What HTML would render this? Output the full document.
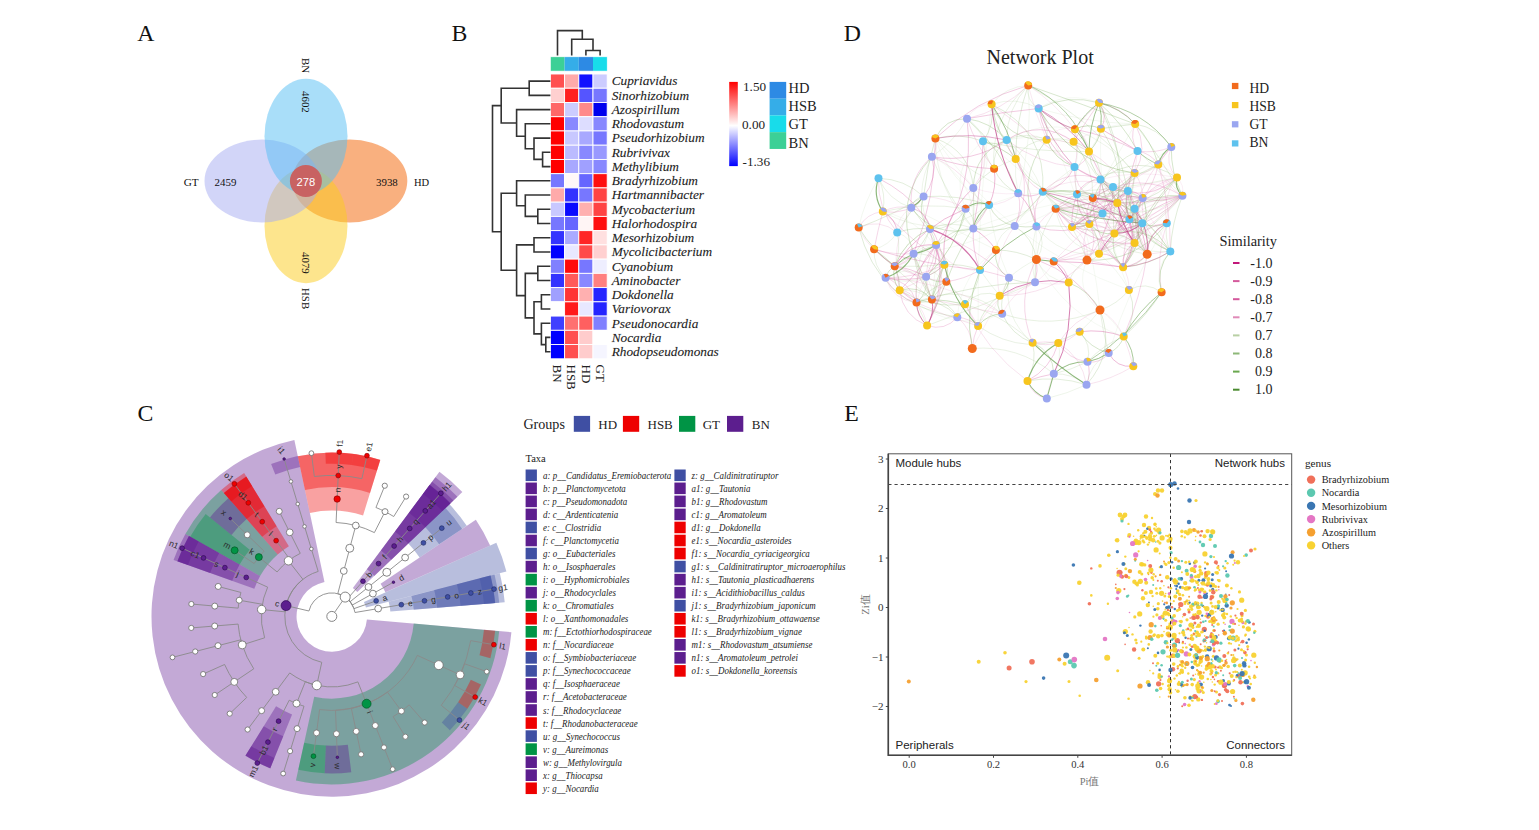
<!DOCTYPE html>
<html><head><meta charset="utf-8"><style>
html,body{margin:0;padding:0;background:#fff;width:1539px;height:830px;overflow:hidden}
svg{display:block}
</style></head><body>
<svg width="1539" height="830" viewBox="0 0 1539 830">
<text x="137.3" y="41.3" font-size="23.8" font-family="Liberation Serif" fill="#111">A</text>
<text x="451.5" y="41.3" font-size="23.8" font-family="Liberation Serif" fill="#111">B</text>
<text x="843.8" y="41.3" font-size="23.8" font-family="Liberation Serif" fill="#111">D</text>
<text x="137.5" y="420.8" font-size="23.8" font-family="Liberation Serif" fill="#111">C</text>
<text x="844.3" y="420.8" font-size="23.8" font-family="Liberation Serif" fill="#111">E</text>
<g>
<ellipse cx="349.8" cy="181" rx="57.5" ry="41.5" fill="#F36100" fill-opacity="0.5"/>
<ellipse cx="306" cy="225.7" rx="41.5" ry="57.5" fill="#FBCB1B" fill-opacity="0.5"/>
<ellipse cx="262" cy="181" rx="57.5" ry="41.5" fill="#A5ABF1" fill-opacity="0.5"/>
<ellipse cx="306" cy="136.3" rx="41.5" ry="57.5" fill="#53BDF3" fill-opacity="0.5"/>
<circle cx="305.9" cy="181" r="16" fill="#C86262"/>
</g>
<text x="183.7" y="186.3" font-size="11.2" font-family="Liberation Serif" fill="#111">GT</text>
<text x="214.6" y="186.3" font-size="10.9" font-family="Liberation Serif" fill="#111">2459</text>
<text x="376" y="186.3" font-size="10.9" font-family="Liberation Serif" fill="#111">3938</text>
<text x="414" y="186.3" font-size="10.5" font-family="Liberation Serif" fill="#111">HD</text>
<text x="296.6" y="186.3" font-size="11.2" font-family="Liberation Sans" fill="#fff">278</text>
<text transform="translate(302,58) rotate(90)" font-size="10.9" font-family="Liberation Serif" fill="#111">BN</text>
<text transform="translate(302,91) rotate(90)" font-size="10.9" font-family="Liberation Serif" fill="#111">4602</text>
<text transform="translate(302,252) rotate(90)" font-size="10.9" font-family="Liberation Serif" fill="#111">4079</text>
<text transform="translate(302,288) rotate(90)" font-size="10.9" font-family="Liberation Serif" fill="#111">HSB</text>
<rect x="550.40" y="56.8" width="14.20" height="14.3" fill="#3CD096"/>
<rect x="564.60" y="56.8" width="14.20" height="14.3" fill="#35ADE8"/>
<rect x="578.80" y="56.8" width="14.20" height="14.3" fill="#2D8AE4"/>
<rect x="593.00" y="56.8" width="14.20" height="14.3" fill="#18DCEA"/>
<rect x="550.4" y="56.8" width="56.80" height="14.3" fill="none" stroke="#fff" stroke-width="0.6"/>
<rect x="550.40" y="74.00" width="14.20" height="14.24" fill="#FF5050" stroke="#fff" stroke-width="0.9"/>
<rect x="564.60" y="74.00" width="14.20" height="14.24" fill="#FFAAAA" stroke="#fff" stroke-width="0.9"/>
<rect x="578.80" y="74.00" width="14.20" height="14.24" fill="#1010FF" stroke="#fff" stroke-width="0.9"/>
<rect x="593.00" y="74.00" width="14.20" height="14.24" fill="#CCCCFF" stroke="#fff" stroke-width="0.9"/>
<rect x="550.40" y="88.24" width="14.20" height="14.24" fill="#FFD0D0" stroke="#fff" stroke-width="0.9"/>
<rect x="564.60" y="88.24" width="14.20" height="14.24" fill="#FF2020" stroke="#fff" stroke-width="0.9"/>
<rect x="578.80" y="88.24" width="14.20" height="14.24" fill="#5555FF" stroke="#fff" stroke-width="0.9"/>
<rect x="593.00" y="88.24" width="14.20" height="14.24" fill="#7777FF" stroke="#fff" stroke-width="0.9"/>
<rect x="550.40" y="102.48" width="14.20" height="14.24" fill="#FF6868" stroke="#fff" stroke-width="0.9"/>
<rect x="564.60" y="102.48" width="14.20" height="14.24" fill="#CCCCFF" stroke="#fff" stroke-width="0.9"/>
<rect x="578.80" y="102.48" width="14.20" height="14.24" fill="#FF8A8A" stroke="#fff" stroke-width="0.9"/>
<rect x="593.00" y="102.48" width="14.20" height="14.24" fill="#0000EE" stroke="#fff" stroke-width="0.9"/>
<rect x="550.40" y="116.72" width="14.20" height="14.24" fill="#FF0000" stroke="#fff" stroke-width="0.9"/>
<rect x="564.60" y="116.72" width="14.20" height="14.24" fill="#8888FF" stroke="#fff" stroke-width="0.9"/>
<rect x="578.80" y="116.72" width="14.20" height="14.24" fill="#DDDDFF" stroke="#fff" stroke-width="0.9"/>
<rect x="593.00" y="116.72" width="14.20" height="14.24" fill="#8888FF" stroke="#fff" stroke-width="0.9"/>
<rect x="550.40" y="130.96" width="14.20" height="14.24" fill="#FF0000" stroke="#fff" stroke-width="0.9"/>
<rect x="564.60" y="130.96" width="14.20" height="14.24" fill="#C8C8FF" stroke="#fff" stroke-width="0.9"/>
<rect x="578.80" y="130.96" width="14.20" height="14.24" fill="#A8A8FF" stroke="#fff" stroke-width="0.9"/>
<rect x="593.00" y="130.96" width="14.20" height="14.24" fill="#7777FF" stroke="#fff" stroke-width="0.9"/>
<rect x="550.40" y="145.20" width="14.20" height="14.24" fill="#FF0000" stroke="#fff" stroke-width="0.9"/>
<rect x="564.60" y="145.20" width="14.20" height="14.24" fill="#BBBBFF" stroke="#fff" stroke-width="0.9"/>
<rect x="578.80" y="145.20" width="14.20" height="14.24" fill="#8888FF" stroke="#fff" stroke-width="0.9"/>
<rect x="593.00" y="145.20" width="14.20" height="14.24" fill="#9999FF" stroke="#fff" stroke-width="0.9"/>
<rect x="550.40" y="159.44" width="14.20" height="14.24" fill="#FF0000" stroke="#fff" stroke-width="0.9"/>
<rect x="564.60" y="159.44" width="14.20" height="14.24" fill="#A8A8FF" stroke="#fff" stroke-width="0.9"/>
<rect x="578.80" y="159.44" width="14.20" height="14.24" fill="#A0A0FF" stroke="#fff" stroke-width="0.9"/>
<rect x="593.00" y="159.44" width="14.20" height="14.24" fill="#8888FF" stroke="#fff" stroke-width="0.9"/>
<rect x="550.40" y="173.68" width="14.20" height="14.24" fill="#7777FF" stroke="#fff" stroke-width="0.9"/>
<rect x="564.60" y="173.68" width="14.20" height="14.24" fill="#FFF8F8" stroke="#fff" stroke-width="0.9"/>
<rect x="578.80" y="173.68" width="14.20" height="14.24" fill="#6666FF" stroke="#fff" stroke-width="0.9"/>
<rect x="593.00" y="173.68" width="14.20" height="14.24" fill="#FF1010" stroke="#fff" stroke-width="0.9"/>
<rect x="550.40" y="187.92" width="14.20" height="14.24" fill="#FFAAAA" stroke="#fff" stroke-width="0.9"/>
<rect x="564.60" y="187.92" width="14.20" height="14.24" fill="#3333FF" stroke="#fff" stroke-width="0.9"/>
<rect x="578.80" y="187.92" width="14.20" height="14.24" fill="#7777FF" stroke="#fff" stroke-width="0.9"/>
<rect x="593.00" y="187.92" width="14.20" height="14.24" fill="#FF4444" stroke="#fff" stroke-width="0.9"/>
<rect x="550.40" y="202.16" width="14.20" height="14.24" fill="#C8C8FF" stroke="#fff" stroke-width="0.9"/>
<rect x="564.60" y="202.16" width="14.20" height="14.24" fill="#0A0AFF" stroke="#fff" stroke-width="0.9"/>
<rect x="578.80" y="202.16" width="14.20" height="14.24" fill="#FFB0B0" stroke="#fff" stroke-width="0.9"/>
<rect x="593.00" y="202.16" width="14.20" height="14.24" fill="#FF4444" stroke="#fff" stroke-width="0.9"/>
<rect x="550.40" y="216.40" width="14.20" height="14.24" fill="#7777FF" stroke="#fff" stroke-width="0.9"/>
<rect x="564.60" y="216.40" width="14.20" height="14.24" fill="#6666FF" stroke="#fff" stroke-width="0.9"/>
<rect x="578.80" y="216.40" width="14.20" height="14.24" fill="#FFF5F5" stroke="#fff" stroke-width="0.9"/>
<rect x="593.00" y="216.40" width="14.20" height="14.24" fill="#FF1010" stroke="#fff" stroke-width="0.9"/>
<rect x="550.40" y="230.64" width="14.20" height="14.24" fill="#3333FF" stroke="#fff" stroke-width="0.9"/>
<rect x="564.60" y="230.64" width="14.20" height="14.24" fill="#AAAAFF" stroke="#fff" stroke-width="0.9"/>
<rect x="578.80" y="230.64" width="14.20" height="14.24" fill="#FF2525" stroke="#fff" stroke-width="0.9"/>
<rect x="593.00" y="230.64" width="14.20" height="14.24" fill="#FFE0E0" stroke="#fff" stroke-width="0.9"/>
<rect x="550.40" y="244.88" width="14.20" height="14.24" fill="#0000FF" stroke="#fff" stroke-width="0.9"/>
<rect x="564.60" y="244.88" width="14.20" height="14.24" fill="#E8E8FF" stroke="#fff" stroke-width="0.9"/>
<rect x="578.80" y="244.88" width="14.20" height="14.24" fill="#FF4A4A" stroke="#fff" stroke-width="0.9"/>
<rect x="593.00" y="244.88" width="14.20" height="14.24" fill="#FFD0D0" stroke="#fff" stroke-width="0.9"/>
<rect x="550.40" y="259.12" width="14.20" height="14.24" fill="#8080FF" stroke="#fff" stroke-width="0.9"/>
<rect x="564.60" y="259.12" width="14.20" height="14.24" fill="#FF0A0A" stroke="#fff" stroke-width="0.9"/>
<rect x="578.80" y="259.12" width="14.20" height="14.24" fill="#7777FF" stroke="#fff" stroke-width="0.9"/>
<rect x="593.00" y="259.12" width="14.20" height="14.24" fill="#EEEEFF" stroke="#fff" stroke-width="0.9"/>
<rect x="550.40" y="273.36" width="14.20" height="14.24" fill="#3333FF" stroke="#fff" stroke-width="0.9"/>
<rect x="564.60" y="273.36" width="14.20" height="14.24" fill="#FF5A5A" stroke="#fff" stroke-width="0.9"/>
<rect x="578.80" y="273.36" width="14.20" height="14.24" fill="#8888FF" stroke="#fff" stroke-width="0.9"/>
<rect x="593.00" y="273.36" width="14.20" height="14.24" fill="#FF8080" stroke="#fff" stroke-width="0.9"/>
<rect x="550.40" y="287.60" width="14.20" height="14.24" fill="#A0A0FF" stroke="#fff" stroke-width="0.9"/>
<rect x="564.60" y="287.60" width="14.20" height="14.24" fill="#FF3535" stroke="#fff" stroke-width="0.9"/>
<rect x="578.80" y="287.60" width="14.20" height="14.24" fill="#FFB0B0" stroke="#fff" stroke-width="0.9"/>
<rect x="593.00" y="287.60" width="14.20" height="14.24" fill="#2525FF" stroke="#fff" stroke-width="0.9"/>
<rect x="550.40" y="301.84" width="14.20" height="14.24" fill="#FFFFFF" stroke="#fff" stroke-width="0.9"/>
<rect x="564.60" y="301.84" width="14.20" height="14.24" fill="#FF1A1A" stroke="#fff" stroke-width="0.9"/>
<rect x="578.80" y="301.84" width="14.20" height="14.24" fill="#E8E8FF" stroke="#fff" stroke-width="0.9"/>
<rect x="593.00" y="301.84" width="14.20" height="14.24" fill="#2525FF" stroke="#fff" stroke-width="0.9"/>
<rect x="550.40" y="316.08" width="14.20" height="14.24" fill="#4040FF" stroke="#fff" stroke-width="0.9"/>
<rect x="564.60" y="316.08" width="14.20" height="14.24" fill="#FF7070" stroke="#fff" stroke-width="0.9"/>
<rect x="578.80" y="316.08" width="14.20" height="14.24" fill="#FF6060" stroke="#fff" stroke-width="0.9"/>
<rect x="593.00" y="316.08" width="14.20" height="14.24" fill="#8080FF" stroke="#fff" stroke-width="0.9"/>
<rect x="550.40" y="330.32" width="14.20" height="14.24" fill="#0000FF" stroke="#fff" stroke-width="0.9"/>
<rect x="564.60" y="330.32" width="14.20" height="14.24" fill="#FF5050" stroke="#fff" stroke-width="0.9"/>
<rect x="578.80" y="330.32" width="14.20" height="14.24" fill="#FFCCCC" stroke="#fff" stroke-width="0.9"/>
<rect x="593.00" y="330.32" width="14.20" height="14.24" fill="#FFFFFF" stroke="#fff" stroke-width="0.9"/>
<rect x="550.40" y="344.56" width="14.20" height="14.24" fill="#0000FF" stroke="#fff" stroke-width="0.9"/>
<rect x="564.60" y="344.56" width="14.20" height="14.24" fill="#FF5050" stroke="#fff" stroke-width="0.9"/>
<rect x="578.80" y="344.56" width="14.20" height="14.24" fill="#FFCCCC" stroke="#fff" stroke-width="0.9"/>
<rect x="593.00" y="344.56" width="14.20" height="14.24" fill="#F5F5FF" stroke="#fff" stroke-width="0.9"/>
<path d="M550.4,81.1H529.2V95.4H550.4M550.4,152.3H542.6V166.6H550.4M550.4,138.1H534.0V159.4H542.6M550.4,123.8H525.3V148.8H534.0M550.4,109.6H516.6V136.3H525.3M529.2,88.2H501.2V123.0H516.6M550.4,209.3H537.8V223.5H550.4M550.4,195.0H525.3V216.4H537.8M550.4,180.8H516.6V205.7H525.3M550.4,237.8H534.0V252.0H550.4M550.4,266.2H537.8V280.5H550.4M550.4,294.7H541.4V309.0H550.4M550.4,337.4H545.8V351.7H550.4M550.4,323.2H541.4V344.6H545.8M541.4,301.8H534.0V333.9H541.4M537.8,273.4H525.3V317.9H534.0M534.0,244.9H516.6V295.6H525.3M516.6,193.3H501.2V270.2H516.6M501.2,105.6H492.5V231.8H501.2M585.9,55.5V50.5H600.1V55.5M571.7,55.5V39.3H593.0V50.5M557.5,55.5V30.6H582.3V39.3" fill="none" stroke="#333" stroke-width="1.6"/>
<text x="611.7" y="85.4" font-size="13.3" font-style="italic" font-family="Liberation Serif" fill="#222" stroke="#222" stroke-width="0.3" stroke-opacity="0.35">Cupriavidus</text>
<text x="611.7" y="99.7" font-size="13.3" font-style="italic" font-family="Liberation Serif" fill="#222" stroke="#222" stroke-width="0.3" stroke-opacity="0.35">Sinorhizobium</text>
<text x="611.7" y="113.9" font-size="13.3" font-style="italic" font-family="Liberation Serif" fill="#222" stroke="#222" stroke-width="0.3" stroke-opacity="0.35">Azospirillum</text>
<text x="611.7" y="128.1" font-size="13.3" font-style="italic" font-family="Liberation Serif" fill="#222" stroke="#222" stroke-width="0.3" stroke-opacity="0.35">Rhodovastum</text>
<text x="611.7" y="142.4" font-size="13.3" font-style="italic" font-family="Liberation Serif" fill="#222" stroke="#222" stroke-width="0.3" stroke-opacity="0.35">Pseudorhizobium</text>
<text x="611.7" y="156.6" font-size="13.3" font-style="italic" font-family="Liberation Serif" fill="#222" stroke="#222" stroke-width="0.3" stroke-opacity="0.35">Rubrivivax</text>
<text x="611.7" y="170.9" font-size="13.3" font-style="italic" font-family="Liberation Serif" fill="#222" stroke="#222" stroke-width="0.3" stroke-opacity="0.35">Methylibium</text>
<text x="611.7" y="185.1" font-size="13.3" font-style="italic" font-family="Liberation Serif" fill="#222" stroke="#222" stroke-width="0.3" stroke-opacity="0.35">Bradyrhizobium</text>
<text x="611.7" y="199.3" font-size="13.3" font-style="italic" font-family="Liberation Serif" fill="#222" stroke="#222" stroke-width="0.3" stroke-opacity="0.35">Hartmannibacter</text>
<text x="611.7" y="213.6" font-size="13.3" font-style="italic" font-family="Liberation Serif" fill="#222" stroke="#222" stroke-width="0.3" stroke-opacity="0.35">Mycobacterium</text>
<text x="611.7" y="227.8" font-size="13.3" font-style="italic" font-family="Liberation Serif" fill="#222" stroke="#222" stroke-width="0.3" stroke-opacity="0.35">Halorhodospira</text>
<text x="611.7" y="242.1" font-size="13.3" font-style="italic" font-family="Liberation Serif" fill="#222" stroke="#222" stroke-width="0.3" stroke-opacity="0.35">Mesorhizobium</text>
<text x="611.7" y="256.3" font-size="13.3" font-style="italic" font-family="Liberation Serif" fill="#222" stroke="#222" stroke-width="0.3" stroke-opacity="0.35">Mycolicibacterium</text>
<text x="611.7" y="270.5" font-size="13.3" font-style="italic" font-family="Liberation Serif" fill="#222" stroke="#222" stroke-width="0.3" stroke-opacity="0.35">Cyanobium</text>
<text x="611.7" y="284.8" font-size="13.3" font-style="italic" font-family="Liberation Serif" fill="#222" stroke="#222" stroke-width="0.3" stroke-opacity="0.35">Aminobacter</text>
<text x="611.7" y="299.0" font-size="13.3" font-style="italic" font-family="Liberation Serif" fill="#222" stroke="#222" stroke-width="0.3" stroke-opacity="0.35">Dokdonella</text>
<text x="611.7" y="313.3" font-size="13.3" font-style="italic" font-family="Liberation Serif" fill="#222" stroke="#222" stroke-width="0.3" stroke-opacity="0.35">Variovorax</text>
<text x="611.7" y="327.5" font-size="13.3" font-style="italic" font-family="Liberation Serif" fill="#222" stroke="#222" stroke-width="0.3" stroke-opacity="0.35">Pseudonocardia</text>
<text x="611.7" y="341.7" font-size="13.3" font-style="italic" font-family="Liberation Serif" fill="#222" stroke="#222" stroke-width="0.3" stroke-opacity="0.35">Nocardia</text>
<text x="611.7" y="356.0" font-size="13.3" font-style="italic" font-family="Liberation Serif" fill="#222" stroke="#222" stroke-width="0.3" stroke-opacity="0.35">Rhodopseudomonas</text>
<text transform="translate(553.2,364.5) rotate(90)" font-size="13" font-family="Liberation Serif" fill="#222">BN</text>
<text transform="translate(567.4,364.5) rotate(90)" font-size="13" font-family="Liberation Serif" fill="#222">HSB</text>
<text transform="translate(581.6,364.5) rotate(90)" font-size="13" font-family="Liberation Serif" fill="#222">HD</text>
<text transform="translate(595.8,364.5) rotate(90)" font-size="13" font-family="Liberation Serif" fill="#222">GT</text>
<defs><linearGradient id="cb" x1="0" y1="0" x2="0" y2="1"><stop offset="0" stop-color="#FF0000"/><stop offset="0.52" stop-color="#FFFFFF"/><stop offset="1" stop-color="#0000FF"/></linearGradient></defs>
<rect x="729.2" y="81.9" width="8.6" height="84.2" fill="url(#cb)"/>
<text x="743" y="90.8" font-size="13.2" font-family="Liberation Serif" fill="#222">1.50</text>
<text x="742" y="128.5" font-size="13.2" font-family="Liberation Serif" fill="#222">0.00</text>
<text x="742.5" y="165.6" font-size="13.2" font-family="Liberation Serif" fill="#222">-1.36</text>
<rect x="769.6" y="81.90" width="16.6" height="16.8" fill="#2D8AE4"/>
<text x="788.5" y="93.30" font-size="14.5" font-family="Liberation Serif" fill="#222">HD</text>
<rect x="769.6" y="98.65" width="16.6" height="16.8" fill="#35ADE8"/>
<text x="788.5" y="111.37" font-size="14.5" font-family="Liberation Serif" fill="#222">HSB</text>
<rect x="769.6" y="115.40" width="16.6" height="16.8" fill="#18DCEA"/>
<text x="788.5" y="129.44" font-size="14.5" font-family="Liberation Serif" fill="#222">GT</text>
<rect x="769.6" y="132.15" width="16.6" height="16.8" fill="#3CD096"/>
<text x="788.5" y="147.51" font-size="14.5" font-family="Liberation Serif" fill="#222">BN</text>
<g>
<path d="M294.36,440.03A180.3,180.3 0 1 0 511.40,632.22L366.91,619.49A35.25,35.25 0 1 1 324.48,581.92Z" fill="#5C1690" fill-opacity="0.37"/>
<path d="M462.36,492.05A180.3,180.3 0 0 0 439.46,471.77L352.85,588.12A35.25,35.25 0 0 1 357.32,592.09Z" fill="#5C1690" fill-opacity="0.37"/>
<path d="M506.42,571.52A180.3,180.3 0 0 0 496.33,542.65L363.97,601.98A35.25,35.25 0 0 1 365.94,607.62Z" fill="#3F4FA3" fill-opacity="0.37"/>
<path d="M457.43,496.74A173.5,173.5 0 0 0 435.40,477.23L366.88,569.27A58.75,58.75 0 0 1 374.34,575.88Z" fill="#5C1690" fill-opacity="0.37"/>
<path d="M490.12,545.43A173.5,173.5 0 0 0 475.85,519.69L380.58,583.65A58.75,58.75 0 0 1 385.41,592.37Z" fill="#5C1690" fill-opacity="0.37"/>
<path d="M504.72,602.23A173.5,173.5 0 0 0 499.84,573.21L388.70,601.77A58.75,58.75 0 0 1 390.35,611.60Z" fill="#3F4FA3" fill-opacity="0.37"/>
<path d="M244.16,473.07A168.0,168.0 0 0 0 221.20,489.95L277.65,554.49A82.25,82.25 0 0 1 288.89,546.23Z" fill="#EE0000" fill-opacity="0.37"/>
<path d="M221.20,489.95A168.0,168.0 0 0 0 185.39,534.02L260.12,576.07A82.25,82.25 0 0 1 277.65,554.49Z" fill="#009445" fill-opacity="0.37"/>
<path d="M185.39,534.02A168.0,168.0 0 0 0 173.57,559.95L254.33,588.76A82.25,82.25 0 0 1 260.12,576.07Z" fill="#5C1690" fill-opacity="0.37"/>
<path d="M295.91,780.52A168.0,168.0 0 0 0 499.15,631.14L413.73,623.62A82.25,82.25 0 0 1 314.23,696.75Z" fill="#009445" fill-opacity="0.37"/>
<path d="M453.45,500.53A168.0,168.0 0 0 0 432.12,481.64L380.91,550.42A82.25,82.25 0 0 1 391.36,559.67Z" fill="#5C1690" fill-opacity="0.37"/>
<path d="M499.24,602.68A168.0,168.0 0 0 0 494.51,574.58L411.46,595.92A82.25,82.25 0 0 1 413.78,609.68Z" fill="#3F4FA3" fill-opacity="0.37"/>
<path d="M246.35,476.66A163.8,163.8 0 0 0 223.96,493.11L262.18,536.80A105.75,105.75 0 0 1 276.63,526.18Z" fill="#EE0000" fill-opacity="0.37"/>
<path d="M205.68,513.93A162.5,162.5 0 0 0 190.18,536.71L239.64,564.54A105.75,105.75 0 0 1 249.73,549.71Z" fill="#009445" fill-opacity="0.37"/>
<path d="M189.05,536.08A163.8,163.8 0 0 0 177.52,561.36L232.20,580.87A105.75,105.75 0 0 1 239.64,564.54Z" fill="#5C1690" fill-opacity="0.37"/>
<path d="M245.50,755.62A163.8,163.8 0 0 0 270.27,768.20L292.07,714.40A105.75,105.75 0 0 1 276.08,706.28Z" fill="#5C1690" fill-opacity="0.37"/>
<path d="M380.25,459.93A163.8,163.8 0 0 0 297.79,456.17L309.84,512.96A105.75,105.75 0 0 1 363.08,515.38Z" fill="#EE0000" fill-opacity="0.37"/>
<path d="M450.41,503.43A163.8,163.8 0 0 0 429.61,485.01L394.95,531.57A105.75,105.75 0 0 1 408.37,543.47Z" fill="#5C1690" fill-opacity="0.37"/>
<path d="M466.72,525.83A162.5,162.5 0 0 0 449.47,504.33L408.37,543.47A105.75,105.75 0 0 1 419.60,557.46Z" fill="#3F4FA3" fill-opacity="0.37"/>
<path d="M495.05,603.02A163.8,163.8 0 0 0 490.44,575.62L434.22,590.07A105.75,105.75 0 0 1 437.20,607.76Z" fill="#3F4FA3" fill-opacity="0.37"/>
<path d="M246.35,476.66A163.8,163.8 0 0 0 223.96,493.11L246.71,519.11A129.25,129.25 0 0 1 264.37,506.13Z" fill="#EE0000" fill-opacity="0.37"/>
<path d="M228.44,498.23A157.0,157.0 0 0 0 209.95,517.39L231.49,534.89A129.25,129.25 0 0 1 246.71,519.11Z" fill="#5C1690" fill-opacity="0.37"/>
<path d="M189.05,536.08A163.8,163.8 0 0 0 177.52,561.36L210.07,572.97A129.25,129.25 0 0 1 219.16,553.02Z" fill="#5C1690" fill-opacity="0.37"/>
<path d="M245.50,755.62A163.8,163.8 0 0 0 270.27,768.20L283.25,736.18A129.25,129.25 0 0 1 263.70,726.25Z" fill="#5C1690" fill-opacity="0.37"/>
<path d="M298.26,769.78A157.0,157.0 0 0 0 324.66,773.24L325.93,745.52A129.25,129.25 0 0 1 304.19,742.67Z" fill="#009445" fill-opacity="0.37"/>
<path d="M324.66,773.24A157.0,157.0 0 0 0 351.27,772.19L347.83,744.65A129.25,129.25 0 0 1 325.93,745.52Z" fill="#5C1690" fill-opacity="0.37"/>
<path d="M380.25,459.93A163.8,163.8 0 0 0 297.79,456.17L304.96,489.97A129.25,129.25 0 0 1 370.03,492.93Z" fill="#EE0000" fill-opacity="0.37"/>
<path d="M450.41,503.43A163.8,163.8 0 0 0 429.61,485.01L408.98,512.72A129.25,129.25 0 0 1 425.39,527.26Z" fill="#5C1690" fill-opacity="0.37"/>
<path d="M462.15,528.89A157.0,157.0 0 0 0 445.49,508.12L425.39,527.26A129.25,129.25 0 0 1 439.11,544.36Z" fill="#3F4FA3" fill-opacity="0.37"/>
<path d="M495.05,603.02A163.8,163.8 0 0 0 490.44,575.62L456.98,584.22A129.25,129.25 0 0 1 460.62,605.84Z" fill="#3F4FA3" fill-opacity="0.37"/>
<path d="M246.24,476.48A164.0,164.0 0 0 0 223.83,492.96L231.24,501.42A152.75,152.75 0 0 1 252.11,486.08Z" fill="#EE0000" fill-opacity="0.37"/>
<path d="M188.87,535.98A164.0,164.0 0 0 0 177.34,561.29L187.93,565.07A152.75,152.75 0 0 1 198.68,541.50Z" fill="#5C1690" fill-opacity="0.37"/>
<path d="M245.39,755.79A164.0,164.0 0 0 0 270.19,768.39L274.42,757.96A152.75,152.75 0 0 1 251.32,746.23Z" fill="#5C1690" fill-opacity="0.37"/>
<path d="M449.86,730.23A164.0,164.0 0 0 0 467.40,708.64L458.10,702.31A152.75,152.75 0 0 1 441.76,722.42Z" fill="#3F4FA3" fill-opacity="0.37"/>
<path d="M467.40,708.64A164.0,164.0 0 0 0 481.04,684.40L470.80,679.73A152.75,152.75 0 0 1 458.10,702.31Z" fill="#EE0000" fill-opacity="0.37"/>
<path d="M490.38,658.20A164.0,164.0 0 0 0 495.17,630.79L483.96,629.81A152.75,152.75 0 0 1 479.51,655.33Z" fill="#EE0000" fill-opacity="0.37"/>
<path d="M297.74,455.97A164.0,164.0 0 0 0 271.12,464.04L275.28,474.49A152.75,152.75 0 0 1 300.08,466.98Z" fill="#5C1690" fill-opacity="0.37"/>
<path d="M353.14,453.79A164.0,164.0 0 0 0 325.35,452.53L325.79,463.77A152.75,152.75 0 0 1 351.67,464.95Z" fill="#EE0000" fill-opacity="0.37"/>
<path d="M380.31,459.74A164.0,164.0 0 0 0 353.14,453.79L351.67,464.95A152.75,152.75 0 0 1 376.98,470.49Z" fill="#EE0000" fill-opacity="0.37"/>
<path d="M450.55,503.29A164.0,164.0 0 0 0 429.73,484.85L423.01,493.87A152.75,152.75 0 0 1 442.41,511.05Z" fill="#5C1690" fill-opacity="0.37"/>
<path d="M495.25,603.00A164.0,164.0 0 0 0 490.64,575.57L479.74,578.37A152.75,152.75 0 0 1 484.04,603.92Z" fill="#3F4FA3" fill-opacity="0.37"/>
</g>
<path d="M331.80,616.40L345.18,597.08M345.18,597.08A23.5,23.5 0 0 0 308.93,611.00L286.06,605.60M286.06,605.60A47.0,47.0 0 0 1 302.91,579.33L288.46,560.79M288.46,560.79A70.5,70.5 0 0 1 300.25,553.35L289.74,532.33M289.74,532.33L279.22,511.32M288.46,560.79A70.5,70.5 0 0 1 290.05,559.59L276.14,540.65M276.14,540.65L262.22,521.72M262.22,521.72L248.31,502.78M248.31,502.78L234.39,483.84M288.46,560.79A70.5,70.5 0 0 0 277.08,571.94L258.85,557.12M258.85,557.12A94.0,94.0 0 0 0 254.08,563.52L234.65,550.30M258.85,557.12A94.0,94.0 0 0 1 264.14,551.15L247.22,534.84M247.22,534.84L230.30,518.52M286.06,605.60A47.0,47.0 0 0 0 285.02,611.83L261.63,609.54M261.63,609.54A70.5,70.5 0 0 1 267.65,587.16L246.26,577.42M246.26,577.42L224.88,567.67M224.88,567.67L203.50,557.93M203.50,557.93L182.11,548.18M261.63,609.54A70.5,70.5 0 0 1 262.35,604.27L239.20,600.23M239.20,600.23A94.0,94.0 0 0 1 240.91,592.44L218.18,586.44M239.20,600.23A94.0,94.0 0 0 0 238.16,608.14L214.75,606.08M214.75,606.08L191.35,604.01M261.63,609.54A70.5,70.5 0 0 0 264.62,637.79L242.23,644.92M242.23,644.92A94.0,94.0 0 0 1 238.11,624.09L214.69,626.01M214.69,626.01L191.27,627.93M242.23,644.92A94.0,94.0 0 0 1 240.76,639.81L218.00,645.66M218.00,645.66L195.24,651.51M195.24,651.51L172.48,657.37M242.23,644.92A94.0,94.0 0 0 0 253.76,668.80L234.25,681.90M234.25,681.90A117.5,117.5 0 0 1 224.58,664.47L203.14,674.09M234.25,681.90L214.74,695.00M234.25,681.90A117.5,117.5 0 0 0 246.72,697.45L229.71,713.65M286.06,605.60A47.0,47.0 0 0 0 321.76,662.32L316.74,685.27M316.74,685.27A70.5,70.5 0 0 1 289.71,672.95L275.68,691.81M275.68,691.81L261.64,710.66M261.64,710.66L247.61,729.51M316.74,685.27A70.5,70.5 0 0 1 305.32,681.74L296.49,703.52M296.49,703.52A94.0,94.0 0 0 1 289.23,700.21L278.58,721.16M278.58,721.16L267.94,742.11M267.94,742.11L257.30,763.06M296.49,703.52A94.0,94.0 0 0 0 304.00,706.20L297.05,728.65M297.05,728.65L290.11,751.09M290.11,751.09L283.16,773.54M316.74,685.27A70.5,70.5 0 0 0 357.89,681.89L366.59,703.73M366.59,703.73A94.0,94.0 0 0 1 319.58,709.60L316.52,732.90M316.52,732.90L313.47,756.20M366.59,703.73A94.0,94.0 0 0 1 335.51,710.33L336.43,733.81M336.43,733.81L337.36,757.29M366.59,703.73A94.0,94.0 0 0 1 351.33,708.35L356.21,731.34M356.21,731.34L361.09,754.32M366.59,703.73L375.28,725.56M375.28,725.56L383.98,747.39M383.98,747.39L392.68,769.22M366.59,703.73A94.0,94.0 0 0 0 387.47,692.14L401.39,711.08M401.39,711.08A117.5,117.5 0 0 1 393.11,716.64L405.37,736.69M401.39,711.08A117.5,117.5 0 0 0 409.17,704.84L424.64,722.52M366.59,703.73A94.0,94.0 0 0 0 417.34,655.37L438.72,665.12M438.72,665.12L460.11,674.86M460.11,674.86A141.0,141.0 0 0 1 441.24,705.31L459.48,720.12M460.11,674.86A141.0,141.0 0 0 1 454.69,685.53L475.17,697.05M460.11,674.86A141.0,141.0 0 0 0 464.61,663.77L486.74,671.66M460.11,674.86A141.0,141.0 0 0 0 470.70,640.64L493.85,644.68M286.06,605.60A47.0,47.0 0 0 1 318.18,571.42L311.36,548.93M311.36,548.93L304.55,526.44M304.55,526.44L297.74,503.94M297.74,503.94L290.93,481.45M290.93,481.45L284.12,458.96M345.18,597.08A23.5,23.5 0 0 0 337.79,593.68L343.78,570.95M343.78,570.95L349.78,548.23M349.78,548.23L355.77,525.51M355.77,525.51A94.0,94.0 0 0 0 336.08,522.50L337.15,499.02M337.15,499.02L338.22,475.55M338.22,475.55A141.0,141.0 0 0 0 314.32,476.49L311.41,453.17M338.22,475.55L339.29,452.07M338.22,475.55A141.0,141.0 0 0 1 361.93,478.66L366.96,455.70M355.77,525.51A94.0,94.0 0 0 1 374.38,532.60L385.03,511.65M385.03,511.65A117.5,117.5 0 0 0 375.95,507.51L384.78,485.73M385.03,511.65A117.5,117.5 0 0 1 393.72,516.54L406.10,496.57M345.18,597.08A23.5,23.5 0 0 1 347.38,598.81L362.96,581.22M362.96,581.22L378.54,563.62M378.54,563.62L394.12,546.03M394.12,546.03L409.70,528.44M409.70,528.44L425.28,510.85M425.28,510.85L440.87,493.25M345.18,597.08A23.5,23.5 0 0 1 350.13,601.69L368.46,586.99M368.46,586.99L386.79,572.28M386.79,572.28L405.12,557.58M405.12,557.58L423.45,542.87M423.45,542.87L441.78,528.16M345.18,597.08A23.5,23.5 0 0 1 352.35,605.00L372.90,593.61M372.90,593.61L393.45,582.21M345.18,597.08A23.5,23.5 0 0 1 353.98,608.64L376.16,600.88M345.18,597.08A23.5,23.5 0 0 1 354.97,612.50L378.15,608.60M378.15,608.60L401.32,604.70M401.32,604.70L424.50,600.80M424.50,600.80L447.67,596.91M447.67,596.91L470.85,593.01M470.85,593.01L494.02,589.11" fill="none" stroke="#8a8a8a" stroke-width="0.9"/>
<circle cx="331.80" cy="616.40" r="5" fill="#fff" stroke="#777" stroke-width="0.9"/>
<circle cx="345.18" cy="597.08" r="5" fill="#fff" stroke="#777" stroke-width="0.9"/>
<circle cx="286.06" cy="605.60" r="5" fill="#5C1E8E" stroke="#2E0A50" stroke-width="0.8" stroke-opacity="0.8"/>
<circle cx="288.46" cy="560.79" r="4.2" fill="#fff" stroke="#777" stroke-width="0.9"/>
<circle cx="289.74" cy="532.33" r="3.4" fill="#fff" stroke="#777" stroke-width="0.9"/>
<circle cx="279.22" cy="511.32" r="3.0" fill="#fff" stroke="#777" stroke-width="0.9"/>
<circle cx="276.14" cy="540.65" r="2.4" fill="#EE0000" stroke="#8A0000" stroke-width="0.8" stroke-opacity="0.8"/>
<circle cx="262.22" cy="521.72" r="2.4" fill="#EE0000" stroke="#8A0000" stroke-width="0.8" stroke-opacity="0.8"/>
<circle cx="248.31" cy="502.78" r="2.4" fill="#EE0000" stroke="#8A0000" stroke-width="0.8" stroke-opacity="0.8"/>
<circle cx="234.39" cy="483.84" r="2.4" fill="#EE0000" stroke="#8A0000" stroke-width="0.8" stroke-opacity="0.8"/>
<circle cx="258.85" cy="557.12" r="3.5" fill="#009445" stroke="#005522" stroke-width="0.8" stroke-opacity="0.8"/>
<circle cx="234.65" cy="550.30" r="3.5" fill="#009445" stroke="#005522" stroke-width="0.8" stroke-opacity="0.8"/>
<circle cx="247.22" cy="534.84" r="3.0" fill="#fff" stroke="#777" stroke-width="0.9"/>
<circle cx="230.30" cy="518.52" r="1.3" fill="#5C1E8E" stroke="#2E0A50" stroke-width="0.8" stroke-opacity="0.8"/>
<circle cx="261.63" cy="609.54" r="4.2" fill="#fff" stroke="#777" stroke-width="0.9"/>
<circle cx="246.26" cy="577.42" r="2.4" fill="#5C1E8E" stroke="#2E0A50" stroke-width="0.8" stroke-opacity="0.8"/>
<circle cx="224.88" cy="567.67" r="2.4" fill="#5C1E8E" stroke="#2E0A50" stroke-width="0.8" stroke-opacity="0.8"/>
<circle cx="203.50" cy="557.93" r="2.4" fill="#5C1E8E" stroke="#2E0A50" stroke-width="0.8" stroke-opacity="0.8"/>
<circle cx="182.11" cy="548.18" r="2.4" fill="#5C1E8E" stroke="#2E0A50" stroke-width="0.8" stroke-opacity="0.8"/>
<circle cx="239.20" cy="600.23" r="3.0" fill="#fff" stroke="#777" stroke-width="0.9"/>
<circle cx="218.18" cy="586.44" r="3.0" fill="#fff" stroke="#777" stroke-width="0.9"/>
<circle cx="214.75" cy="606.08" r="3.0" fill="#fff" stroke="#777" stroke-width="0.9"/>
<circle cx="191.35" cy="604.01" r="2.6" fill="#fff" stroke="#777" stroke-width="0.9"/>
<circle cx="242.23" cy="644.92" r="4.0" fill="#fff" stroke="#777" stroke-width="0.9"/>
<circle cx="214.69" cy="626.01" r="3.0" fill="#fff" stroke="#777" stroke-width="0.9"/>
<circle cx="191.27" cy="627.93" r="2.6" fill="#fff" stroke="#777" stroke-width="0.9"/>
<circle cx="218.00" cy="645.66" r="3.0" fill="#fff" stroke="#777" stroke-width="0.9"/>
<circle cx="195.24" cy="651.51" r="2.6" fill="#fff" stroke="#777" stroke-width="0.9"/>
<circle cx="172.48" cy="657.37" r="2.4" fill="#fff" stroke="#777" stroke-width="0.9"/>
<circle cx="234.25" cy="681.90" r="3.5" fill="#fff" stroke="#777" stroke-width="0.9"/>
<circle cx="203.14" cy="674.09" r="2.6" fill="#fff" stroke="#777" stroke-width="0.9"/>
<circle cx="214.74" cy="695.00" r="2.6" fill="#fff" stroke="#777" stroke-width="0.9"/>
<circle cx="229.71" cy="713.65" r="2.6" fill="#fff" stroke="#777" stroke-width="0.9"/>
<circle cx="316.74" cy="685.27" r="4.5" fill="#fff" stroke="#777" stroke-width="0.9"/>
<circle cx="275.68" cy="691.81" r="3.4" fill="#fff" stroke="#777" stroke-width="0.9"/>
<circle cx="261.64" cy="710.66" r="3.0" fill="#fff" stroke="#777" stroke-width="0.9"/>
<circle cx="247.61" cy="729.51" r="2.6" fill="#fff" stroke="#777" stroke-width="0.9"/>
<circle cx="296.49" cy="703.52" r="3.5" fill="#fff" stroke="#777" stroke-width="0.9"/>
<circle cx="278.58" cy="721.16" r="2.4" fill="#5C1E8E" stroke="#2E0A50" stroke-width="0.8" stroke-opacity="0.8"/>
<circle cx="267.94" cy="742.11" r="2.4" fill="#5C1E8E" stroke="#2E0A50" stroke-width="0.8" stroke-opacity="0.8"/>
<circle cx="257.30" cy="763.06" r="2.4" fill="#5C1E8E" stroke="#2E0A50" stroke-width="0.8" stroke-opacity="0.8"/>
<circle cx="297.05" cy="728.65" r="3.0" fill="#fff" stroke="#777" stroke-width="0.9"/>
<circle cx="290.11" cy="751.09" r="2.6" fill="#fff" stroke="#777" stroke-width="0.9"/>
<circle cx="283.16" cy="773.54" r="2.4" fill="#fff" stroke="#777" stroke-width="0.9"/>
<circle cx="366.59" cy="703.73" r="4.5" fill="#009445" stroke="#005522" stroke-width="0.8" stroke-opacity="0.8"/>
<circle cx="316.52" cy="732.90" r="3.0" fill="#fff" stroke="#777" stroke-width="0.9"/>
<circle cx="313.47" cy="756.20" r="2.4" fill="#009445" stroke="#005522" stroke-width="0.8" stroke-opacity="0.8"/>
<circle cx="336.43" cy="733.81" r="3.0" fill="#fff" stroke="#777" stroke-width="0.9"/>
<circle cx="337.36" cy="757.29" r="1.3" fill="#5C1E8E" stroke="#2E0A50" stroke-width="0.8" stroke-opacity="0.8"/>
<circle cx="356.21" cy="731.34" r="3.0" fill="#fff" stroke="#777" stroke-width="0.9"/>
<circle cx="361.09" cy="754.32" r="2.6" fill="#fff" stroke="#777" stroke-width="0.9"/>
<circle cx="375.28" cy="725.56" r="3.0" fill="#fff" stroke="#777" stroke-width="0.9"/>
<circle cx="383.98" cy="747.39" r="2.6" fill="#fff" stroke="#777" stroke-width="0.9"/>
<circle cx="392.68" cy="769.22" r="2.4" fill="#fff" stroke="#777" stroke-width="0.9"/>
<circle cx="401.39" cy="711.08" r="3.0" fill="#fff" stroke="#777" stroke-width="0.9"/>
<circle cx="405.37" cy="736.69" r="2.6" fill="#fff" stroke="#777" stroke-width="0.9"/>
<circle cx="424.64" cy="722.52" r="2.6" fill="#fff" stroke="#777" stroke-width="0.9"/>
<circle cx="438.72" cy="665.12" r="4.5" fill="#fff" stroke="#777" stroke-width="0.9"/>
<circle cx="460.11" cy="674.86" r="4.0" fill="#fff" stroke="#777" stroke-width="0.9"/>
<circle cx="459.48" cy="720.12" r="2.4" fill="#3F4FA3" stroke="#1E2A66" stroke-width="0.8" stroke-opacity="0.8"/>
<circle cx="475.17" cy="697.05" r="2.4" fill="#EE0000" stroke="#8A0000" stroke-width="0.8" stroke-opacity="0.8"/>
<circle cx="486.74" cy="671.66" r="2.4" fill="#fff" stroke="#777" stroke-width="0.9"/>
<circle cx="493.85" cy="644.68" r="2.4" fill="#EE0000" stroke="#8A0000" stroke-width="0.8" stroke-opacity="0.8"/>
<circle cx="311.36" cy="548.93" r="1.8" fill="#fff" stroke="#777" stroke-width="0.9"/>
<circle cx="304.55" cy="526.44" r="1.8" fill="#fff" stroke="#777" stroke-width="0.9"/>
<circle cx="297.74" cy="503.94" r="1.8" fill="#fff" stroke="#777" stroke-width="0.9"/>
<circle cx="290.93" cy="481.45" r="1.8" fill="#fff" stroke="#777" stroke-width="0.9"/>
<circle cx="284.12" cy="458.96" r="1.3" fill="#5C1E8E" stroke="#2E0A50" stroke-width="0.8" stroke-opacity="0.8"/>
<circle cx="343.78" cy="570.95" r="3.4" fill="#fff" stroke="#777" stroke-width="0.9"/>
<circle cx="349.78" cy="548.23" r="4.0" fill="#fff" stroke="#777" stroke-width="0.9"/>
<circle cx="355.77" cy="525.51" r="3.4" fill="#fff" stroke="#777" stroke-width="0.9"/>
<circle cx="337.15" cy="499.02" r="3.2" fill="#EE0000" stroke="#8A0000" stroke-width="0.8" stroke-opacity="0.8"/>
<circle cx="338.22" cy="475.55" r="2.4" fill="#EE0000" stroke="#8A0000" stroke-width="0.8" stroke-opacity="0.8"/>
<circle cx="311.41" cy="453.17" r="2.4" fill="#fff" stroke="#777" stroke-width="0.9"/>
<circle cx="339.29" cy="452.07" r="2.4" fill="#EE0000" stroke="#8A0000" stroke-width="0.8" stroke-opacity="0.8"/>
<circle cx="366.96" cy="455.70" r="2.4" fill="#EE0000" stroke="#8A0000" stroke-width="0.8" stroke-opacity="0.8"/>
<circle cx="385.03" cy="511.65" r="3.0" fill="#fff" stroke="#777" stroke-width="0.9"/>
<circle cx="384.78" cy="485.73" r="2.6" fill="#fff" stroke="#777" stroke-width="0.9"/>
<circle cx="406.10" cy="496.57" r="2.6" fill="#fff" stroke="#777" stroke-width="0.9"/>
<circle cx="362.96" cy="581.22" r="2.4" fill="#5C1E8E" stroke="#2E0A50" stroke-width="0.8" stroke-opacity="0.8"/>
<circle cx="378.54" cy="563.62" r="2.4" fill="#5C1E8E" stroke="#2E0A50" stroke-width="0.8" stroke-opacity="0.8"/>
<circle cx="394.12" cy="546.03" r="2.4" fill="#5C1E8E" stroke="#2E0A50" stroke-width="0.8" stroke-opacity="0.8"/>
<circle cx="409.70" cy="528.44" r="2.4" fill="#5C1E8E" stroke="#2E0A50" stroke-width="0.8" stroke-opacity="0.8"/>
<circle cx="425.28" cy="510.85" r="2.4" fill="#5C1E8E" stroke="#2E0A50" stroke-width="0.8" stroke-opacity="0.8"/>
<circle cx="440.87" cy="493.25" r="2.4" fill="#5C1E8E" stroke="#2E0A50" stroke-width="0.8" stroke-opacity="0.8"/>
<circle cx="368.46" cy="586.99" r="3.4" fill="#fff" stroke="#777" stroke-width="0.9"/>
<circle cx="386.79" cy="572.28" r="4.0" fill="#fff" stroke="#777" stroke-width="0.9"/>
<circle cx="405.12" cy="557.58" r="3.4" fill="#fff" stroke="#777" stroke-width="0.9"/>
<circle cx="423.45" cy="542.87" r="2.4" fill="#3F4FA3" stroke="#1E2A66" stroke-width="0.8" stroke-opacity="0.8"/>
<circle cx="441.78" cy="528.16" r="2.4" fill="#3F4FA3" stroke="#1E2A66" stroke-width="0.8" stroke-opacity="0.8"/>
<circle cx="372.90" cy="593.61" r="3.4" fill="#fff" stroke="#777" stroke-width="0.9"/>
<circle cx="393.45" cy="582.21" r="1.3" fill="#5C1E8E" stroke="#2E0A50" stroke-width="0.8" stroke-opacity="0.8"/>
<circle cx="376.16" cy="600.88" r="2.4" fill="#3F4FA3" stroke="#1E2A66" stroke-width="0.8" stroke-opacity="0.8"/>
<circle cx="378.15" cy="608.60" r="3.4" fill="#fff" stroke="#777" stroke-width="0.9"/>
<circle cx="401.32" cy="604.70" r="2.4" fill="#3F4FA3" stroke="#1E2A66" stroke-width="0.8" stroke-opacity="0.8"/>
<circle cx="424.50" cy="600.80" r="2.4" fill="#3F4FA3" stroke="#1E2A66" stroke-width="0.8" stroke-opacity="0.8"/>
<circle cx="447.67" cy="596.91" r="2.4" fill="#3F4FA3" stroke="#1E2A66" stroke-width="0.8" stroke-opacity="0.8"/>
<circle cx="470.85" cy="593.01" r="2.4" fill="#3F4FA3" stroke="#1E2A66" stroke-width="0.8" stroke-opacity="0.8"/>
<circle cx="494.02" cy="589.11" r="2.4" fill="#3F4FA3" stroke="#1E2A66" stroke-width="0.8" stroke-opacity="0.8"/>
<text transform="translate(277.30,603.53) rotate(15.6)" text-anchor="middle" dy="3" font-size="8.4" font-family="Liberation Sans" fill="#2a2a2a">c</text>
<text transform="translate(270.81,533.40) rotate(38.9)" text-anchor="middle" dy="3" font-size="8.4" font-family="Liberation Sans" fill="#2a2a2a">l</text>
<text transform="translate(256.89,514.46) rotate(38.9)" text-anchor="middle" dy="3" font-size="8.4" font-family="Liberation Sans" fill="#2a2a2a">t</text>
<text transform="translate(242.98,495.53) rotate(38.9)" text-anchor="middle" dy="3" font-size="8.4" font-family="Liberation Sans" fill="#2a2a2a">d1</text>
<text transform="translate(229.06,476.59) rotate(38.9)" text-anchor="middle" dy="3" font-size="8.4" font-family="Liberation Sans" fill="#2a2a2a">o1</text>
<text transform="translate(251.86,551.45) rotate(30.5)" text-anchor="middle" dy="3" font-size="8.4" font-family="Liberation Sans" fill="#2a2a2a">k</text>
<text transform="translate(227.21,545.24) rotate(27.7)" text-anchor="middle" dy="3" font-size="8.4" font-family="Liberation Sans" fill="#2a2a2a">m</text>
<text transform="translate(223.83,512.28) rotate(33.3)" text-anchor="middle" dy="3" font-size="8.4" font-family="Liberation Sans" fill="#2a2a2a">x</text>
<text transform="translate(238.07,573.69) rotate(22.1)" text-anchor="middle" dy="3" font-size="8.4" font-family="Liberation Sans" fill="#2a2a2a">j</text>
<text transform="translate(216.69,563.94) rotate(22.1)" text-anchor="middle" dy="3" font-size="8.4" font-family="Liberation Sans" fill="#2a2a2a">s</text>
<text transform="translate(195.31,554.20) rotate(22.1)" text-anchor="middle" dy="3" font-size="8.4" font-family="Liberation Sans" fill="#2a2a2a">c1</text>
<text transform="translate(173.92,544.45) rotate(22.1)" text-anchor="middle" dy="3" font-size="8.4" font-family="Liberation Sans" fill="#2a2a2a">n1</text>
<text transform="translate(274.51,729.18) rotate(-63.1)" text-anchor="middle" dy="3" font-size="8.4" font-family="Liberation Sans" fill="#2a2a2a">r</text>
<text transform="translate(263.86,750.13) rotate(-63.1)" text-anchor="middle" dy="3" font-size="8.4" font-family="Liberation Sans" fill="#2a2a2a">b1</text>
<text transform="translate(253.22,771.09) rotate(-63.1)" text-anchor="middle" dy="3" font-size="8.4" font-family="Liberation Sans" fill="#2a2a2a">m1</text>
<text transform="translate(369.92,712.09) rotate(-291.7)" text-anchor="middle" dy="3" font-size="8.4" font-family="Liberation Sans" fill="#2a2a2a">i</text>
<text transform="translate(312.30,765.13) rotate(-82.5)" text-anchor="middle" dy="3" font-size="8.4" font-family="Liberation Sans" fill="#2a2a2a">v</text>
<text transform="translate(337.72,766.28) rotate(-272.3)" text-anchor="middle" dy="3" font-size="8.4" font-family="Liberation Sans" fill="#2a2a2a">w</text>
<text transform="translate(466.46,725.80) rotate(-320.9)" text-anchor="middle" dy="3" font-size="8.4" font-family="Liberation Sans" fill="#2a2a2a">j1</text>
<text transform="translate(483.02,701.47) rotate(-330.6)" text-anchor="middle" dy="3" font-size="8.4" font-family="Liberation Sans" fill="#2a2a2a">k1</text>
<text transform="translate(502.72,646.23) rotate(-350.1)" text-anchor="middle" dy="3" font-size="8.4" font-family="Liberation Sans" fill="#2a2a2a">l1</text>
<text transform="translate(281.51,450.35) rotate(50.1)" text-anchor="middle" dy="3" font-size="8.4" font-family="Liberation Sans" fill="#2a2a2a">i1</text>
<text transform="translate(337.56,490.03) rotate(-87.4)" text-anchor="middle" dy="3" font-size="8.4" font-family="Liberation Sans" fill="#2a2a2a">n</text>
<text transform="translate(338.63,466.56) rotate(-87.4)" text-anchor="middle" dy="3" font-size="8.4" font-family="Liberation Sans" fill="#2a2a2a">y</text>
<text transform="translate(339.70,443.08) rotate(-87.4)" text-anchor="middle" dy="3" font-size="8.4" font-family="Liberation Sans" fill="#2a2a2a">f1</text>
<text transform="translate(368.88,446.91) rotate(-77.7)" text-anchor="middle" dy="3" font-size="8.4" font-family="Liberation Sans" fill="#2a2a2a">e1</text>
<text transform="translate(368.93,574.48) rotate(-48.5)" text-anchor="middle" dy="3" font-size="8.4" font-family="Liberation Sans" fill="#2a2a2a">b</text>
<text transform="translate(384.51,556.89) rotate(-48.5)" text-anchor="middle" dy="3" font-size="8.4" font-family="Liberation Sans" fill="#2a2a2a">f</text>
<text transform="translate(400.09,539.29) rotate(-48.5)" text-anchor="middle" dy="3" font-size="8.4" font-family="Liberation Sans" fill="#2a2a2a">h</text>
<text transform="translate(415.67,521.70) rotate(-48.5)" text-anchor="middle" dy="3" font-size="8.4" font-family="Liberation Sans" fill="#2a2a2a">q</text>
<text transform="translate(431.25,504.11) rotate(-48.5)" text-anchor="middle" dy="3" font-size="8.4" font-family="Liberation Sans" fill="#2a2a2a">a1</text>
<text transform="translate(446.83,486.52) rotate(-48.5)" text-anchor="middle" dy="3" font-size="8.4" font-family="Liberation Sans" fill="#2a2a2a">h1</text>
<text transform="translate(430.47,537.24) rotate(-38.7)" text-anchor="middle" dy="3" font-size="8.4" font-family="Liberation Sans" fill="#2a2a2a">p</text>
<text transform="translate(448.80,522.53) rotate(-38.7)" text-anchor="middle" dy="3" font-size="8.4" font-family="Liberation Sans" fill="#2a2a2a">u</text>
<text transform="translate(401.33,577.85) rotate(-29.0)" text-anchor="middle" dy="3" font-size="8.4" font-family="Liberation Sans" fill="#2a2a2a">d</text>
<text transform="translate(384.66,597.91) rotate(-19.3)" text-anchor="middle" dy="3" font-size="8.4" font-family="Liberation Sans" fill="#2a2a2a">a</text>
<text transform="translate(410.20,603.21) rotate(-9.6)" text-anchor="middle" dy="3" font-size="8.4" font-family="Liberation Sans" fill="#2a2a2a">e</text>
<text transform="translate(433.37,599.31) rotate(-9.6)" text-anchor="middle" dy="3" font-size="8.4" font-family="Liberation Sans" fill="#2a2a2a">g</text>
<text transform="translate(456.55,595.41) rotate(-9.6)" text-anchor="middle" dy="3" font-size="8.4" font-family="Liberation Sans" fill="#2a2a2a">o</text>
<text transform="translate(479.72,591.51) rotate(-9.6)" text-anchor="middle" dy="3" font-size="8.4" font-family="Liberation Sans" fill="#2a2a2a">z</text>
<text transform="translate(502.90,587.61) rotate(-9.6)" text-anchor="middle" dy="3" font-size="8.4" font-family="Liberation Sans" fill="#2a2a2a">g1</text>
<text x="523.4" y="428.7" font-size="14.1" font-family="Liberation Serif" fill="#222">Groups</text>
<rect x="573.8" y="415.9" width="16.3" height="15.9" fill="#3F4FA3"/>
<text x="598.3" y="428.7" font-size="13" font-family="Liberation Serif" fill="#222">HD</text>
<rect x="622.9" y="415.9" width="16.3" height="15.9" fill="#EE0000"/>
<text x="647.5" y="428.7" font-size="13" font-family="Liberation Serif" fill="#222">HSB</text>
<rect x="679" y="415.9" width="16.3" height="15.9" fill="#009445"/>
<text x="702.7" y="428.7" font-size="13" font-family="Liberation Serif" fill="#222">GT</text>
<rect x="727" y="415.9" width="16.3" height="15.9" fill="#5C1E8E"/>
<text x="751.8" y="428.7" font-size="13" font-family="Liberation Serif" fill="#222">BN</text>
<text x="525.5" y="462" font-size="10.5" font-family="Liberation Serif" fill="#222">Taxa</text>
<rect x="525.6" y="469.50" width="11.3" height="11.6" fill="#3F4FA3"/>
<text x="543.0" y="478.80" font-size="9.6" font-style="italic" textLength="128.1" lengthAdjust="spacingAndGlyphs" font-family="Liberation Serif" fill="#222">a: p__Candidatus_Eremiobacterota</text>
<rect x="525.6" y="482.54" width="11.3" height="11.6" fill="#5C1E8E"/>
<text x="543.0" y="491.84" font-size="9.6" font-style="italic" textLength="82.8" lengthAdjust="spacingAndGlyphs" font-family="Liberation Serif" fill="#222">b: p__Planctomycetota</text>
<rect x="525.6" y="495.58" width="11.3" height="11.6" fill="#5C1E8E"/>
<text x="543.0" y="504.88" font-size="9.6" font-style="italic" textLength="84.3" lengthAdjust="spacingAndGlyphs" font-family="Liberation Serif" fill="#222">c: p__Pseudomonadota</text>
<rect x="525.6" y="508.62" width="11.3" height="11.6" fill="#5C1E8E"/>
<text x="543.0" y="517.92" font-size="9.6" font-style="italic" textLength="75.1" lengthAdjust="spacingAndGlyphs" font-family="Liberation Serif" fill="#222">d: c__Ardenticatenia</text>
<rect x="525.6" y="521.66" width="11.3" height="11.6" fill="#3F4FA3"/>
<text x="543.0" y="530.96" font-size="9.6" font-style="italic" textLength="58.1" lengthAdjust="spacingAndGlyphs" font-family="Liberation Serif" fill="#222">e: c__Clostridia</text>
<rect x="525.6" y="534.70" width="11.3" height="11.6" fill="#5C1E8E"/>
<text x="543.0" y="544.00" font-size="9.6" font-style="italic" textLength="75.9" lengthAdjust="spacingAndGlyphs" font-family="Liberation Serif" fill="#222">f: c__Planctomycetia</text>
<rect x="525.6" y="547.74" width="11.3" height="11.6" fill="#3F4FA3"/>
<text x="543.0" y="557.04" font-size="9.6" font-style="italic" textLength="72.4" lengthAdjust="spacingAndGlyphs" font-family="Liberation Serif" fill="#222">g: o__Eubacteriales</text>
<rect x="525.6" y="560.78" width="11.3" height="11.6" fill="#5C1E8E"/>
<text x="543.0" y="570.08" font-size="9.6" font-style="italic" textLength="72.4" lengthAdjust="spacingAndGlyphs" font-family="Liberation Serif" fill="#222">h: o__Isosphaerales</text>
<rect x="525.6" y="573.82" width="11.3" height="11.6" fill="#009445"/>
<text x="543.0" y="583.12" font-size="9.6" font-style="italic" textLength="86.4" lengthAdjust="spacingAndGlyphs" font-family="Liberation Serif" fill="#222">i: o__Hyphomicrobiales</text>
<rect x="525.6" y="586.86" width="11.3" height="11.6" fill="#5C1E8E"/>
<text x="543.0" y="596.16" font-size="9.6" font-style="italic" textLength="72.9" lengthAdjust="spacingAndGlyphs" font-family="Liberation Serif" fill="#222">j: o__Rhodocyclales</text>
<rect x="525.6" y="599.90" width="11.3" height="11.6" fill="#009445"/>
<text x="543.0" y="609.20" font-size="9.6" font-style="italic" textLength="70.6" lengthAdjust="spacingAndGlyphs" font-family="Liberation Serif" fill="#222">k: o__Chromatiales</text>
<rect x="525.6" y="612.94" width="11.3" height="11.6" fill="#EE0000"/>
<text x="543.0" y="622.24" font-size="9.6" font-style="italic" textLength="85.3" lengthAdjust="spacingAndGlyphs" font-family="Liberation Serif" fill="#222">l: o__Xanthomonadales</text>
<rect x="525.6" y="625.98" width="11.3" height="11.6" fill="#009445"/>
<text x="543.0" y="635.28" font-size="9.6" font-style="italic" textLength="108.8" lengthAdjust="spacingAndGlyphs" font-family="Liberation Serif" fill="#222">m: f__Ectothiorhodospiraceae</text>
<rect x="525.6" y="639.02" width="11.3" height="11.6" fill="#EE0000"/>
<text x="543.0" y="648.32" font-size="9.6" font-style="italic" textLength="70.6" lengthAdjust="spacingAndGlyphs" font-family="Liberation Serif" fill="#222">n: f__Nocardiaceae</text>
<rect x="525.6" y="652.06" width="11.3" height="11.6" fill="#3F4FA3"/>
<text x="543.0" y="661.36" font-size="9.6" font-style="italic" textLength="93.2" lengthAdjust="spacingAndGlyphs" font-family="Liberation Serif" fill="#222">o: f__Symbiobacteriaceae</text>
<rect x="525.6" y="665.10" width="11.3" height="11.6" fill="#3F4FA3"/>
<text x="543.0" y="674.40" font-size="9.6" font-style="italic" textLength="87.7" lengthAdjust="spacingAndGlyphs" font-family="Liberation Serif" fill="#222">p: f__Synechococcaceae</text>
<rect x="525.6" y="678.14" width="11.3" height="11.6" fill="#5C1E8E"/>
<text x="543.0" y="687.44" font-size="9.6" font-style="italic" textLength="76.9" lengthAdjust="spacingAndGlyphs" font-family="Liberation Serif" fill="#222">q: f__Isosphaeraceae</text>
<rect x="525.6" y="691.18" width="11.3" height="11.6" fill="#5C1E8E"/>
<text x="543.0" y="700.48" font-size="9.6" font-style="italic" textLength="83.8" lengthAdjust="spacingAndGlyphs" font-family="Liberation Serif" fill="#222">r: f__Acetobacteraceae</text>
<rect x="525.6" y="704.22" width="11.3" height="11.6" fill="#5C1E8E"/>
<text x="543.0" y="713.52" font-size="9.6" font-style="italic" textLength="78.3" lengthAdjust="spacingAndGlyphs" font-family="Liberation Serif" fill="#222">s: f__Rhodocyclaceae</text>
<rect x="525.6" y="717.26" width="11.3" height="11.6" fill="#EE0000"/>
<text x="543.0" y="726.56" font-size="9.6" font-style="italic" textLength="94.7" lengthAdjust="spacingAndGlyphs" font-family="Liberation Serif" fill="#222">t: f__Rhodanobacteraceae</text>
<rect x="525.6" y="730.30" width="11.3" height="11.6" fill="#3F4FA3"/>
<text x="543.0" y="739.60" font-size="9.6" font-style="italic" textLength="76.9" lengthAdjust="spacingAndGlyphs" font-family="Liberation Serif" fill="#222">u: g__Synechococcus</text>
<rect x="525.6" y="743.34" width="11.3" height="11.6" fill="#009445"/>
<text x="543.0" y="752.64" font-size="9.6" font-style="italic" textLength="65.2" lengthAdjust="spacingAndGlyphs" font-family="Liberation Serif" fill="#222">v: g__Aureimonas</text>
<rect x="525.6" y="756.38" width="11.3" height="11.6" fill="#5C1E8E"/>
<text x="543.0" y="765.68" font-size="9.6" font-style="italic" textLength="79.0" lengthAdjust="spacingAndGlyphs" font-family="Liberation Serif" fill="#222">w: g__Methylovirgula</text>
<rect x="525.6" y="769.42" width="11.3" height="11.6" fill="#5C1E8E"/>
<text x="543.0" y="778.72" font-size="9.6" font-style="italic" textLength="59.6" lengthAdjust="spacingAndGlyphs" font-family="Liberation Serif" fill="#222">x: g__Thiocapsa</text>
<rect x="525.6" y="782.46" width="11.3" height="11.6" fill="#EE0000"/>
<text x="543.0" y="791.76" font-size="9.6" font-style="italic" textLength="55.8" lengthAdjust="spacingAndGlyphs" font-family="Liberation Serif" fill="#222">y: g__Nocardia</text>
<rect x="674.4" y="469.50" width="11.3" height="11.6" fill="#3F4FA3"/>
<text x="691.6" y="478.80" font-size="9.6" font-style="italic" textLength="86.8" lengthAdjust="spacingAndGlyphs" font-family="Liberation Serif" fill="#222">z: g__Caldinitratiruptor</text>
<rect x="674.4" y="482.54" width="11.3" height="11.6" fill="#5C1E8E"/>
<text x="691.6" y="491.84" font-size="9.6" font-style="italic" textLength="58.8" lengthAdjust="spacingAndGlyphs" font-family="Liberation Serif" fill="#222">a1: g__Tautonia</text>
<rect x="674.4" y="495.58" width="11.3" height="11.6" fill="#5C1E8E"/>
<text x="691.6" y="504.88" font-size="9.6" font-style="italic" textLength="75.9" lengthAdjust="spacingAndGlyphs" font-family="Liberation Serif" fill="#222">b1: g__Rhodovastum</text>
<rect x="674.4" y="508.62" width="11.3" height="11.6" fill="#5C1E8E"/>
<text x="691.6" y="517.92" font-size="9.6" font-style="italic" textLength="75.1" lengthAdjust="spacingAndGlyphs" font-family="Liberation Serif" fill="#222">c1: g__Aromatoleum</text>
<rect x="674.4" y="521.66" width="11.3" height="11.6" fill="#EE0000"/>
<text x="691.6" y="530.96" font-size="9.6" font-style="italic" textLength="69.0" lengthAdjust="spacingAndGlyphs" font-family="Liberation Serif" fill="#222">d1: g__Dokdonella</text>
<rect x="674.4" y="534.70" width="11.3" height="11.6" fill="#EE0000"/>
<text x="691.6" y="544.00" font-size="9.6" font-style="italic" textLength="100.0" lengthAdjust="spacingAndGlyphs" font-family="Liberation Serif" fill="#222">e1: s__Nocardia_asteroides</text>
<rect x="674.4" y="547.74" width="11.3" height="11.6" fill="#EE0000"/>
<text x="691.6" y="557.04" font-size="9.6" font-style="italic" textLength="118.2" lengthAdjust="spacingAndGlyphs" font-family="Liberation Serif" fill="#222">f1: s__Nocardia_cyriacigeorgica</text>
<rect x="674.4" y="560.78" width="11.3" height="11.6" fill="#3F4FA3"/>
<text x="691.6" y="570.08" font-size="9.6" font-style="italic" textLength="153.9" lengthAdjust="spacingAndGlyphs" font-family="Liberation Serif" fill="#222">g1: s__Caldinitratiruptor_microaerophilus</text>
<rect x="674.4" y="573.82" width="11.3" height="11.6" fill="#5C1E8E"/>
<text x="691.6" y="583.12" font-size="9.6" font-style="italic" textLength="122.7" lengthAdjust="spacingAndGlyphs" font-family="Liberation Serif" fill="#222">h1: s__Tautonia_plasticadhaerens</text>
<rect x="674.4" y="586.86" width="11.3" height="11.6" fill="#5C1E8E"/>
<text x="691.6" y="596.16" font-size="9.6" font-style="italic" textLength="113.0" lengthAdjust="spacingAndGlyphs" font-family="Liberation Serif" fill="#222">i1: s__Acidithiobacillus_caldus</text>
<rect x="674.4" y="599.90" width="11.3" height="11.6" fill="#3F4FA3"/>
<text x="691.6" y="609.20" font-size="9.6" font-style="italic" textLength="124.2" lengthAdjust="spacingAndGlyphs" font-family="Liberation Serif" fill="#222">j1: s__Bradyrhizobium_japonicum</text>
<rect x="674.4" y="612.94" width="11.3" height="11.6" fill="#EE0000"/>
<text x="691.6" y="622.24" font-size="9.6" font-style="italic" textLength="128.1" lengthAdjust="spacingAndGlyphs" font-family="Liberation Serif" fill="#222">k1: s__Bradyrhizobium_ottawaense</text>
<rect x="674.4" y="625.98" width="11.3" height="11.6" fill="#EE0000"/>
<text x="691.6" y="635.28" font-size="9.6" font-style="italic" textLength="110.3" lengthAdjust="spacingAndGlyphs" font-family="Liberation Serif" fill="#222">l1: s__Bradyrhizobium_vignae</text>
<rect x="674.4" y="639.02" width="11.3" height="11.6" fill="#5C1E8E"/>
<text x="691.6" y="648.32" font-size="9.6" font-style="italic" textLength="120.9" lengthAdjust="spacingAndGlyphs" font-family="Liberation Serif" fill="#222">m1: s__Rhodovastum_atsumiense</text>
<rect x="674.4" y="652.06" width="11.3" height="11.6" fill="#5C1E8E"/>
<text x="691.6" y="661.36" font-size="9.6" font-style="italic" textLength="106.4" lengthAdjust="spacingAndGlyphs" font-family="Liberation Serif" fill="#222">n1: s__Aromatoleum_petrolei</text>
<rect x="674.4" y="665.10" width="11.3" height="11.6" fill="#EE0000"/>
<text x="691.6" y="674.40" font-size="9.6" font-style="italic" textLength="105.7" lengthAdjust="spacingAndGlyphs" font-family="Liberation Serif" fill="#222">o1: s__Dokdonella_koreensis</text>
<text x="986.5" y="64.2" font-size="20" font-family="Liberation Serif" fill="#222">Network Plot</text>
<path d="M1028.2,85.4Q1025.5,100.6 1038.7,108.5M1028.2,85.4Q989.5,118.2 994.1,168.8M1006.6,140.0Q1026.5,130.9 1046.6,139.7M931.9,156.7Q946.9,195.9 973.3,228.5M878.5,178.3Q888.5,200.1 911.3,207.8M882.8,211.6Q923.9,201.7 965.6,208.7M973.3,228.5Q951.5,219.7 930.0,229.0M1046.6,139.7Q1060.4,137.2 1073.6,141.7M1113.0,187.0Q1105.2,199.2 1102.5,213.5M1142.7,198.1Q1149.2,210.8 1142.3,223.2M1036.4,226.5Q1047.9,243.0 1036.4,259.5M874.1,249.3Q873.3,266.2 885.6,277.8M916.5,302.5Q962.9,281.4 1002.2,313.8M931.9,299.4Q990.2,302.7 1032.6,342.8M972.3,348.5Q1018.1,344.7 1053.8,373.8M1042.7,191.8Q1073.7,220.2 1087.0,260.1M1127.9,191.0Q1131.2,233.7 1170.3,251.4M1077.0,194.3Q1067.9,203.9 1055.6,208.7M1177.0,177.5Q1110.7,193.1 1042.7,191.8M1077.0,194.3Q1129.2,230.4 1182.4,195.8M1089.4,224.1Q1062.9,212.5 1042.7,191.8M931.9,299.4Q937.2,281.7 944.4,264.7M894.7,266.2Q900.2,277.6 899.7,290.3" fill="none" stroke="#7FB060" stroke-opacity="0.16" stroke-width="1.0"/>
<path d="M1028.2,85.4Q1005.5,86.4 991.6,104.3M991.6,104.3Q1016.1,96.0 1038.7,108.5M967.0,118.7Q954.0,141.9 931.9,156.7M935.4,138.4Q935.9,191.2 973.3,228.5M1006.6,140.0Q1031.2,161.3 1042.7,191.8M1015.7,159.0Q1004.5,162.9 994.1,168.8M1015.7,159.0Q1014.2,176.3 1018.2,193.3M882.8,211.6Q938.2,243.3 989.1,204.9M965.6,208.7Q976.7,203.0 989.1,204.9M1014.7,226.0Q1039.7,191.5 1074.5,166.9M1074.9,129.3Q1110.7,143.0 1134.6,173.1M1182.4,195.8Q1157.0,196.8 1134.6,208.7M1042.7,191.8Q1050.1,199.5 1055.6,208.7M1129.4,219.3Q1122.4,226.9 1114.4,233.5M1036.4,226.5Q1060.1,257.6 1099.0,253.7M897.2,232.5Q912.5,237.6 913.6,253.7M897.2,232.5Q889.0,245.5 874.1,249.3M885.6,277.8Q906.0,285.2 926.1,276.8M1058.3,343.0Q1062.2,359.3 1053.8,373.8M1099.0,253.7Q1120.1,237.7 1142.3,223.2M1134.6,243.1Q1135.2,201.8 1100.5,179.4M1142.7,198.1Q1120.9,190.3 1100.5,179.4M926.1,276.8Q905.5,264.7 885.6,277.8" fill="none" stroke="#7FB060" stroke-opacity="0.16" stroke-width="0.8"/>
<path d="M1028.2,85.4Q1035.0,113.4 1046.6,139.7M1028.2,85.4Q1055.5,103.2 1074.9,129.3M1018.2,193.3Q1005.7,204.2 989.1,204.9M923.6,196.6Q946.1,197.4 965.6,208.7M911.3,207.8Q888.6,246.7 899.7,290.3M858.7,227.6Q863.9,240.2 874.1,249.3M1014.7,226.0Q991.5,257.5 999.7,295.7M1134.6,173.1Q1135.6,183.7 1127.9,191.0M1177.0,177.5Q1161.0,197.9 1166.8,223.2M1092.8,198.1Q1092.9,208.8 1102.5,213.5M1055.6,208.7Q1092.4,214.8 1129.4,219.3M1129.4,219.3Q1105.2,228.5 1099.0,253.7M931.9,299.4Q935.2,313.6 927.1,325.6M1123.1,267.2Q1129.4,277.7 1128.9,289.9M1100.0,310.0Q1116.2,319.4 1123.7,336.6M1087.0,260.1Q1090.1,238.8 1072.0,227.0M1053.7,261.4Q1093.1,247.7 1134.6,243.1M1042.7,191.8Q1076.8,173.4 1113.0,187.0M1134.6,173.1Q1096.3,219.2 1053.7,261.4M1099.0,253.7Q1122.4,199.7 1177.0,177.5M1166.8,223.2Q1147.2,230.3 1129.4,219.3M885.6,277.8Q892.8,300.4 916.5,302.5M916.5,302.5Q924.9,312.6 927.1,325.6" fill="none" stroke="#D4559E" stroke-opacity="0.22" stroke-width="0.6"/>
<path d="M1028.2,85.4Q1006.8,108.5 1006.6,140.0M983.0,141.3Q995.1,146.8 1006.6,140.0M973.3,187.9Q975.5,201.7 989.1,204.9M1073.6,141.7Q1094.2,166.1 1092.8,198.1M1100.5,179.4Q1111.5,189.3 1117.3,203.0M1127.9,191.0Q1117.0,204.3 1102.5,213.5M1055.6,208.7Q1033.0,242.0 1035.0,282.2M897.2,232.5Q901.3,249.7 894.7,266.2M913.6,253.7Q931.3,252.8 944.4,264.7M978.1,326.0Q1027.1,359.6 1079.7,331.8M1087.0,260.1Q1073.3,267.7 1068.7,282.6M1100.0,310.0Q1102.7,331.8 1108.7,353.0M1123.7,336.6Q1102.7,345.0 1087.5,361.8M1053.8,373.8Q1072.1,373.3 1086.5,384.7M1077.0,194.3Q1092.8,246.8 1147.2,254.3M1077.0,194.3Q1099.7,167.1 1134.6,173.1M1129.4,219.3Q1133.3,204.9 1127.9,191.0M1134.6,243.1Q1142.3,247.1 1147.2,254.3M1134.6,173.1Q1130.5,196.0 1129.4,219.3M916.5,302.5Q916.4,316.5 927.1,325.6" fill="none" stroke="#7FB060" stroke-opacity="0.22" stroke-width="0.8"/>
<path d="M1028.2,85.4Q1002.3,110.6 967.0,118.7M991.6,104.3Q1033.0,135.7 1074.5,166.9M983.0,141.3Q989.5,167.0 973.3,187.9M1046.6,139.7Q1069.5,139.4 1089.0,151.5M1089.0,151.5Q1114.2,165.6 1127.9,191.0M1171.3,147.0Q1164.0,164.1 1177.0,177.5M1074.5,166.9Q1074.3,180.7 1077.0,194.3M1182.4,195.8Q1160.9,207.4 1142.3,223.2M1077.0,194.3Q1088.0,207.2 1089.4,224.1M1166.8,223.2Q1155.4,257.1 1161.6,292.3M874.1,249.3Q893.5,255.1 913.6,253.7M936.1,245.0Q935.6,256.8 944.4,264.7M926.1,276.8Q913.3,284.4 899.7,290.3M999.7,295.7Q1050.9,296.3 1087.0,260.1M957.3,317.3Q972.2,329.4 972.3,348.5M1053.7,261.4Q1070.2,257.6 1087.0,260.1M1100.0,310.0Q1073.5,319.4 1058.3,343.0M1147.2,254.3Q1129.7,227.4 1142.7,198.1M1053.7,261.4Q1130.3,252.6 1182.4,195.8M1142.7,198.1Q1090.9,223.6 1042.7,191.8M1134.6,173.1Q1106.8,216.9 1055.6,208.7M1142.7,198.1Q1138.9,233.9 1170.3,251.4M894.7,266.2Q922.9,272.0 931.9,299.4M931.9,299.4Q919.4,271.1 936.1,245.0" fill="none" stroke="#D4559E" stroke-opacity="0.22" stroke-width="0.8"/>
<path d="M1028.2,85.4Q1015.7,121.1 1015.7,159.0M991.6,104.3Q991.8,125.2 1006.6,140.0M994.1,168.8Q1001.4,185.7 1018.2,193.3M923.6,196.6Q913.7,198.1 911.3,207.8M923.6,196.6Q908.4,213.1 897.2,232.5M923.6,196.6Q892.6,215.1 858.7,227.6M911.3,207.8Q925.9,224.9 936.1,245.0M973.3,228.5Q950.9,228.3 936.1,245.0M930.0,229.0Q934.1,236.6 936.1,245.0M930.0,229.0Q924.1,242.9 913.6,253.7M1135.2,124.0Q1118.0,126.1 1100.9,128.8M1073.6,141.7Q1099.9,151.4 1100.5,179.4M1158.3,164.4Q1121.9,179.3 1102.5,213.5M1113.0,187.0Q1102.9,192.6 1092.8,198.1M1127.9,191.0Q1134.2,198.7 1134.6,208.7M1042.7,191.8Q1060.1,189.1 1077.0,194.3M1092.8,198.1Q1103.2,216.0 1114.4,233.5M1142.7,198.1Q1117.4,206.9 1114.4,233.5M1102.5,213.5Q1094.6,217.1 1089.4,224.1M995.9,249.9Q1017.2,250.2 1036.4,259.5M944.4,264.7Q962.8,263.5 980.0,270.1M946.3,281.7Q938.2,289.8 931.9,299.4M946.3,281.7Q957.2,291.6 965.0,304.2M1009.0,277.8Q1021.4,283.6 1035.0,282.2M899.7,290.3Q929.8,309.1 965.0,304.2M916.5,302.5Q941.3,297.7 957.3,317.3M931.9,299.4Q949.3,301.6 957.3,317.3M1128.9,289.9Q1139.1,314.7 1123.7,336.6M1161.6,292.3Q1145.6,317.0 1123.7,336.6M1100.0,310.0Q1116.3,351.5 1086.5,384.7M1147.2,254.3Q1148.5,238.2 1142.3,223.2M1100.5,179.4Q1138.1,152.4 1177.0,177.5M1170.3,251.4Q1171.7,222.6 1182.4,195.8M1134.6,208.7Q1137.4,202.4 1142.7,198.1M926.1,276.8Q928.6,292.4 916.5,302.5M931.9,299.4Q917.0,278.9 913.6,253.7M894.7,266.2Q900.0,277.7 899.7,290.3" fill="none" stroke="#7FB060" stroke-opacity="0.4" stroke-width="0.6"/>
<path d="M1028.2,85.4Q975.1,100.2 935.4,138.4M967.0,118.7Q1002.6,112.0 1038.7,108.5M935.4,138.4Q935.6,198.1 913.6,253.7M1006.6,140.0Q1040.7,118.5 1073.6,141.7M931.9,156.7Q937.9,178.8 923.6,196.6M878.5,178.3Q932.7,205.3 944.4,264.7M911.3,207.8Q927.7,212.2 930.0,229.0M989.1,204.9Q982.5,217.6 973.3,228.5M973.3,228.5Q972.0,250.0 980.0,270.1M1074.9,129.3Q1107.8,135.5 1137.5,150.9M1089.0,151.5Q1106.3,187.1 1129.4,219.3M1137.5,150.9Q1130.3,170.4 1127.9,191.0M1074.5,166.9Q1086.1,176.1 1100.5,179.4M1127.9,191.0Q1137.0,191.1 1142.7,198.1M1182.4,195.8Q1145.9,210.1 1114.4,233.5M1092.8,198.1Q1105.6,198.0 1117.3,203.0M1142.7,198.1Q1128.7,193.6 1117.3,203.0M1117.3,203.0Q1120.4,213.4 1129.4,219.3M1055.6,208.7Q1068.2,225.9 1089.4,224.1M1036.4,226.5Q1063.4,236.0 1089.4,224.1M874.1,249.3Q926.1,264.8 980.0,270.1M894.7,266.2Q911.5,268.3 926.1,276.8M1134.6,243.1Q1121.0,251.4 1123.1,267.2M1036.4,259.5Q1038.3,271.0 1035.0,282.2M1036.4,259.5Q1076.6,274.2 1100.0,310.0M1053.7,261.4Q1067.3,267.7 1068.7,282.6M1058.3,343.0Q1050.9,368.4 1027.5,380.9M1077.0,194.3Q1071.0,210.1 1072.0,227.0M1117.3,203.0Q1128.9,207.1 1129.4,219.3M1053.7,261.4Q1096.0,237.6 1142.3,223.2M1134.6,243.1Q1141.5,234.3 1142.3,223.2M1072.0,227.0Q1090.2,206.6 1117.3,203.0M1100.5,179.4Q1107.9,216.4 1134.6,243.1M1077.0,194.3Q1084.1,179.5 1100.5,179.4M1134.6,243.1Q1145.6,224.9 1166.8,223.2M1114.4,233.5Q1125.2,219.1 1117.3,203.0M1127.9,191.0Q1100.7,210.2 1072.0,227.0M1123.1,267.2Q1092.8,239.3 1092.8,198.1M1177.0,177.5Q1148.1,202.9 1113.0,187.0M916.5,302.5Q912.8,269.2 936.1,245.0M899.7,290.3Q907.8,296.9 916.5,302.5" fill="none" stroke="#D4559E" stroke-opacity="0.3" stroke-width="1.0"/>
<path d="M1028.2,85.4Q1032.8,140.2 1018.2,193.3M967.0,118.7Q980.0,126.4 983.0,141.3M935.4,138.4Q949.5,182.0 989.1,204.9M1006.6,140.0Q1049.9,130.9 1089.0,151.5M878.5,178.3Q864.3,201.2 858.7,227.6M911.3,207.8Q953.5,229.1 995.9,249.9M989.1,204.9Q993.5,242.9 1009.0,277.8M1099.0,102.8Q1106.7,129.8 1089.0,151.5M1038.7,108.5Q1085.9,122.5 1135.2,124.0M1135.2,124.0Q1114.2,161.1 1092.8,198.1M1073.6,141.7Q1080.5,154.1 1074.5,166.9M1171.3,147.0Q1153.6,161.0 1134.6,173.1M1077.0,194.3Q1087.3,207.2 1102.5,213.5M1102.5,213.5Q1123.9,212.2 1142.3,223.2M936.1,245.0Q923.2,245.0 913.6,253.7M926.1,276.8Q933.7,286.9 931.9,299.4M916.5,302.5Q923.4,297.1 931.9,299.4M965.0,304.2Q962.4,311.5 957.3,317.3M1099.0,253.7Q1117.5,268.9 1128.9,289.9M1079.7,331.8Q1068.8,337.1 1058.3,343.0M1072.0,227.0Q1136.0,242.6 1182.4,195.8M1114.4,233.5Q1125.8,230.6 1129.4,219.3M1123.1,267.2Q1146.1,226.0 1182.4,195.8M946.3,281.7Q934.2,286.5 931.9,299.4M916.5,302.5Q936.5,299.4 946.3,281.7M931.9,299.4Q935.9,272.3 936.1,245.0M946.3,281.7Q928.7,269.2 913.6,253.7" fill="none" stroke="#7FB060" stroke-opacity="0.16" stroke-width="0.6"/>
<path d="M1028.2,85.4Q1082.0,103.9 1135.2,124.0M991.6,104.3Q997.2,134.5 1015.7,159.0M991.6,104.3Q1006.8,141.1 1046.6,139.7M989.1,204.9Q961.7,240.0 946.3,281.7M858.7,227.6Q872.7,250.6 894.7,266.2M1014.7,226.0Q1025.5,227.6 1036.4,226.5M1099.0,102.8Q1067.7,93.8 1038.7,108.5M1135.2,124.0Q1151.6,141.5 1158.3,164.4M1089.0,151.5Q1090.9,176.1 1113.0,187.0M1113.0,187.0Q1109.8,196.4 1117.3,203.0M1127.9,191.0Q1129.6,234.9 1170.3,251.4M1134.6,208.7Q1141.6,214.3 1142.3,223.2M1089.4,224.1Q1100.1,237.0 1099.0,253.7M936.1,245.0Q951.7,260.4 946.3,281.7M894.7,266.2Q887.8,270.2 885.6,277.8M1032.6,342.8Q1053.1,351.5 1053.8,373.8M1177.0,177.5Q1173.8,188.4 1182.4,195.8M1142.7,198.1Q1136.2,208.8 1129.4,219.3M1134.6,208.7Q1146.5,241.4 1123.1,267.2M1177.0,177.5Q1141.7,217.4 1123.1,267.2M1087.0,260.1Q1136.6,262.5 1166.8,223.2M874.1,249.3Q885.2,256.8 894.7,266.2M926.1,276.8Q936.4,272.4 944.4,264.7M927.1,325.6Q937.7,304.1 946.3,281.7" fill="none" stroke="#7FB060" stroke-opacity="0.3" stroke-width="1.0"/>
<path d="M1028.2,85.4Q1090.3,118.5 1134.6,173.1M983.0,141.3Q984.6,156.6 994.1,168.8M983.0,141.3Q1035.4,152.8 1089.0,151.5M1006.6,140.0Q991.9,150.7 994.1,168.8M1015.7,159.0Q1025.7,140.6 1046.6,139.7M878.5,178.3Q886.4,194.2 882.8,211.6M1038.7,108.5Q1054.4,123.1 1074.9,129.3M1073.6,141.7Q1094.0,173.4 1117.3,203.0M1158.3,164.4Q1148.4,174.2 1134.6,173.1M1127.9,191.0Q1123.8,205.4 1129.4,219.3M1182.4,195.8Q1163.0,204.2 1142.7,198.1M1182.4,195.8Q1148.8,236.4 1099.0,253.7M1077.0,194.3Q1080.8,211.6 1072.0,227.0M1166.8,223.2Q1164.4,237.8 1170.3,251.4M916.5,302.5Q921.6,314.1 927.1,325.6M965.0,304.2Q979.4,288.0 999.7,295.7M1002.2,313.8Q1051.8,330.4 1100.0,310.0M927.1,325.6Q982.0,306.3 1035.0,282.2M1128.9,289.9Q1146.0,280.8 1161.6,292.3M1128.9,289.9Q1117.5,304.4 1100.0,310.0M1079.7,331.8Q1092.0,344.6 1087.5,361.8M1087.5,361.8Q1071.4,370.0 1053.8,373.8M1113.0,187.0Q1116.4,227.6 1147.2,254.3M1134.6,173.1Q1132.5,220.3 1099.0,253.7M931.9,299.4Q920.2,277.6 913.6,253.7M874.1,249.3Q902.4,275.0 931.9,299.4M894.7,266.2Q919.6,267.2 944.4,264.7" fill="none" stroke="#7FB060" stroke-opacity="0.3" stroke-width="0.6"/>
<path d="M991.6,104.3Q975.0,104.2 967.0,118.7M973.3,187.9Q995.1,195.6 1018.2,193.3M911.3,207.8Q897.1,216.1 897.2,232.5M1038.7,108.5Q1050.2,131.4 1073.6,141.7M1074.9,129.3Q1057.2,124.8 1046.6,139.7M1100.9,128.8Q1086.9,134.5 1073.6,141.7M1089.0,151.5Q1096.4,164.8 1100.5,179.4M1158.3,164.4Q1169.1,168.9 1177.0,177.5M1177.0,177.5Q1184.8,185.2 1182.4,195.8M1177.0,177.5Q1148.4,192.9 1129.4,219.3M1100.5,179.4Q1102.2,191.1 1092.8,198.1M1100.5,179.4Q1091.7,191.5 1077.0,194.3M1182.4,195.8Q1165.6,204.4 1166.8,223.2M1102.5,213.5Q1114.2,224.4 1129.4,219.3M894.7,266.2Q899.7,277.7 899.7,290.3M926.1,276.8Q919.7,289.0 916.5,302.5M1009.0,277.8Q992.3,314.0 972.3,348.5M999.7,295.7Q1019.4,294.3 1035.0,282.2M1134.6,243.1Q1139.4,250.4 1147.2,254.3M1053.7,261.4Q1047.3,274.5 1035.0,282.2M1035.0,282.2Q1051.8,285.9 1068.7,282.6M1053.8,373.8Q1048.4,385.6 1046.8,398.5M1134.6,208.7Q1145.8,241.3 1123.1,267.2M1134.6,173.1Q1103.9,210.3 1055.6,208.7M1113.0,187.0Q1145.6,207.9 1182.4,195.8M1100.5,179.4Q1149.1,202.1 1170.3,251.4M1142.7,198.1Q1133.6,219.7 1134.6,243.1M1077.0,194.3Q1127.9,191.1 1177.0,177.5M1100.5,179.4Q1138.5,169.2 1177.0,177.5M1129.4,219.3Q1136.2,220.1 1142.3,223.2M1100.5,179.4Q1114.3,199.8 1129.4,219.3" fill="none" stroke="#D4559E" stroke-opacity="0.16" stroke-width="0.6"/>
<path d="M991.6,104.3Q995.2,124.6 983.0,141.3M991.6,104.3Q1046.9,130.7 1042.7,191.8M935.4,138.4Q959.7,132.3 983.0,141.3M935.4,138.4Q926.7,166.9 923.6,196.6M973.3,187.9Q974.4,208.2 973.3,228.5M965.6,208.7Q963.3,237.0 936.1,245.0M858.7,227.6Q878.4,305.0 957.3,317.3M973.3,228.5Q1018.5,230.0 1042.7,191.8M930.0,229.0Q913.2,227.0 897.2,232.5M1099.0,102.8Q1117.7,145.5 1127.9,191.0M1099.0,102.8Q1126.5,149.6 1117.3,203.0M1100.9,128.8Q1124.7,162.5 1117.3,203.0M1134.6,173.1Q1124.8,187.4 1117.3,203.0M1077.0,194.3Q1086.0,191.6 1092.8,198.1M1142.3,223.2Q1129.1,230.4 1114.4,233.5M944.4,264.7Q938.5,282.2 931.9,299.4M916.5,302.5Q974.3,283.8 1035.0,282.2M1002.2,313.8Q1011.2,334.8 1032.6,342.8M1114.4,233.5Q1134.5,238.1 1147.2,254.3M1147.2,254.3Q1138.1,266.2 1123.1,267.2M1177.0,177.5Q1141.3,214.0 1092.8,198.1M1102.5,213.5Q1123.7,213.2 1142.3,223.2M1127.9,191.0Q1135.2,194.8 1142.7,198.1M1134.6,243.1Q1132.2,256.7 1123.1,267.2" fill="none" stroke="#7FB060" stroke-opacity="0.3" stroke-width="0.8"/>
<path d="M967.0,118.7Q944.8,118.2 935.4,138.4M967.0,118.7Q990.8,121.8 1006.6,140.0M967.0,118.7Q1002.3,149.3 1018.2,193.3M1006.6,140.0Q974.2,153.0 973.3,187.9M931.9,156.7Q892.9,199.6 913.6,253.7M923.6,196.6Q916.5,214.8 930.0,229.0M911.3,207.8Q935.3,239.0 973.3,228.5M989.1,204.9Q996.3,222.3 1014.7,226.0M973.3,228.5Q994.4,233.4 1014.7,226.0M1099.0,102.8Q1122.7,123.3 1137.5,150.9M1046.6,139.7Q1015.1,180.0 1036.4,226.5M1171.3,147.0Q1170.7,172.8 1182.4,195.8M1177.0,177.5Q1155.7,197.3 1142.3,223.2M1077.0,194.3Q1097.2,198.6 1117.3,203.0M1142.3,223.2Q1154.5,229.1 1166.8,223.2M1072.0,227.0Q1080.0,221.1 1089.4,224.1M995.9,249.9Q993.3,268.2 1009.0,277.8M926.1,276.8Q935.3,283.1 946.3,281.7M899.7,290.3Q918.7,284.5 931.9,299.4M999.7,295.7Q994.8,305.6 1002.2,313.8M1170.3,251.4Q1148.7,265.2 1123.1,267.2M1068.7,282.6Q1089.3,290.6 1100.0,310.0M1079.7,331.8Q1090.0,348.2 1108.7,353.0M1123.7,336.6Q1119.9,348.2 1108.7,353.0M1134.6,243.1Q1153.0,223.2 1142.7,198.1M1166.8,223.2Q1147.0,232.4 1147.2,254.3M1114.4,233.5Q1147.8,225.5 1170.3,251.4M1134.6,208.7Q1156.0,193.1 1182.4,195.8M1147.2,254.3Q1134.0,233.4 1134.6,208.7M1127.9,191.0Q1123.1,205.4 1129.4,219.3M1055.6,208.7Q1102.6,207.6 1134.6,173.1M1114.4,233.5Q1109.3,252.8 1123.1,267.2M913.6,253.7Q923.7,276.2 931.9,299.4M936.1,245.0Q913.6,252.1 894.7,266.2M931.9,299.4Q934.8,280.9 944.4,264.7" fill="none" stroke="#7FB060" stroke-opacity="0.4" stroke-width="0.8"/>
<path d="M967.0,118.7Q976.2,146.1 994.1,168.8M1006.6,140.0Q1037.8,180.4 1014.7,226.0M1015.7,159.0Q1023.1,180.4 1042.7,191.8M878.5,178.3Q877.3,209.0 897.2,232.5M973.3,187.9Q976.3,200.8 965.6,208.7M882.8,211.6Q912.1,239.9 944.4,264.7M930.0,229.0Q973.9,246.3 1009.0,277.8M1089.0,151.5Q1086.1,163.3 1074.5,166.9M1171.3,147.0Q1155.0,153.9 1137.5,150.9M1158.3,164.4Q1170.8,207.0 1170.3,251.4M1074.5,166.9Q1074.0,188.2 1092.8,198.1M1177.0,177.5Q1156.3,181.9 1142.7,198.1M1100.5,179.4Q1105.3,185.6 1113.0,187.0M1142.3,223.2Q1136.6,232.4 1134.6,243.1M944.4,264.7Q936.5,272.6 926.1,276.8M899.7,290.3Q912.0,291.0 916.5,302.5M1100.5,179.4Q1067.6,167.1 1042.7,191.8M1055.6,208.7Q1098.8,200.5 1142.7,198.1M1182.4,195.8Q1136.1,242.8 1072.0,227.0M1055.6,208.7Q1085.2,192.6 1117.3,203.0M1114.4,233.5Q1103.3,225.1 1089.4,224.1M1087.0,260.1Q1099.7,242.9 1089.4,224.1M1072.0,227.0Q1094.0,213.8 1117.3,203.0M944.4,264.7Q916.5,278.0 885.6,277.8M916.5,302.5Q895.3,297.3 885.6,277.8" fill="none" stroke="#D4559E" stroke-opacity="0.22" stroke-width="1.0"/>
<path d="M967.0,118.7Q975.7,187.8 936.1,245.0M983.0,141.3Q981.5,185.3 973.3,228.5M1006.6,140.0Q972.8,164.0 931.9,156.7M931.9,156.7Q962.1,167.5 994.1,168.8M1018.2,193.3Q1030.9,199.5 1042.7,191.8M1099.0,102.8Q1108.7,115.2 1100.9,128.8M1038.7,108.5Q1048.0,162.8 1100.5,179.4M1074.5,166.9Q1064.7,187.2 1042.7,191.8M1100.5,179.4Q1101.8,212.5 1072.0,227.0M1077.0,194.3Q1064.7,199.1 1055.6,208.7M1142.7,198.1Q1138.1,210.0 1129.4,219.3M1099.0,253.7Q1115.0,253.3 1123.1,267.2M1087.5,361.8Q1091.4,373.4 1086.5,384.7M1053.8,373.8Q1040.3,376.2 1027.5,380.9M1147.2,254.3Q1137.4,264.9 1123.1,267.2M1134.6,243.1Q1086.1,246.5 1055.6,208.7M1127.9,191.0Q1106.9,205.5 1089.4,224.1M1089.4,224.1Q1076.4,212.0 1077.0,194.3M927.1,325.6Q946.8,287.0 936.1,245.0M926.1,276.8Q906.0,281.5 885.6,277.8M899.7,290.3Q920.8,269.9 936.1,245.0M936.1,245.0Q939.5,263.5 926.1,276.8" fill="none" stroke="#D4559E" stroke-opacity="0.4" stroke-width="0.8"/>
<path d="M935.4,138.4Q938.2,148.4 931.9,156.7M931.9,156.7Q956.5,167.2 973.3,187.9M858.7,227.6Q879.5,217.9 897.2,232.5M1074.9,129.3Q1087.5,136.9 1089.0,151.5M1158.3,164.4Q1111.7,190.9 1072.0,227.0M1134.6,173.1Q1142.9,184.2 1142.7,198.1M1055.6,208.7Q1044.3,215.7 1036.4,226.5M916.5,302.5Q946.3,316.9 978.1,326.0M931.9,299.4Q966.9,307.6 1002.2,313.8M965.0,304.2Q985.9,351.0 1027.5,380.9M1114.4,233.5Q1126.1,234.9 1134.6,243.1M1147.2,254.3Q1158.7,252.7 1170.3,251.4M1123.7,336.6Q1129.1,351.2 1133.3,366.2M1058.3,343.0Q1082.2,357.2 1086.5,384.7M1133.3,366.2Q1111.5,379.6 1086.5,384.7M1055.6,208.7Q1077.7,224.2 1102.5,213.5M1127.9,191.0Q1102.9,217.5 1099.0,253.7M1117.3,203.0Q1121.0,225.2 1134.6,243.1M1055.6,208.7Q1123.2,243.4 1182.4,195.8M1102.5,213.5Q1116.6,203.8 1127.9,191.0M1166.8,223.2Q1148.0,233.1 1147.2,254.3M913.6,253.7Q907.3,264.6 894.7,266.2" fill="none" stroke="#D4559E" stroke-opacity="0.16" stroke-width="1.0"/>
<path d="M935.4,138.4Q970.5,150.8 973.3,187.9M1015.7,159.0Q1034.5,197.3 1077.0,194.3M994.1,168.8Q982.1,176.6 973.3,187.9M878.5,178.3Q904.5,178.9 923.6,196.6M923.6,196.6Q957.2,194.3 989.1,204.9M965.6,208.7Q975.4,216.3 973.3,228.5M965.6,208.7Q954.2,230.1 930.0,229.0M1014.7,226.0Q1033.3,237.7 1036.4,259.5M1038.7,108.5Q1049.4,122.4 1046.6,139.7M1135.2,124.0Q1158.1,127.9 1171.3,147.0M1135.2,124.0Q1161.1,158.4 1182.4,195.8M1074.9,129.3Q1075.7,135.6 1073.6,141.7M1137.5,150.9Q1091.7,173.2 1089.4,224.1M1134.6,173.1Q1108.8,198.0 1114.4,233.5M1100.5,179.4Q1121.1,201.6 1142.3,223.2M1036.4,226.5Q1054.2,225.1 1072.0,227.0M980.0,270.1Q977.8,289.5 965.0,304.2M946.3,281.7Q929.2,289.0 916.5,302.5M1009.0,277.8Q999.6,294.7 1002.2,313.8M931.9,299.4Q948.7,300.2 965.0,304.2M999.7,295.7Q983.6,307.0 978.1,326.0M1114.4,233.5Q1107.6,244.3 1099.0,253.7M1099.0,253.7Q1094.9,260.5 1087.0,260.1M1032.6,342.8Q1037.3,362.8 1027.5,380.9M1027.5,380.9Q1057.5,375.4 1086.5,384.7M1072.0,227.0Q1084.9,214.9 1102.5,213.5M1055.6,208.7Q1096.7,229.5 1123.1,267.2M1142.3,223.2Q1124.5,209.9 1102.5,213.5M1134.6,243.1Q1130.8,225.9 1134.6,208.7M1142.3,223.2Q1106.8,215.2 1100.5,179.4" fill="none" stroke="#7FB060" stroke-opacity="0.22" stroke-width="1.0"/>
<path d="M935.4,138.4Q969.8,176.4 1018.2,193.3M931.9,156.7Q912.6,192.4 930.0,229.0M1014.7,226.0Q998.2,232.3 995.9,249.9M930.0,229.0Q914.0,264.0 916.5,302.5M1073.6,141.7Q1083.5,143.2 1089.0,151.5M1089.0,151.5Q1070.3,169.3 1077.0,194.3M1137.5,150.9Q1160.9,172.4 1182.4,195.8M1077.0,194.3Q1110.1,191.2 1142.7,198.1M1036.4,226.5Q1029.0,254.2 1035.0,282.2M980.0,270.1Q989.3,283.3 999.7,295.7M1009.0,277.8Q1021.3,266.6 1036.4,259.5M1009.0,277.8Q1002.2,317.0 1032.6,342.8M1036.4,259.5Q1046.0,280.2 1068.7,282.6M1100.0,310.0Q1091.0,322.0 1079.7,331.8M1108.7,353.0Q1090.2,363.7 1086.5,384.7M1086.5,384.7Q1067.4,393.7 1046.8,398.5M1147.2,254.3Q1126.2,227.7 1142.7,198.1M1134.6,173.1Q1121.0,195.0 1129.4,219.3M1170.3,251.4Q1124.2,254.5 1089.4,224.1M1142.3,223.2Q1150.1,243.4 1170.3,251.4M1099.0,253.7Q1062.1,245.9 1055.6,208.7M899.7,290.3Q917.5,288.7 931.9,299.4" fill="none" stroke="#7FB060" stroke-opacity="0.22" stroke-width="0.6"/>
<path d="M983.0,141.3Q1001.0,147.1 1015.7,159.0M965.6,208.7Q956.2,248.8 926.1,276.8M930.0,229.0Q904.6,240.2 894.7,266.2M1038.7,108.5Q1071.3,163.6 1134.6,173.1M1074.9,129.3Q1087.8,122.5 1100.9,128.8M1100.9,128.8Q1098.8,142.2 1089.0,151.5M1046.6,139.7Q1054.4,159.6 1074.5,166.9M1100.5,179.4Q1110.8,193.3 1127.9,191.0M1142.7,198.1Q1136.4,201.6 1134.6,208.7M1102.5,213.5Q1090.5,227.5 1072.0,227.0M1089.4,224.1Q1099.3,235.7 1114.4,233.5M980.0,270.1Q963.8,308.1 972.3,348.5M1009.0,277.8Q1008.8,289.1 999.7,295.7M1002.2,313.8Q987.3,314.2 978.1,326.0M1170.3,251.4Q1155.1,269.5 1161.6,292.3M1042.7,191.8Q1125.2,181.6 1170.3,251.4M899.7,290.3Q891.3,279.5 894.7,266.2" fill="none" stroke="#7FB060" stroke-opacity="0.4" stroke-width="1.0"/>
<path d="M1006.6,140.0Q1008.1,150.9 1015.7,159.0M931.9,156.7Q908.4,176.9 911.3,207.8M1015.7,159.0Q1033.4,190.5 1036.4,226.5M923.6,196.6Q907.5,215.9 882.8,211.6M930.0,229.0Q932.3,248.8 944.4,264.7M1099.0,102.8Q1120.7,107.2 1135.2,124.0M1171.3,147.0Q1164.2,155.3 1158.3,164.4M1182.4,195.8Q1150.3,203.7 1117.3,203.0M1042.7,191.8Q1031.2,207.6 1036.4,226.5M1092.8,198.1Q1117.8,193.3 1142.7,198.1M1102.5,213.5Q1104.3,225.9 1114.4,233.5M1129.4,219.3Q1130.3,231.6 1134.6,243.1M936.1,245.0Q933.9,261.8 926.1,276.8M944.4,264.7Q947.7,272.9 946.3,281.7M980.0,270.1Q994.6,273.5 1009.0,277.8M957.3,317.3Q969.2,318.1 978.1,326.0M957.3,317.3Q944.9,331.4 927.1,325.6M978.1,326.0Q973.2,336.7 972.3,348.5M1147.2,254.3Q1140.7,296.9 1123.7,336.6M1142.3,223.2Q1087.9,222.0 1042.7,191.8M1134.6,243.1Q1130.7,256.0 1123.1,267.2M1182.4,195.8Q1162.7,198.7 1142.7,198.1M927.1,325.6Q949.7,287.3 936.1,245.0" fill="none" stroke="#D4559E" stroke-opacity="0.3" stroke-width="0.8"/>
<path d="M1006.6,140.0Q1036.7,163.2 1074.5,166.9M911.3,207.8Q896.4,204.7 882.8,211.6M882.8,211.6Q866.5,213.2 858.7,227.6M1099.0,102.8Q1085.3,114.5 1074.9,129.3M1074.9,129.3Q1079.6,148.2 1074.5,166.9M1171.3,147.0Q1146.1,173.8 1134.6,208.7M1113.0,187.0Q1121.3,185.9 1127.9,191.0M1134.6,208.7Q1131.4,213.7 1129.4,219.3M995.9,249.9Q985.9,258.4 980.0,270.1M965.0,304.2Q971.6,315.0 978.1,326.0M1087.0,260.1Q1104.9,264.2 1123.1,267.2M1079.7,331.8Q1059.1,349.8 1032.6,342.8M1032.6,342.8Q1045.5,340.9 1058.3,343.0M1123.1,267.2Q1144.0,223.8 1113.0,187.0M1099.0,253.7Q1127.6,228.9 1127.9,191.0M1147.2,254.3Q1137.3,225.7 1117.3,203.0M1092.8,198.1Q1100.2,187.7 1113.0,187.0M1089.4,224.1Q1079.4,241.5 1087.0,260.1M1127.9,191.0Q1121.7,227.5 1147.2,254.3M927.1,325.6Q936.8,303.7 946.3,281.7M946.3,281.7Q919.1,278.6 894.7,266.2" fill="none" stroke="#D4559E" stroke-opacity="0.3" stroke-width="0.6"/>
<path d="M994.1,168.8Q997.2,187.6 989.1,204.9M973.3,187.9Q939.3,218.9 944.4,264.7M1018.2,193.3Q1032.4,207.1 1036.4,226.5M882.8,211.6Q895.8,218.1 897.2,232.5M965.6,208.7Q921.4,226.6 894.7,266.2M973.3,228.5Q987.0,236.7 995.9,249.9M1100.9,128.8Q1119.4,139.6 1137.5,150.9M1129.4,219.3Q1135.0,224.1 1142.3,223.2M1129.4,219.3Q1139.3,245.0 1123.1,267.2M1166.8,223.2Q1147.7,232.9 1147.2,254.3M874.1,249.3Q883.8,258.5 894.7,266.2M936.1,245.0Q908.7,242.4 894.7,266.2M1079.7,331.8Q1102.3,328.6 1123.7,336.6M1108.7,353.0Q1116.5,368.1 1133.3,366.2M1127.9,191.0Q1141.1,221.6 1147.2,254.3M1123.1,267.2Q1088.6,261.4 1053.7,261.4M1092.8,198.1Q1117.7,216.8 1134.6,243.1M1170.3,251.4Q1148.5,264.7 1123.1,267.2" fill="none" stroke="#D4559E" stroke-opacity="0.4" stroke-width="1.0"/>
<path d="M1018.2,193.3Q1022.6,210.3 1014.7,226.0M882.8,211.6Q877.8,230.3 874.1,249.3M1099.0,102.8Q1085.6,121.8 1073.6,141.7M1135.2,124.0Q1129.0,138.1 1137.5,150.9M1135.2,124.0Q1149.0,148.7 1134.6,173.1M1137.5,150.9Q1150.7,153.3 1158.3,164.4M1158.3,164.4Q1154.5,183.1 1142.7,198.1M1092.8,198.1Q1083.3,210.1 1089.4,224.1M1055.6,208.7Q1068.0,240.1 1099.0,253.7M1134.6,208.7Q1123.9,237.0 1123.1,267.2M1102.5,213.5Q1123.2,223.3 1134.6,243.1M913.6,253.7Q906.1,262.8 894.7,266.2M980.0,270.1Q964.3,279.3 946.3,281.7M885.6,277.8Q895.8,280.5 899.7,290.3M885.6,277.8Q909.5,279.5 916.5,302.5M1036.4,259.5Q1045.6,255.7 1053.7,261.4M1036.4,259.5Q1014.9,300.3 1032.6,342.8M1058.3,343.0Q1068.4,359.3 1087.5,361.8M1108.7,353.0Q1100.8,363.8 1087.5,361.8M1027.5,380.9Q1032.1,395.2 1046.8,398.5M1092.8,198.1Q1136.9,168.8 1182.4,195.8M1113.0,187.0Q1113.3,228.3 1087.0,260.1M1102.5,213.5Q1111.5,210.5 1117.3,203.0M899.7,290.3Q908.9,295.3 916.5,302.5M927.1,325.6Q902.9,316.1 899.7,290.3" fill="none" stroke="#D4559E" stroke-opacity="0.4" stroke-width="0.6"/>
<path d="M1137.5,150.9Q1136.2,162.0 1134.6,173.1M1158.3,164.4Q1163.6,185.3 1182.4,195.8M1134.6,173.1Q1124.1,180.5 1113.0,187.0M1127.9,191.0Q1120.2,194.9 1117.3,203.0M1117.3,203.0Q1112.5,211.9 1102.5,213.5M1117.3,203.0Q1127.3,201.9 1134.6,208.7M1055.6,208.7Q1063.2,218.4 1072.0,227.0M1089.4,224.1Q1100.9,249.8 1123.1,267.2M936.1,245.0Q949.9,271.7 980.0,270.1M913.6,253.7Q915.4,267.7 926.1,276.8M885.6,277.8Q948.0,282.6 1002.2,313.8M1002.2,313.8Q1012.6,291.8 1035.0,282.2M978.1,326.0Q996.2,290.6 1035.0,282.2M1092.8,198.1Q1084.2,199.0 1077.0,194.3M1129.4,219.3Q1110.8,233.1 1089.4,224.1M1099.0,253.7Q1127.1,205.1 1182.4,195.8M1102.5,213.5Q1090.7,228.0 1072.0,227.0" fill="none" stroke="#D4559E" stroke-opacity="0.16" stroke-width="0.8"/>
<path d="M1074.9,129.3Q1038.6,121.1 1006.6,140.0M1108.7,353.0Q1129.7,284.5 1166.8,223.2M1036.4,259.5Q1064.4,315.8 1123.7,336.6M1134.6,243.1Q1076.4,168.5 989.1,204.9M983.0,141.3Q994.7,168.0 973.3,187.9M965.6,208.7Q948.5,168.3 983.0,141.3M1123.7,336.6Q1114.6,320.8 1100.0,310.0M882.8,211.6Q928.0,221.5 944.4,264.7M1135.2,124.0Q1117.6,123.4 1100.9,128.8M1128.9,289.9Q1096.9,212.5 1100.9,128.8M936.1,245.0Q1010.4,207.9 1092.8,198.1M1074.5,166.9Q1012.6,244.7 913.6,253.7M935.4,138.4Q1007.2,246.0 1128.9,289.9M1038.7,108.5Q1067.4,90.2 1099.0,102.8M1014.7,226.0Q1036.9,221.5 1055.6,208.7M1123.1,267.2Q1064.7,217.8 1015.7,159.0M1170.3,251.4Q1152.7,269.0 1161.6,292.3M995.9,249.9Q960.9,274.6 957.3,317.3M978.1,326.0Q976.3,214.6 991.6,104.3M967.0,118.7Q1037.5,198.8 1134.6,243.1M1035.0,282.2Q1036.2,254.4 1036.4,226.5M973.3,228.5Q976.4,178.9 931.9,156.7M1002.2,313.8Q956.1,332.7 916.5,302.5M1038.7,108.5Q1088.2,203.5 1100.0,310.0M1100.0,310.0Q1073.7,290.2 1087.0,260.1" fill="none" stroke="#9CC08A" stroke-opacity="0.15" stroke-width="0.7"/>
<path d="M878.5,178.3Q872.3,196.0 882.8,211.6" fill="none" stroke="#5E9A45" stroke-opacity="0.7" stroke-width="1.19"/>
<path d="M911.3,207.8Q918.6,203.4 923.6,196.6" fill="none" stroke="#5E9A45" stroke-opacity="0.7" stroke-width="1.10"/>
<path d="M930.0,229.0Q963.2,239.6 980.0,270.1" fill="none" stroke="#C03A88" stroke-opacity="0.7" stroke-width="1.19"/>
<path d="M991.6,104.3Q996.0,151.5 1018.2,193.3" fill="none" stroke="#C03A88" stroke-opacity="0.7" stroke-width="1.02"/>
<path d="M991.6,104.3Q1009.1,129.2 1015.7,159.0" fill="none" stroke="#5E9A45" stroke-opacity="0.7" stroke-width="0.85"/>
<path d="M965.6,208.7Q976.2,199.8 989.1,204.9" fill="none" stroke="#5E9A45" stroke-opacity="0.7" stroke-width="1.02"/>
<path d="M989.1,204.9Q976.5,213.5 973.3,228.5" fill="none" stroke="#5E9A45" stroke-opacity="0.7" stroke-width="1.02"/>
<path d="M1027.5,380.9Q1035.3,355.8 1058.3,343.0" fill="none" stroke="#5E9A45" stroke-opacity="0.7" stroke-width="1.10"/>
<path d="M1027.5,380.9Q1033.6,393.6 1046.8,398.5" fill="none" stroke="#5E9A45" stroke-opacity="0.7" stroke-width="1.02"/>
<path d="M1046.8,398.5Q1050.3,386.1 1053.8,373.8" fill="none" stroke="#5E9A45" stroke-opacity="0.7" stroke-width="1.02"/>
<path d="M1032.6,342.8Q1057.5,366.4 1086.5,384.7" fill="none" stroke="#5E9A45" stroke-opacity="0.7" stroke-width="1.10"/>
<path d="M1053.8,373.8Q1074.9,330.4 1068.7,282.6" fill="none" stroke="#C03A88" stroke-opacity="0.7" stroke-width="0.94"/>
<path d="M1053.8,373.8Q1068.2,361.1 1087.5,361.8" fill="none" stroke="#5E9A45" stroke-opacity="0.7" stroke-width="0.94"/>
<path d="M1087.5,361.8Q1099.0,359.5 1108.7,353.0" fill="none" stroke="#5E9A45" stroke-opacity="0.7" stroke-width="0.94"/>
<path d="M1068.7,282.6Q1031.6,275.3 999.7,295.7" fill="none" stroke="#C03A88" stroke-opacity="0.7" stroke-width="0.85"/>
<path d="M1161.6,292.3Q1138.2,310.7 1123.7,336.6" fill="none" stroke="#5E9A45" stroke-opacity="0.7" stroke-width="0.77"/>
<path d="M1161.6,292.3Q1131.5,334.5 1087.5,361.8" fill="none" stroke="#5E9A45" stroke-opacity="0.7" stroke-width="0.68"/>
<path d="M1133.3,366.2Q1134.4,349.5 1123.7,336.6" fill="none" stroke="#5E9A45" stroke-opacity="0.7" stroke-width="0.77"/>
<path d="M1068.7,282.6Q1063.3,270.5 1053.7,261.4" fill="none" stroke="#C03A88" stroke-opacity="0.7" stroke-width="0.85"/>
<path d="M1053.7,261.4Q1045.1,260.4 1036.4,259.5" fill="none" stroke="#5E9A45" stroke-opacity="0.7" stroke-width="1.02"/>
<path d="M1036.4,226.5Q1003.8,242.7 980.0,270.1" fill="none" stroke="#5E9A45" stroke-opacity="0.7" stroke-width="0.85"/>
<path d="M1171.3,147.0Q1161.3,153.1 1158.3,164.4" fill="none" stroke="#5E9A45" stroke-opacity="0.7" stroke-width="1.02"/>
<path d="M1177.0,177.5Q1174.2,188.3 1182.4,195.8" fill="none" stroke="#5E9A45" stroke-opacity="0.7" stroke-width="0.94"/>
<path d="M885.6,277.8Q904.4,271.4 913.6,253.7" fill="none" stroke="#5E9A45" stroke-opacity="0.7" stroke-width="1.02"/>
<path d="M894.7,266.2Q902.9,258.1 913.6,253.7" fill="none" stroke="#5E9A45" stroke-opacity="0.7" stroke-width="0.94"/>
<path d="M913.6,253.7Q925.7,251.6 936.1,245.0" fill="none" stroke="#5E9A45" stroke-opacity="0.7" stroke-width="1.02"/>
<path d="M916.5,302.5Q917.2,316.2 927.1,325.6" fill="none" stroke="#C03A88" stroke-opacity="0.7" stroke-width="0.85"/>
<path d="M931.9,299.4Q934.7,313.5 927.1,325.6" fill="none" stroke="#C03A88" stroke-opacity="0.7" stroke-width="0.85"/>
<path d="M944.4,264.7Q952.1,300.4 978.1,326.0" fill="none" stroke="#5E9A45" stroke-opacity="0.7" stroke-width="1.02"/>
<path d="M1099.0,102.8Q1089.1,126.2 1089.0,151.5" fill="none" stroke="#5E9A45" stroke-opacity="0.7" stroke-width="0.85"/>
<path d="M1074.9,129.3Q1084.2,139.0 1089.0,151.5" fill="none" stroke="#5E9A45" stroke-opacity="0.7" stroke-width="0.85"/>
<path d="M1117.3,203.0Q1121.9,224.8 1134.6,243.1" fill="none" stroke="#C03A88" stroke-opacity="0.7" stroke-width="1.02"/>
<path d="M1092.8,198.1Q1105.5,198.1 1117.3,203.0" fill="none" stroke="#C03A88" stroke-opacity="0.7" stroke-width="0.94"/>
<path d="M1114.4,233.5Q1130.4,233.9 1142.3,223.2" fill="none" stroke="#C03A88" stroke-opacity="0.7" stroke-width="1.02"/>
<path d="M1099.0,253.7Q1110.8,233.5 1129.4,219.3" fill="none" stroke="#C03A88" stroke-opacity="0.7" stroke-width="0.85"/>
<path d="M1147.2,254.3Q1150.0,229.0 1134.6,208.7" fill="none" stroke="#C03A88" stroke-opacity="0.7" stroke-width="0.85"/>
<path d="M1042.7,191.8Q1071.5,205.6 1102.5,213.5" fill="none" stroke="#5E9A45" stroke-opacity="0.7" stroke-width="0.77"/>
<path d="M1042.7,191.8Q1087.4,201.2 1129.4,219.3" fill="none" stroke="#C03A88" stroke-opacity="0.7" stroke-width="0.68"/>
<path d="M1055.6,208.7Q1098.2,220.3 1142.3,223.2" fill="none" stroke="#5E9A45" stroke-opacity="0.7" stroke-width="0.77"/>
<path d="M1099.0,102.8Q1084.3,113.6 1074.9,129.3" fill="none" stroke="#5E9A45" stroke-opacity="0.7" stroke-width="0.77"/>
<path d="M1099.0,102.8Q1102.5,115.6 1100.9,128.8" fill="none" stroke="#5E9A45" stroke-opacity="0.7" stroke-width="0.77"/>
<path d="M1099.0,102.8Q1120.3,108.0 1135.2,124.0" fill="none" stroke="#5E9A45" stroke-opacity="0.7" stroke-width="0.68"/>
<path d="M1099.0,102.8Q1144.0,110.4 1171.3,147.0" fill="none" stroke="#5E9A45" stroke-opacity="0.7" stroke-width="0.68"/>
<path d="M1029.2,85.4Q1072.3,106.5 1089.0,151.5" fill="none" stroke="#5E9A45" stroke-opacity="0.7" stroke-width="0.68"/>
<path d="M1137.5,150.9Q1146.6,159.7 1158.3,164.4" fill="none" stroke="#5E9A45" stroke-opacity="0.7" stroke-width="0.68"/>
<path d="M1038.7,108.5Q1054.7,122.5 1074.9,129.3" fill="none" stroke="#C03A88" stroke-opacity="0.7" stroke-width="0.68"/>
<path d="M1038.7,108.5Q1068.1,125.0 1089.0,151.5" fill="none" stroke="#C03A88" stroke-opacity="0.7" stroke-width="0.68"/>
<path d="M1038.7,108.5Q1050.8,141.3 1074.5,166.9" fill="none" stroke="#C03A88" stroke-opacity="0.7" stroke-width="0.59"/>
<path d="M935.4,138.4Q971.2,132.1 1006.6,140.0" fill="none" stroke="#C03A88" stroke-opacity="0.7" stroke-width="0.59"/>
<circle cx="1028.2" cy="85.4" r="4.0" fill="#F26B1D"/>
<path d="M1028.2,85.4L1025.17,82.79A4.0,4.0 0 0 1 1032.16,84.84Z" fill="#F7C51E"/>
<circle cx="991.6" cy="104.3" r="4.0" fill="#F7C51E"/>
<path d="M991.6,104.3L987.62,103.92A4.0,4.0 0 0 1 993.48,100.77Z" fill="#F26B1D"/>
<circle cx="967.0" cy="118.7" r="4.0" fill="#9AA6F0"/>
<circle cx="935.4" cy="138.4" r="4.0" fill="#F26B1D"/>
<path d="M935.4,138.4L931.63,137.06A4.0,4.0 0 0 1 938.88,136.43Z" fill="#F7C51E"/>
<circle cx="983.0" cy="141.3" r="4.0" fill="#5EC2EE"/>
<circle cx="1006.6" cy="140.0" r="4.0" fill="#5EC2EE"/>
<circle cx="931.9" cy="156.7" r="4.0" fill="#9AA6F0"/>
<circle cx="1015.7" cy="159.0" r="4.0" fill="#F7C51E"/>
<circle cx="994.1" cy="168.8" r="4.0" fill="#F26B1D"/>
<path d="M994.1,168.8L990.73,166.64A4.0,4.0 0 0 1 997.73,167.13Z" fill="#F7C51E"/>
<circle cx="878.5" cy="178.3" r="4.0" fill="#5EC2EE"/>
<circle cx="973.3" cy="187.9" r="4.0" fill="#9AA6F0"/>
<circle cx="1018.2" cy="193.3" r="4.0" fill="#9AA6F0"/>
<path d="M1018.2,193.3L1014.48,191.83A4.0,4.0 0 0 1 1021.59,191.18Z" fill="#5EC2EE"/>
<circle cx="923.6" cy="196.6" r="4.0" fill="#9AA6F0"/>
<circle cx="911.3" cy="207.8" r="4.0" fill="#9AA6F0"/>
<circle cx="882.8" cy="211.6" r="4.0" fill="#F7C51E"/>
<path d="M882.8,211.6L879.99,208.75A4.0,4.0 0 0 1 886.77,212.07Z" fill="#9AA6F0"/>
<circle cx="965.6" cy="208.7" r="4.0" fill="#9AA6F0"/>
<path d="M965.6,208.7L962.03,206.89A4.0,4.0 0 0 1 969.49,207.75Z" fill="#F26B1D"/>
<circle cx="989.1" cy="204.9" r="4.0" fill="#5EC2EE"/>
<path d="M989.1,204.9L985.75,202.72A4.0,4.0 0 0 1 991.82,201.96Z" fill="#F26B1D"/>
<circle cx="858.7" cy="227.6" r="4.0" fill="#F26B1D"/>
<path d="M858.7,227.6L857.00,223.98A4.0,4.0 0 0 1 862.49,226.33Z" fill="#5EC2EE"/>
<circle cx="973.3" cy="228.5" r="4.0" fill="#9AA6F0"/>
<circle cx="1014.7" cy="226.0" r="4.0" fill="#9AA6F0"/>
<circle cx="930.0" cy="229.0" r="4.0" fill="#9AA6F0"/>
<path d="M930.0,229.0L926.99,226.36A4.0,4.0 0 0 1 933.96,228.43Z" fill="#F7C51E"/>
<circle cx="1099.0" cy="102.8" r="4.0" fill="#F7C51E"/>
<path d="M1099.0,102.8L1096.53,99.65A4.0,4.0 0 0 1 1102.99,103.10Z" fill="#9AA6F0"/>
<circle cx="1038.7" cy="108.5" r="4.0" fill="#5EC2EE"/>
<path d="M1038.7,108.5L1034.89,107.28A4.0,4.0 0 0 1 1041.83,106.01Z" fill="#9AA6F0"/>
<circle cx="1135.2" cy="124.0" r="4.0" fill="#F7C51E"/>
<path d="M1135.2,124.0L1131.29,123.15A4.0,4.0 0 0 1 1138.29,121.46Z" fill="#F26B1D"/>
<circle cx="1074.9" cy="129.3" r="4.0" fill="#F7C51E"/>
<path d="M1074.9,129.3L1070.97,128.53A4.0,4.0 0 0 1 1077.46,126.23Z" fill="#F26B1D"/>
<circle cx="1100.9" cy="128.8" r="4.0" fill="#F7C51E"/>
<path d="M1100.9,128.8L1097.19,127.30A4.0,4.0 0 0 1 1104.57,127.22Z" fill="#9AA6F0"/>
<circle cx="1046.6" cy="139.7" r="4.0" fill="#F7C51E"/>
<path d="M1046.6,139.7L1044.95,136.05A4.0,4.0 0 0 1 1050.42,138.51Z" fill="#9AA6F0"/>
<circle cx="1073.6" cy="141.7" r="4.0" fill="#F7C51E"/>
<circle cx="1089.0" cy="151.5" r="4.0" fill="#F7C51E"/>
<circle cx="1171.3" cy="147.0" r="4.0" fill="#9AA6F0"/>
<path d="M1171.3,147.0L1170.09,143.19A4.0,4.0 0 0 1 1174.98,145.43Z" fill="#F7C51E"/>
<circle cx="1137.5" cy="150.9" r="4.0" fill="#5EC2EE"/>
<circle cx="1158.3" cy="164.4" r="4.0" fill="#F7C51E"/>
<path d="M1158.3,164.4L1154.32,164.00A4.0,4.0 0 0 1 1161.08,161.52Z" fill="#9AA6F0"/>
<circle cx="1074.5" cy="166.9" r="4.0" fill="#5EC2EE"/>
<circle cx="1134.6" cy="173.1" r="4.0" fill="#F7C51E"/>
<path d="M1134.6,173.1L1131.13,171.10A4.0,4.0 0 0 1 1138.32,171.63Z" fill="#9AA6F0"/>
<circle cx="1177.0" cy="177.5" r="4.0" fill="#F7C51E"/>
<circle cx="1100.5" cy="179.4" r="4.0" fill="#5EC2EE"/>
<circle cx="1113.0" cy="187.0" r="4.0" fill="#5EC2EE"/>
<circle cx="1127.9" cy="191.0" r="4.0" fill="#5EC2EE"/>
<circle cx="1182.4" cy="195.8" r="4.0" fill="#9AA6F0"/>
<path d="M1182.4,195.8L1178.80,194.05A4.0,4.0 0 0 1 1186.24,194.69Z" fill="#F7C51E"/>
<circle cx="1042.7" cy="191.8" r="4.0" fill="#5EC2EE"/>
<path d="M1042.7,191.8L1040.78,188.29A4.0,4.0 0 0 1 1046.62,190.99Z" fill="#F26B1D"/>
<circle cx="1077.0" cy="194.3" r="4.0" fill="#5EC2EE"/>
<path d="M1077.0,194.3L1075.21,190.72A4.0,4.0 0 0 1 1080.40,192.20Z" fill="#F26B1D"/>
<circle cx="1092.8" cy="198.1" r="4.0" fill="#F26B1D"/>
<path d="M1092.8,198.1L1089.49,195.85A4.0,4.0 0 0 1 1094.81,194.64Z" fill="#5EC2EE"/>
<circle cx="1142.7" cy="198.1" r="4.0" fill="#9AA6F0"/>
<path d="M1142.7,198.1L1141.20,194.39A4.0,4.0 0 0 1 1146.31,196.38Z" fill="#F7C51E"/>
<circle cx="1117.3" cy="203.0" r="4.0" fill="#F7C51E"/>
<circle cx="1055.6" cy="208.7" r="4.0" fill="#F26B1D"/>
<path d="M1055.6,208.7L1052.98,205.68A4.0,4.0 0 0 1 1059.28,207.13Z" fill="#5EC2EE"/>
<circle cx="1134.6" cy="208.7" r="4.0" fill="#5EC2EE"/>
<circle cx="1102.5" cy="213.5" r="4.0" fill="#5EC2EE"/>
<circle cx="1129.4" cy="219.3" r="4.0" fill="#5EC2EE"/>
<path d="M1129.4,219.3L1127.12,216.01A4.0,4.0 0 0 1 1132.90,217.37Z" fill="#F26B1D"/>
<circle cx="1142.3" cy="223.2" r="4.0" fill="#5EC2EE"/>
<circle cx="1166.8" cy="223.2" r="4.0" fill="#5EC2EE"/>
<path d="M1166.8,223.2L1162.82,222.76A4.0,4.0 0 0 1 1169.24,220.03Z" fill="#F26B1D"/>
<circle cx="1036.4" cy="226.5" r="4.0" fill="#9AA6F0"/>
<path d="M1036.4,226.5L1033.68,223.57A4.0,4.0 0 0 1 1040.12,225.02Z" fill="#5EC2EE"/>
<circle cx="1072.0" cy="227.0" r="4.0" fill="#F7C51E"/>
<path d="M1072.0,227.0L1069.55,223.84A4.0,4.0 0 0 1 1075.29,224.73Z" fill="#9AA6F0"/>
<circle cx="1089.4" cy="224.1" r="4.0" fill="#F7C51E"/>
<path d="M1089.4,224.1L1086.08,221.86A4.0,4.0 0 0 1 1092.03,221.09Z" fill="#9AA6F0"/>
<circle cx="897.2" cy="232.5" r="4.0" fill="#5EC2EE"/>
<circle cx="874.1" cy="249.3" r="4.0" fill="#F26B1D"/>
<path d="M874.1,249.3L871.32,246.42A4.0,4.0 0 0 1 878.09,249.63Z" fill="#F7C51E"/>
<circle cx="936.1" cy="245.0" r="4.0" fill="#9AA6F0"/>
<path d="M936.1,245.0L932.22,244.04A4.0,4.0 0 0 1 939.80,243.48Z" fill="#F7C51E"/>
<circle cx="995.9" cy="249.9" r="4.0" fill="#F26B1D"/>
<path d="M995.9,249.9L993.30,246.86A4.0,4.0 0 0 1 999.78,248.92Z" fill="#F7C51E"/>
<circle cx="913.6" cy="253.7" r="4.0" fill="#9AA6F0"/>
<circle cx="894.7" cy="266.2" r="4.0" fill="#F26B1D"/>
<path d="M894.7,266.2L891.03,264.62A4.0,4.0 0 0 1 898.22,264.30Z" fill="#9AA6F0"/>
<circle cx="944.4" cy="264.7" r="4.0" fill="#F7C51E"/>
<path d="M944.4,264.7L940.57,263.55A4.0,4.0 0 0 1 947.93,262.82Z" fill="#5EC2EE"/>
<circle cx="980.0" cy="270.1" r="4.0" fill="#5EC2EE"/>
<path d="M980.0,270.1L976.20,268.86A4.0,4.0 0 0 1 983.73,268.65Z" fill="#F7C51E"/>
<circle cx="885.6" cy="277.8" r="4.0" fill="#9AA6F0"/>
<path d="M885.6,277.8L883.65,274.31A4.0,4.0 0 0 1 888.98,275.66Z" fill="#F26B1D"/>
<circle cx="926.1" cy="276.8" r="4.0" fill="#9AA6F0"/>
<circle cx="946.3" cy="281.7" r="4.0" fill="#F26B1D"/>
<path d="M946.3,281.7L944.06,278.38A4.0,4.0 0 0 1 949.56,279.38Z" fill="#9AA6F0"/>
<circle cx="1009.0" cy="277.8" r="4.0" fill="#9AA6F0"/>
<circle cx="899.7" cy="290.3" r="4.0" fill="#F7C51E"/>
<circle cx="916.5" cy="302.5" r="4.0" fill="#F26B1D"/>
<path d="M916.5,302.5L915.58,298.61A4.0,4.0 0 0 1 920.24,301.09Z" fill="#9AA6F0"/>
<circle cx="931.9" cy="299.4" r="4.0" fill="#F26B1D"/>
<path d="M931.9,299.4L929.15,296.49A4.0,4.0 0 0 1 935.68,298.09Z" fill="#9AA6F0"/>
<circle cx="965.0" cy="304.2" r="4.0" fill="#F7C51E"/>
<path d="M965.0,304.2L962.65,300.96A4.0,4.0 0 0 1 968.14,301.72Z" fill="#5EC2EE"/>
<circle cx="999.7" cy="295.7" r="4.0" fill="#F7C51E"/>
<circle cx="957.3" cy="317.3" r="4.0" fill="#9AA6F0"/>
<path d="M957.3,317.3L953.64,315.68A4.0,4.0 0 0 1 959.73,314.12Z" fill="#F7C51E"/>
<circle cx="1002.2" cy="313.8" r="4.0" fill="#9AA6F0"/>
<path d="M1002.2,313.8L998.20,313.99A4.0,4.0 0 0 1 1004.73,310.70Z" fill="#F26B1D"/>
<circle cx="927.1" cy="325.6" r="4.0" fill="#F7C51E"/>
<circle cx="978.1" cy="326.0" r="4.0" fill="#F7C51E"/>
<path d="M978.1,326.0L974.18,325.22A4.0,4.0 0 0 1 980.18,322.59Z" fill="#9AA6F0"/>
<circle cx="972.3" cy="348.5" r="4.5" fill="#F26B1D"/>
<circle cx="1114.4" cy="233.5" r="4.0" fill="#F7C51E"/>
<circle cx="1134.6" cy="243.1" r="4.0" fill="#F7C51E"/>
<circle cx="1099.0" cy="253.7" r="4.0" fill="#F7C51E"/>
<circle cx="1147.2" cy="254.3" r="4.5" fill="#F26B1D"/>
<circle cx="1170.3" cy="251.4" r="4.0" fill="#5EC2EE"/>
<circle cx="1036.4" cy="259.5" r="4.5" fill="#F26B1D"/>
<circle cx="1053.7" cy="261.4" r="4.0" fill="#F26B1D"/>
<path d="M1053.7,261.4L1050.89,258.55A4.0,4.0 0 0 1 1057.70,261.38Z" fill="#5EC2EE"/>
<circle cx="1087.0" cy="260.1" r="4.5" fill="#F26B1D"/>
<circle cx="1123.1" cy="267.2" r="4.0" fill="#F7C51E"/>
<path d="M1123.1,267.2L1120.39,264.26A4.0,4.0 0 0 1 1125.60,264.08Z" fill="#9AA6F0"/>
<circle cx="1035.0" cy="282.2" r="4.0" fill="#9AA6F0"/>
<circle cx="1068.7" cy="282.6" r="4.0" fill="#F7C51E"/>
<circle cx="1128.9" cy="289.9" r="4.0" fill="#F7C51E"/>
<path d="M1128.9,289.9L1126.21,286.94A4.0,4.0 0 0 1 1132.59,288.36Z" fill="#9AA6F0"/>
<circle cx="1161.6" cy="292.3" r="4.0" fill="#F26B1D"/>
<path d="M1161.6,292.3L1157.79,291.08A4.0,4.0 0 0 1 1164.85,289.96Z" fill="#F7C51E"/>
<circle cx="1100.0" cy="310.0" r="4.5" fill="#F26B1D"/>
<circle cx="1079.7" cy="331.8" r="4.0" fill="#F7C51E"/>
<path d="M1079.7,331.8L1075.70,331.65A4.0,4.0 0 0 1 1082.84,329.33Z" fill="#9AA6F0"/>
<circle cx="1123.7" cy="336.6" r="4.0" fill="#F7C51E"/>
<path d="M1123.7,336.6L1121.95,333.00A4.0,4.0 0 0 1 1127.23,334.73Z" fill="#5EC2EE"/>
<circle cx="1032.6" cy="342.8" r="4.0" fill="#F7C51E"/>
<path d="M1032.6,342.8L1029.09,340.89A4.0,4.0 0 0 1 1034.32,339.19Z" fill="#9AA6F0"/>
<circle cx="1058.3" cy="343.0" r="4.0" fill="#F7C51E"/>
<circle cx="1108.7" cy="353.0" r="4.0" fill="#9AA6F0"/>
<path d="M1108.7,353.0L1105.07,351.32A4.0,4.0 0 0 1 1111.60,350.24Z" fill="#F26B1D"/>
<circle cx="1087.5" cy="361.8" r="4.0" fill="#9AA6F0"/>
<path d="M1087.5,361.8L1086.11,358.05A4.0,4.0 0 0 1 1091.25,360.40Z" fill="#F7C51E"/>
<circle cx="1133.3" cy="366.2" r="4.0" fill="#F7C51E"/>
<path d="M1133.3,366.2L1130.81,363.07A4.0,4.0 0 0 1 1137.09,364.92Z" fill="#9AA6F0"/>
<circle cx="1053.8" cy="373.8" r="4.0" fill="#9AA6F0"/>
<circle cx="1027.5" cy="380.9" r="4.0" fill="#F7C51E"/>
<circle cx="1086.5" cy="384.7" r="4.0" fill="#9AA6F0"/>
<circle cx="1046.8" cy="398.5" r="4.0" fill="#9AA6F0"/>
<rect x="1231.9" y="82.9" width="6.5" height="6.2" fill="#F26B1D"/>
<text x="1249.4" y="93.1" font-size="13.6" font-family="Liberation Serif" fill="#222">HD</text>
<rect x="1231.9" y="102.0" width="6.5" height="6.2" fill="#F7C51E"/>
<text x="1249.4" y="111.1" font-size="13.6" font-family="Liberation Serif" fill="#222">HSB</text>
<rect x="1231.9" y="121.2" width="6.5" height="6.2" fill="#9AA6F0"/>
<text x="1249.4" y="129.1" font-size="13.6" font-family="Liberation Serif" fill="#222">GT</text>
<rect x="1231.9" y="140.3" width="6.5" height="6.2" fill="#5EC2EE"/>
<text x="1249.4" y="147.1" font-size="13.6" font-family="Liberation Serif" fill="#222">BN</text>
<text x="1219.5" y="245.6" font-size="14.4" font-family="Liberation Serif" fill="#222">Similarity</text>
<rect x="1233" y="262.0" width="6.5" height="2" fill="#C2187A"/>
<text x="1272.5" y="267.7" font-size="14" text-anchor="end" font-family="Liberation Serif" fill="#222">-1.0</text>
<rect x="1233" y="280.1" width="6.5" height="2" fill="#D45A9C"/>
<text x="1272.5" y="285.8" font-size="14" text-anchor="end" font-family="Liberation Serif" fill="#222">-0.9</text>
<rect x="1233" y="298.2" width="6.5" height="2" fill="#D4589C"/>
<text x="1272.5" y="303.9" font-size="14" text-anchor="end" font-family="Liberation Serif" fill="#222">-0.8</text>
<rect x="1233" y="316.3" width="6.5" height="2" fill="#E08AB8"/>
<text x="1272.5" y="322.0" font-size="14" text-anchor="end" font-family="Liberation Serif" fill="#222">-0.7</text>
<rect x="1233" y="334.4" width="6.5" height="2" fill="#B8D0A4"/>
<text x="1272.5" y="340.1" font-size="14" text-anchor="end" font-family="Liberation Serif" fill="#222">0.7</text>
<rect x="1233" y="352.5" width="6.5" height="2" fill="#8DB878"/>
<text x="1272.5" y="358.2" font-size="14" text-anchor="end" font-family="Liberation Serif" fill="#222">0.8</text>
<rect x="1233" y="370.6" width="6.5" height="2" fill="#6AA84F"/>
<text x="1272.5" y="376.3" font-size="14" text-anchor="end" font-family="Liberation Serif" fill="#222">0.9</text>
<rect x="1233" y="388.7" width="6.5" height="2" fill="#4A8A30"/>
<text x="1272.5" y="394.4" font-size="14" text-anchor="end" font-family="Liberation Serif" fill="#222">1.0</text>
<g fill-opacity="0.95">
<circle cx="908.8" cy="681.6" r="2.0" fill="#F5A030"/>
<circle cx="978.7" cy="661.8" r="2.0" fill="#F8D232"/>
<circle cx="1005.0" cy="652.7" r="1.8" fill="#F8D232"/>
<circle cx="1009.1" cy="668.1" r="2.5" fill="#F0705A"/>
<circle cx="1032.0" cy="661.8" r="2.8" fill="#F0705A"/>
<circle cx="1026.0" cy="681.6" r="1.6" fill="#F8D232"/>
<circle cx="1043.6" cy="678.1" r="1.8" fill="#3A76B2"/>
<circle cx="1066.2" cy="655.5" r="3.0" fill="#3A76B2"/>
<circle cx="1059.3" cy="659.6" r="2.0" fill="#F5A030"/>
<circle cx="1064.6" cy="663.7" r="2.0" fill="#F8D232"/>
<circle cx="1070.3" cy="661.8" r="2.5" fill="#5CC8B0"/>
<circle cx="1074.3" cy="659.6" r="2.8" fill="#E476C4"/>
<circle cx="1074.0" cy="665.6" r="2.8" fill="#5CC8B0"/>
<circle cx="1069.0" cy="681.6" r="1.5" fill="#F8D232"/>
<circle cx="1079.7" cy="695.7" r="1.3" fill="#F8D232"/>
<circle cx="1096.3" cy="680.0" r="2.3" fill="#F5A030"/>
<circle cx="1073.4" cy="565.0" r="1.8" fill="#3A76B2"/>
<circle cx="1091.3" cy="568.4" r="1.2" fill="#F0705A"/>
<circle cx="1100.0" cy="565.9" r="1.8" fill="#F8D232"/>
<circle cx="1079.3" cy="582.8" r="2.3" fill="#F8D232"/>
<circle cx="1091.3" cy="595.4" r="1.3" fill="#F8D232"/>
<circle cx="1089.4" cy="603.8" r="1.8" fill="#F0705A"/>
<circle cx="1107.9" cy="603.8" r="1.2" fill="#F8D232"/>
<circle cx="1108.8" cy="555.2" r="1.8" fill="#F8D232"/>
<circle cx="1105.0" cy="639.0" r="2.3" fill="#E476C4"/>
<circle cx="1107.2" cy="657.7" r="3.0" fill="#F8D232"/>
<circle cx="1170.8" cy="484.5" r="2.6" fill="#3A76B2"/>
<circle cx="1174.5" cy="483.5" r="2.2" fill="#3A76B2"/>
<circle cx="1178.0" cy="488.5" r="1.3" fill="#3A76B2"/>
<circle cx="1158.0" cy="490.5" r="2.2" fill="#F8D232"/>
<circle cx="1162.0" cy="490.5" r="2.2" fill="#F8D232"/>
<circle cx="1155.0" cy="494.0" r="2.0" fill="#F8D232"/>
<circle cx="1157.5" cy="495.5" r="2.2" fill="#F5A030"/>
<circle cx="1189.5" cy="500.5" r="2.2" fill="#3A76B2"/>
<circle cx="1196.0" cy="500.5" r="1.6" fill="#F8D232"/>
<circle cx="1189.0" cy="522.0" r="2.2" fill="#3A76B2"/>
<circle cx="1194.0" cy="530.0" r="2.0" fill="#F5A030"/>
<circle cx="1120.0" cy="515.0" r="2.4" fill="#F8D232"/>
<circle cx="1125.0" cy="515.0" r="2.4" fill="#F8D232"/>
<circle cx="1122.0" cy="519.0" r="2.0" fill="#F8D232"/>
<circle cx="1122.0" cy="521.0" r="1.6" fill="#5CC8B0"/>
<circle cx="1146.0" cy="516.5" r="2.2" fill="#F8D232"/>
<circle cx="1152.0" cy="518.0" r="1.2" fill="#F8D232"/>
<circle cx="1144.0" cy="525.0" r="2.2" fill="#F8D232"/>
<circle cx="1211.0" cy="536.0" r="2.2" fill="#5CC8B0"/>
<circle cx="1213.0" cy="532.0" r="1.8" fill="#5CC8B0"/>
<circle cx="1203.0" cy="545.0" r="2.2" fill="#5CC8B0"/>
<circle cx="1200.0" cy="542.0" r="1.4" fill="#5CC8B0"/>
<circle cx="1215.0" cy="546.0" r="2.0" fill="#5CC8B0"/>
<circle cx="1251.0" cy="550.5" r="2.0" fill="#F0705A"/>
<circle cx="1255.0" cy="549.0" r="1.6" fill="#F8D232"/>
<circle cx="1119.5" cy="572.8" r="3.0" fill="#F0705A"/>
<circle cx="1129.3" cy="535.0" r="2.0" fill="#F8D232"/>
<circle cx="1153.2" cy="540.3" r="2.2" fill="#F8D232"/>
<circle cx="1149.1" cy="539.8" r="1.0" fill="#F8D232"/>
<circle cx="1117.2" cy="540.2" r="2.2" fill="#F8D232"/>
<circle cx="1170.5" cy="538.9" r="2.2" fill="#F8D232"/>
<circle cx="1135.2" cy="543.9" r="0.8" fill="#F8D232"/>
<circle cx="1151.4" cy="533.1" r="1.8" fill="#F8D232"/>
<circle cx="1138.2" cy="530.2" r="1.2" fill="#F8D232"/>
<circle cx="1136.3" cy="542.6" r="1.8" fill="#F8D232"/>
<circle cx="1138.9" cy="542.2" r="1.0" fill="#F8D232"/>
<circle cx="1144.0" cy="542.2" r="1.3" fill="#F8D232"/>
<circle cx="1166.0" cy="535.8" r="1.0" fill="#F8D232"/>
<circle cx="1155.7" cy="542.0" r="0.8" fill="#5CC8B0"/>
<circle cx="1155.0" cy="524.0" r="1.6" fill="#F8D232"/>
<circle cx="1162.1" cy="537.9" r="2.6" fill="#F8D232"/>
<circle cx="1154.4" cy="528.8" r="1.3" fill="#F8D232"/>
<circle cx="1128.5" cy="523.9" r="1.2" fill="#F8D232"/>
<circle cx="1146.8" cy="538.1" r="1.8" fill="#F8D232"/>
<circle cx="1155.6" cy="530.4" r="1.2" fill="#F8D232"/>
<circle cx="1170.5" cy="538.1" r="1.6" fill="#F8D232"/>
<circle cx="1158.8" cy="533.1" r="1.3" fill="#F8D232"/>
<circle cx="1170.5" cy="549.3" r="0.8" fill="#F8D232"/>
<circle cx="1151.0" cy="531.4" r="1.0" fill="#F0705A"/>
<circle cx="1155.4" cy="536.3" r="0.8" fill="#F8D232"/>
<circle cx="1149.2" cy="542.5" r="1.0" fill="#F8D232"/>
<circle cx="1156.4" cy="535.4" r="0.8" fill="#F8D232"/>
<circle cx="1135.9" cy="540.6" r="2.2" fill="#F8D232"/>
<circle cx="1128.2" cy="536.4" r="1.1" fill="#F8D232"/>
<circle cx="1143.4" cy="533.2" r="1.2" fill="#F8D232"/>
<circle cx="1158.6" cy="530.2" r="2.6" fill="#F8D232"/>
<circle cx="1170.5" cy="541.0" r="1.6" fill="#F8D232"/>
<circle cx="1154.1" cy="536.4" r="1.3" fill="#F8D232"/>
<circle cx="1149.0" cy="528.0" r="2.2" fill="#F8D232"/>
<circle cx="1129.5" cy="536.8" r="1.1" fill="#E476C4"/>
<circle cx="1149.9" cy="529.7" r="1.3" fill="#F0705A"/>
<circle cx="1155.0" cy="524.4" r="1.6" fill="#F8D232"/>
<circle cx="1142.4" cy="536.5" r="1.5" fill="#F8D232"/>
<circle cx="1115.7" cy="540.3" r="1.1" fill="#F8D232"/>
<circle cx="1170.5" cy="547.8" r="2.0" fill="#F8D232"/>
<circle cx="1140.3" cy="538.9" r="0.8" fill="#F8D232"/>
<circle cx="1133.6" cy="536.3" r="0.8" fill="#F8D232"/>
<circle cx="1168.1" cy="536.1" r="1.3" fill="#F8D232"/>
<circle cx="1123.6" cy="516.5" r="2.0" fill="#F8D232"/>
<circle cx="1144.3" cy="535.9" r="1.1" fill="#3A76B2"/>
<circle cx="1156.1" cy="549.9" r="2.6" fill="#F8D232"/>
<circle cx="1141.5" cy="536.8" r="0.8" fill="#F5A030"/>
<circle cx="1159.9" cy="543.1" r="1.6" fill="#F8D232"/>
<circle cx="1145.7" cy="536.6" r="1.0" fill="#F8D232"/>
<circle cx="1117.4" cy="551.7" r="1.6" fill="#3A76B2"/>
<circle cx="1168.1" cy="540.9" r="1.8" fill="#F8D232"/>
<circle cx="1150.6" cy="539.3" r="2.2" fill="#F8D232"/>
<circle cx="1150.0" cy="536.5" r="2.2" fill="#F8D232"/>
<circle cx="1138.2" cy="543.0" r="1.1" fill="#F8D232"/>
<circle cx="1143.0" cy="540.8" r="1.5" fill="#F8D232"/>
<circle cx="1138.8" cy="542.6" r="2.6" fill="#F8D232"/>
<circle cx="1147.3" cy="528.8" r="1.2" fill="#3A76B2"/>
<circle cx="1158.0" cy="541.2" r="1.5" fill="#F8D232"/>
<circle cx="1149.3" cy="534.1" r="0.8" fill="#F8D232"/>
<circle cx="1138.6" cy="551.3" r="1.1" fill="#F8D232"/>
<circle cx="1160.0" cy="532.8" r="1.6" fill="#5CC8B0"/>
<circle cx="1135.2" cy="542.1" r="2.2" fill="#F8D232"/>
<circle cx="1141.8" cy="536.5" r="2.2" fill="#F8D232"/>
<circle cx="1169.7" cy="534.8" r="1.3" fill="#F8D232"/>
<circle cx="1136.1" cy="543.4" r="1.6" fill="#F8D232"/>
<circle cx="1144.2" cy="536.8" r="1.1" fill="#F8D232"/>
<circle cx="1159.7" cy="553.6" r="1.0" fill="#F8D232"/>
<circle cx="1132.6" cy="543.5" r="2.6" fill="#E476C4"/>
<circle cx="1156.2" cy="526.7" r="0.8" fill="#F8D232"/>
<circle cx="1147.9" cy="544.6" r="1.2" fill="#F8D232"/>
<circle cx="1145.4" cy="531.8" r="2.0" fill="#F8D232"/>
<circle cx="1195.8" cy="530.8" r="1.2" fill="#F8D232"/>
<circle cx="1181.9" cy="531.4" r="1.8" fill="#F8D232"/>
<circle cx="1185.6" cy="531.9" r="2.0" fill="#F8D232"/>
<circle cx="1198.1" cy="532.0" r="1.8" fill="#F5A030"/>
<circle cx="1190.0" cy="530.9" r="2.6" fill="#F8D232"/>
<circle cx="1210.1" cy="539.5" r="1.6" fill="#F8D232"/>
<circle cx="1212.0" cy="531.0" r="1.5" fill="#F8D232"/>
<circle cx="1187.8" cy="533.6" r="2.0" fill="#F8D232"/>
<circle cx="1181.8" cy="536.3" r="1.3" fill="#F8D232"/>
<circle cx="1195.4" cy="540.4" r="0.8" fill="#F8D232"/>
<circle cx="1184.8" cy="537.4" r="1.1" fill="#F8D232"/>
<circle cx="1212.7" cy="531.8" r="2.6" fill="#F8D232"/>
<circle cx="1202.2" cy="531.3" r="1.0" fill="#F8D232"/>
<circle cx="1204.5" cy="536.3" r="2.0" fill="#F8D232"/>
<circle cx="1200.5" cy="535.5" r="1.3" fill="#F0705A"/>
<circle cx="1201.6" cy="531.2" r="1.3" fill="#F0705A"/>
<circle cx="1207.6" cy="531.1" r="2.2" fill="#F8D232"/>
<circle cx="1195.7" cy="536.6" r="0.8" fill="#F8D232"/>
<circle cx="1191.5" cy="577.0" r="2.0" fill="#E476C4"/>
<circle cx="1234.9" cy="563.0" r="1.0" fill="#E476C4"/>
<circle cx="1175.6" cy="559.0" r="2.0" fill="#F8D232"/>
<circle cx="1171.1" cy="552.7" r="1.6" fill="#5CC8B0"/>
<circle cx="1144.8" cy="564.9" r="1.6" fill="#F8D232"/>
<circle cx="1232.6" cy="552.3" r="2.0" fill="#F5A030"/>
<circle cx="1151.4" cy="572.6" r="1.3" fill="#F0705A"/>
<circle cx="1125.3" cy="556.6" r="1.2" fill="#F8D232"/>
<circle cx="1128.9" cy="577.5" r="1.5" fill="#F8D232"/>
<circle cx="1141.3" cy="564.2" r="2.2" fill="#F8D232"/>
<circle cx="1124.4" cy="563.9" r="1.2" fill="#F8D232"/>
<circle cx="1204.9" cy="553.9" r="2.6" fill="#F8D232"/>
<circle cx="1164.8" cy="563.4" r="1.2" fill="#F8D232"/>
<circle cx="1227.5" cy="563.3" r="1.2" fill="#F8D232"/>
<circle cx="1225.7" cy="561.1" r="1.2" fill="#5CC8B0"/>
<circle cx="1234.6" cy="560.7" r="1.1" fill="#F8D232"/>
<circle cx="1151.2" cy="569.2" r="1.2" fill="#F5A030"/>
<circle cx="1215.6" cy="572.5" r="1.2" fill="#F8D232"/>
<circle cx="1125.7" cy="575.4" r="1.6" fill="#F8D232"/>
<circle cx="1223.1" cy="566.3" r="1.1" fill="#5CC8B0"/>
<circle cx="1135.2" cy="560.7" r="1.0" fill="#5CC8B0"/>
<circle cx="1135.3" cy="559.2" r="1.5" fill="#F5A030"/>
<circle cx="1123.4" cy="564.0" r="2.0" fill="#3A76B2"/>
<circle cx="1246.2" cy="555.1" r="1.8" fill="#5CC8B0"/>
<circle cx="1122.1" cy="576.8" r="2.0" fill="#F0705A"/>
<circle cx="1233.2" cy="564.7" r="1.0" fill="#F8D232"/>
<circle cx="1135.7" cy="554.9" r="2.6" fill="#E476C4"/>
<circle cx="1120.6" cy="576.1" r="1.8" fill="#E476C4"/>
<circle cx="1118.1" cy="575.2" r="1.6" fill="#F8D232"/>
<circle cx="1179.0" cy="566.1" r="0.8" fill="#F0705A"/>
<circle cx="1195.5" cy="576.7" r="1.6" fill="#F8D232"/>
<circle cx="1170.4" cy="557.7" r="1.2" fill="#F8D232"/>
<circle cx="1191.4" cy="575.2" r="1.5" fill="#5CC8B0"/>
<circle cx="1231.5" cy="556.0" r="2.6" fill="#3A76B2"/>
<circle cx="1238.0" cy="562.3" r="2.2" fill="#F8D232"/>
<circle cx="1244.0" cy="555.9" r="1.0" fill="#F8D232"/>
<circle cx="1210.9" cy="556.6" r="1.6" fill="#5CC8B0"/>
<circle cx="1125.8" cy="568.8" r="1.5" fill="#F8D232"/>
<circle cx="1214.0" cy="557.0" r="1.1" fill="#F8D232"/>
<circle cx="1117.1" cy="568.5" r="0.8" fill="#F8D232"/>
<circle cx="1231.7" cy="675.9" r="2.0" fill="#F8D232"/>
<circle cx="1147.6" cy="560.5" r="0.8" fill="#E476C4"/>
<circle cx="1169.1" cy="685.4" r="1.2" fill="#F8D232"/>
<circle cx="1197.2" cy="665.3" r="1.6" fill="#F8D232"/>
<circle cx="1182.3" cy="662.7" r="2.0" fill="#F8D232"/>
<circle cx="1232.0" cy="621.4" r="2.6" fill="#E476C4"/>
<circle cx="1173.1" cy="638.9" r="0.8" fill="#3A76B2"/>
<circle cx="1167.4" cy="647.0" r="1.6" fill="#F5A030"/>
<circle cx="1218.7" cy="635.0" r="0.8" fill="#F0705A"/>
<circle cx="1235.7" cy="640.9" r="1.3" fill="#F8D232"/>
<circle cx="1170.2" cy="627.2" r="2.6" fill="#F8D232"/>
<circle cx="1186.8" cy="663.5" r="2.6" fill="#F5A030"/>
<circle cx="1189.1" cy="600.5" r="0.8" fill="#F8D232"/>
<circle cx="1199.1" cy="612.3" r="2.6" fill="#F8D232"/>
<circle cx="1247.7" cy="646.5" r="1.5" fill="#F8D232"/>
<circle cx="1177.9" cy="691.2" r="1.8" fill="#F8D232"/>
<circle cx="1206.8" cy="666.2" r="1.8" fill="#F8D232"/>
<circle cx="1199.5" cy="681.2" r="1.2" fill="#E476C4"/>
<circle cx="1230.8" cy="616.4" r="1.2" fill="#F8D232"/>
<circle cx="1217.9" cy="580.1" r="1.1" fill="#F8D232"/>
<circle cx="1162.6" cy="684.0" r="1.3" fill="#F8D232"/>
<circle cx="1211.4" cy="611.3" r="1.5" fill="#3A76B2"/>
<circle cx="1159.7" cy="567.2" r="1.0" fill="#F8D232"/>
<circle cx="1183.2" cy="630.6" r="1.3" fill="#5CC8B0"/>
<circle cx="1244.1" cy="663.2" r="2.2" fill="#3A76B2"/>
<circle cx="1201.6" cy="602.9" r="1.2" fill="#F8D232"/>
<circle cx="1224.0" cy="630.7" r="1.2" fill="#3A76B2"/>
<circle cx="1203.6" cy="641.6" r="1.0" fill="#F0705A"/>
<circle cx="1197.1" cy="670.2" r="1.1" fill="#F5A030"/>
<circle cx="1253.5" cy="623.9" r="1.5" fill="#F0705A"/>
<circle cx="1179.5" cy="633.3" r="1.1" fill="#F8D232"/>
<circle cx="1211.6" cy="583.3" r="1.0" fill="#F8D232"/>
<circle cx="1228.7" cy="638.4" r="1.8" fill="#3A76B2"/>
<circle cx="1141.3" cy="641.7" r="1.1" fill="#F8D232"/>
<circle cx="1143.3" cy="649.5" r="2.0" fill="#F8D232"/>
<circle cx="1207.4" cy="585.0" r="1.8" fill="#F0705A"/>
<circle cx="1175.5" cy="689.8" r="0.8" fill="#F8D232"/>
<circle cx="1218.2" cy="608.1" r="1.5" fill="#3A76B2"/>
<circle cx="1219.8" cy="661.6" r="1.5" fill="#F8D232"/>
<circle cx="1157.8" cy="608.8" r="1.8" fill="#F8D232"/>
<circle cx="1172.0" cy="639.8" r="1.3" fill="#5CC8B0"/>
<circle cx="1215.8" cy="636.9" r="2.0" fill="#3A76B2"/>
<circle cx="1180.9" cy="650.5" r="1.6" fill="#F8D232"/>
<circle cx="1212.7" cy="589.2" r="1.5" fill="#3A76B2"/>
<circle cx="1124.4" cy="589.1" r="1.1" fill="#F0705A"/>
<circle cx="1195.4" cy="581.0" r="1.1" fill="#F8D232"/>
<circle cx="1173.2" cy="621.5" r="2.6" fill="#E476C4"/>
<circle cx="1146.2" cy="582.8" r="2.0" fill="#F8D232"/>
<circle cx="1201.8" cy="597.6" r="1.1" fill="#F0705A"/>
<circle cx="1203.0" cy="687.8" r="1.2" fill="#F8D232"/>
<circle cx="1224.7" cy="632.6" r="1.5" fill="#F8D232"/>
<circle cx="1186.3" cy="653.9" r="2.6" fill="#E476C4"/>
<circle cx="1148.0" cy="682.3" r="2.2" fill="#F8D232"/>
<circle cx="1153.2" cy="585.0" r="1.0" fill="#5CC8B0"/>
<circle cx="1126.3" cy="576.2" r="2.0" fill="#F0705A"/>
<circle cx="1219.3" cy="650.5" r="1.1" fill="#F5A030"/>
<circle cx="1207.7" cy="666.9" r="2.6" fill="#F8D232"/>
<circle cx="1213.8" cy="648.6" r="1.3" fill="#F8D232"/>
<circle cx="1226.0" cy="662.9" r="1.8" fill="#F5A030"/>
<circle cx="1242.0" cy="658.0" r="1.1" fill="#5CC8B0"/>
<circle cx="1217.2" cy="572.9" r="1.8" fill="#F8D232"/>
<circle cx="1211.3" cy="670.9" r="1.8" fill="#F8D232"/>
<circle cx="1198.5" cy="617.6" r="1.1" fill="#F8D232"/>
<circle cx="1206.1" cy="573.1" r="2.0" fill="#F0705A"/>
<circle cx="1194.0" cy="633.9" r="1.5" fill="#F5A030"/>
<circle cx="1239.2" cy="645.2" r="1.1" fill="#F8D232"/>
<circle cx="1156.2" cy="588.5" r="1.3" fill="#F8D232"/>
<circle cx="1216.4" cy="590.4" r="1.2" fill="#F8D232"/>
<circle cx="1146.4" cy="638.1" r="1.6" fill="#F8D232"/>
<circle cx="1205.6" cy="616.0" r="1.3" fill="#F8D232"/>
<circle cx="1201.2" cy="573.4" r="2.2" fill="#F8D232"/>
<circle cx="1186.6" cy="664.0" r="0.8" fill="#5CC8B0"/>
<circle cx="1203.7" cy="672.7" r="1.1" fill="#F5A030"/>
<circle cx="1211.0" cy="585.6" r="1.0" fill="#3A76B2"/>
<circle cx="1198.5" cy="576.0" r="2.2" fill="#F8D232"/>
<circle cx="1189.8" cy="624.9" r="1.2" fill="#F8D232"/>
<circle cx="1198.3" cy="585.0" r="1.1" fill="#F8D232"/>
<circle cx="1224.8" cy="568.0" r="1.6" fill="#F8D232"/>
<circle cx="1199.0" cy="690.8" r="2.6" fill="#F8D232"/>
<circle cx="1246.6" cy="681.7" r="2.6" fill="#3A76B2"/>
<circle cx="1179.5" cy="609.3" r="1.6" fill="#F8D232"/>
<circle cx="1162.5" cy="601.1" r="0.8" fill="#F8D232"/>
<circle cx="1190.5" cy="580.8" r="1.2" fill="#5CC8B0"/>
<circle cx="1212.6" cy="574.4" r="1.5" fill="#3A76B2"/>
<circle cx="1229.2" cy="595.0" r="1.0" fill="#F0705A"/>
<circle cx="1223.6" cy="665.4" r="1.3" fill="#F8D232"/>
<circle cx="1249.2" cy="622.2" r="1.5" fill="#3A76B2"/>
<circle cx="1188.0" cy="638.5" r="1.1" fill="#F0705A"/>
<circle cx="1202.9" cy="605.9" r="1.1" fill="#3A76B2"/>
<circle cx="1245.9" cy="674.3" r="1.0" fill="#3A76B2"/>
<circle cx="1216.0" cy="669.6" r="1.0" fill="#F8D232"/>
<circle cx="1204.5" cy="640.3" r="2.0" fill="#5CC8B0"/>
<circle cx="1178.9" cy="681.9" r="1.1" fill="#F8D232"/>
<circle cx="1163.9" cy="585.7" r="0.8" fill="#F8D232"/>
<circle cx="1210.8" cy="599.0" r="1.5" fill="#F0705A"/>
<circle cx="1194.4" cy="563.0" r="1.5" fill="#F8D232"/>
<circle cx="1159.3" cy="674.9" r="1.8" fill="#F8D232"/>
<circle cx="1181.7" cy="686.6" r="1.0" fill="#5CC8B0"/>
<circle cx="1223.0" cy="615.3" r="2.0" fill="#F8D232"/>
<circle cx="1153.7" cy="574.2" r="1.2" fill="#F8D232"/>
<circle cx="1172.1" cy="562.3" r="1.2" fill="#3A76B2"/>
<circle cx="1245.8" cy="621.5" r="1.1" fill="#5CC8B0"/>
<circle cx="1215.1" cy="667.0" r="1.5" fill="#F0705A"/>
<circle cx="1233.3" cy="655.1" r="1.0" fill="#F8D232"/>
<circle cx="1185.6" cy="637.7" r="1.2" fill="#3A76B2"/>
<circle cx="1141.8" cy="574.0" r="1.5" fill="#F8D232"/>
<circle cx="1182.7" cy="616.7" r="0.8" fill="#F8D232"/>
<circle cx="1225.6" cy="660.8" r="1.1" fill="#F0705A"/>
<circle cx="1193.2" cy="675.4" r="1.0" fill="#F0705A"/>
<circle cx="1150.0" cy="637.5" r="2.6" fill="#F5A030"/>
<circle cx="1244.7" cy="682.0" r="1.6" fill="#3A76B2"/>
<circle cx="1156.9" cy="614.8" r="1.6" fill="#F8D232"/>
<circle cx="1153.8" cy="635.5" r="1.6" fill="#F8D232"/>
<circle cx="1184.9" cy="684.9" r="1.2" fill="#F8D232"/>
<circle cx="1213.2" cy="621.4" r="2.6" fill="#F8D232"/>
<circle cx="1177.7" cy="591.0" r="1.8" fill="#F8D232"/>
<circle cx="1134.8" cy="616.9" r="1.6" fill="#F8D232"/>
<circle cx="1182.2" cy="661.8" r="1.8" fill="#F5A030"/>
<circle cx="1208.4" cy="583.3" r="2.2" fill="#F8D232"/>
<circle cx="1183.0" cy="685.4" r="1.5" fill="#F5A030"/>
<circle cx="1129.0" cy="627.5" r="0.8" fill="#F8D232"/>
<circle cx="1235.8" cy="659.8" r="1.6" fill="#F0705A"/>
<circle cx="1143.0" cy="598.3" r="2.2" fill="#F8D232"/>
<circle cx="1152.2" cy="577.8" r="1.8" fill="#F8D232"/>
<circle cx="1132.5" cy="634.4" r="1.2" fill="#F8D232"/>
<circle cx="1151.2" cy="624.7" r="2.6" fill="#F5A030"/>
<circle cx="1134.1" cy="649.5" r="2.2" fill="#F0705A"/>
<circle cx="1197.9" cy="587.9" r="1.0" fill="#F0705A"/>
<circle cx="1218.8" cy="589.8" r="0.8" fill="#E476C4"/>
<circle cx="1235.0" cy="659.8" r="0.8" fill="#3A76B2"/>
<circle cx="1215.6" cy="586.5" r="1.5" fill="#F8D232"/>
<circle cx="1195.1" cy="603.9" r="1.5" fill="#F8D232"/>
<circle cx="1233.9" cy="658.1" r="1.8" fill="#F8D232"/>
<circle cx="1205.4" cy="577.6" r="1.5" fill="#F8D232"/>
<circle cx="1182.0" cy="651.6" r="2.0" fill="#F5A030"/>
<circle cx="1211.7" cy="673.1" r="1.2" fill="#F0705A"/>
<circle cx="1197.1" cy="658.4" r="1.3" fill="#5CC8B0"/>
<circle cx="1181.4" cy="578.9" r="1.8" fill="#3A76B2"/>
<circle cx="1182.8" cy="643.0" r="1.3" fill="#F8D232"/>
<circle cx="1200.9" cy="684.5" r="2.0" fill="#3A76B2"/>
<circle cx="1167.0" cy="607.8" r="1.5" fill="#5CC8B0"/>
<circle cx="1170.9" cy="588.2" r="1.3" fill="#F8D232"/>
<circle cx="1241.8" cy="669.7" r="1.0" fill="#F8D232"/>
<circle cx="1238.0" cy="639.4" r="2.0" fill="#F8D232"/>
<circle cx="1198.8" cy="625.8" r="2.2" fill="#F8D232"/>
<circle cx="1225.1" cy="624.2" r="0.8" fill="#E476C4"/>
<circle cx="1181.9" cy="572.3" r="1.0" fill="#F8D232"/>
<circle cx="1194.9" cy="623.1" r="1.5" fill="#F0705A"/>
<circle cx="1195.3" cy="656.3" r="2.6" fill="#F8D232"/>
<circle cx="1192.8" cy="605.0" r="2.0" fill="#F8D232"/>
<circle cx="1212.9" cy="677.0" r="1.2" fill="#F0705A"/>
<circle cx="1172.0" cy="607.2" r="1.3" fill="#F0705A"/>
<circle cx="1194.9" cy="590.6" r="1.2" fill="#F8D232"/>
<circle cx="1161.7" cy="581.3" r="1.3" fill="#F0705A"/>
<circle cx="1168.8" cy="696.6" r="1.1" fill="#F5A030"/>
<circle cx="1172.7" cy="655.7" r="2.2" fill="#F0705A"/>
<circle cx="1164.0" cy="631.6" r="0.8" fill="#F8D232"/>
<circle cx="1227.3" cy="691.3" r="2.0" fill="#F0705A"/>
<circle cx="1187.0" cy="619.8" r="1.6" fill="#F8D232"/>
<circle cx="1167.2" cy="613.9" r="1.0" fill="#F0705A"/>
<circle cx="1188.7" cy="609.8" r="1.6" fill="#F8D232"/>
<circle cx="1234.7" cy="665.6" r="1.8" fill="#5CC8B0"/>
<circle cx="1185.2" cy="643.6" r="0.8" fill="#E476C4"/>
<circle cx="1228.7" cy="683.4" r="2.2" fill="#3A76B2"/>
<circle cx="1205.1" cy="562.4" r="1.2" fill="#F8D232"/>
<circle cx="1231.1" cy="643.7" r="1.0" fill="#F8D232"/>
<circle cx="1190.8" cy="646.1" r="0.8" fill="#F8D232"/>
<circle cx="1226.7" cy="605.6" r="2.2" fill="#3A76B2"/>
<circle cx="1206.3" cy="669.1" r="1.8" fill="#F8D232"/>
<circle cx="1181.7" cy="670.7" r="2.2" fill="#F8D232"/>
<circle cx="1222.6" cy="609.9" r="2.2" fill="#3A76B2"/>
<circle cx="1207.9" cy="580.2" r="0.8" fill="#F8D232"/>
<circle cx="1198.2" cy="671.2" r="1.1" fill="#F8D232"/>
<circle cx="1201.4" cy="589.6" r="2.2" fill="#F8D232"/>
<circle cx="1161.9" cy="635.6" r="1.8" fill="#F8D232"/>
<circle cx="1183.1" cy="632.4" r="2.0" fill="#F8D232"/>
<circle cx="1186.4" cy="647.5" r="1.3" fill="#F8D232"/>
<circle cx="1201.6" cy="650.4" r="1.3" fill="#F8D232"/>
<circle cx="1204.3" cy="629.3" r="2.6" fill="#F0705A"/>
<circle cx="1187.0" cy="600.7" r="1.5" fill="#F8D232"/>
<circle cx="1242.8" cy="682.2" r="1.0" fill="#F8D232"/>
<circle cx="1177.4" cy="592.8" r="1.2" fill="#F8D232"/>
<circle cx="1197.0" cy="632.6" r="2.0" fill="#F8D232"/>
<circle cx="1224.2" cy="617.6" r="2.0" fill="#F8D232"/>
<circle cx="1197.5" cy="603.6" r="2.0" fill="#F8D232"/>
<circle cx="1198.3" cy="664.8" r="1.2" fill="#F8D232"/>
<circle cx="1136.2" cy="583.8" r="1.8" fill="#F8D232"/>
<circle cx="1148.8" cy="644.4" r="1.3" fill="#F8D232"/>
<circle cx="1247.7" cy="649.3" r="1.1" fill="#F0705A"/>
<circle cx="1203.3" cy="621.7" r="1.3" fill="#5CC8B0"/>
<circle cx="1223.7" cy="622.8" r="1.0" fill="#F8D232"/>
<circle cx="1199.9" cy="566.8" r="1.6" fill="#F8D232"/>
<circle cx="1192.2" cy="684.6" r="1.8" fill="#F8D232"/>
<circle cx="1182.9" cy="647.5" r="1.1" fill="#F8D232"/>
<circle cx="1156.8" cy="593.2" r="1.5" fill="#F8D232"/>
<circle cx="1224.1" cy="665.3" r="1.6" fill="#F5A030"/>
<circle cx="1187.1" cy="684.6" r="1.6" fill="#F5A030"/>
<circle cx="1157.7" cy="663.2" r="1.5" fill="#F8D232"/>
<circle cx="1211.6" cy="659.6" r="1.1" fill="#5CC8B0"/>
<circle cx="1169.6" cy="610.9" r="0.8" fill="#F5A030"/>
<circle cx="1216.5" cy="620.3" r="1.0" fill="#F5A030"/>
<circle cx="1168.0" cy="613.0" r="1.3" fill="#F8D232"/>
<circle cx="1233.1" cy="638.1" r="2.6" fill="#5CC8B0"/>
<circle cx="1190.7" cy="630.0" r="1.5" fill="#F8D232"/>
<circle cx="1245.7" cy="634.8" r="1.3" fill="#F8D232"/>
<circle cx="1198.2" cy="605.6" r="0.8" fill="#F8D232"/>
<circle cx="1186.6" cy="570.8" r="2.0" fill="#5CC8B0"/>
<circle cx="1211.8" cy="690.4" r="1.5" fill="#F5A030"/>
<circle cx="1211.4" cy="664.3" r="1.2" fill="#5CC8B0"/>
<circle cx="1195.6" cy="603.4" r="1.2" fill="#3A76B2"/>
<circle cx="1213.1" cy="585.2" r="2.2" fill="#F8D232"/>
<circle cx="1245.6" cy="660.1" r="1.5" fill="#F8D232"/>
<circle cx="1164.8" cy="595.9" r="1.5" fill="#F8D232"/>
<circle cx="1185.7" cy="601.9" r="1.1" fill="#F5A030"/>
<circle cx="1134.4" cy="581.8" r="2.2" fill="#F8D232"/>
<circle cx="1181.7" cy="579.3" r="0.8" fill="#5CC8B0"/>
<circle cx="1158.0" cy="652.9" r="1.3" fill="#3A76B2"/>
<circle cx="1224.9" cy="600.5" r="2.6" fill="#F8D232"/>
<circle cx="1174.6" cy="655.4" r="1.1" fill="#5CC8B0"/>
<circle cx="1246.2" cy="621.5" r="1.1" fill="#F8D232"/>
<circle cx="1224.2" cy="613.7" r="1.6" fill="#F8D232"/>
<circle cx="1139.7" cy="613.9" r="2.6" fill="#F8D232"/>
<circle cx="1254.4" cy="675.5" r="1.1" fill="#F5A030"/>
<circle cx="1209.8" cy="663.7" r="1.3" fill="#F8D232"/>
<circle cx="1129.5" cy="612.5" r="0.8" fill="#E476C4"/>
<circle cx="1180.3" cy="625.6" r="1.6" fill="#5CC8B0"/>
<circle cx="1246.4" cy="655.0" r="1.5" fill="#F8D232"/>
<circle cx="1171.1" cy="578.8" r="1.6" fill="#3A76B2"/>
<circle cx="1169.3" cy="593.6" r="1.6" fill="#E476C4"/>
<circle cx="1198.0" cy="606.3" r="1.8" fill="#5CC8B0"/>
<circle cx="1236.5" cy="676.9" r="1.3" fill="#F8D232"/>
<circle cx="1167.2" cy="577.3" r="2.2" fill="#F8D232"/>
<circle cx="1218.2" cy="681.3" r="1.3" fill="#F0705A"/>
<circle cx="1224.3" cy="656.1" r="2.0" fill="#F0705A"/>
<circle cx="1211.6" cy="633.3" r="1.2" fill="#E476C4"/>
<circle cx="1200.8" cy="622.6" r="1.2" fill="#F0705A"/>
<circle cx="1169.7" cy="623.9" r="1.3" fill="#F8D232"/>
<circle cx="1145.5" cy="579.6" r="1.8" fill="#E476C4"/>
<circle cx="1205.6" cy="621.0" r="1.1" fill="#5CC8B0"/>
<circle cx="1192.8" cy="625.5" r="1.3" fill="#3A76B2"/>
<circle cx="1203.5" cy="650.9" r="0.8" fill="#F8D232"/>
<circle cx="1205.5" cy="650.1" r="1.8" fill="#F8D232"/>
<circle cx="1174.5" cy="645.2" r="2.6" fill="#5CC8B0"/>
<circle cx="1204.9" cy="593.2" r="1.6" fill="#E476C4"/>
<circle cx="1185.2" cy="583.1" r="2.2" fill="#F8D232"/>
<circle cx="1190.9" cy="649.4" r="1.5" fill="#3A76B2"/>
<circle cx="1165.4" cy="613.1" r="2.6" fill="#F8D232"/>
<circle cx="1213.3" cy="656.2" r="1.5" fill="#F8D232"/>
<circle cx="1212.2" cy="671.4" r="1.3" fill="#F8D232"/>
<circle cx="1201.7" cy="605.6" r="1.0" fill="#F8D232"/>
<circle cx="1194.3" cy="679.6" r="1.6" fill="#F8D232"/>
<circle cx="1213.7" cy="630.6" r="1.5" fill="#F8D232"/>
<circle cx="1159.6" cy="676.9" r="2.2" fill="#F8D232"/>
<circle cx="1247.8" cy="686.3" r="1.2" fill="#E476C4"/>
<circle cx="1195.2" cy="631.1" r="1.1" fill="#5CC8B0"/>
<circle cx="1218.6" cy="586.9" r="1.1" fill="#F5A030"/>
<circle cx="1203.3" cy="591.8" r="0.8" fill="#F8D232"/>
<circle cx="1187.6" cy="680.7" r="1.2" fill="#F0705A"/>
<circle cx="1168.9" cy="614.6" r="1.8" fill="#F8D232"/>
<circle cx="1157.8" cy="580.7" r="1.0" fill="#F0705A"/>
<circle cx="1181.2" cy="684.4" r="1.8" fill="#3A76B2"/>
<circle cx="1135.8" cy="640.0" r="1.6" fill="#F8D232"/>
<circle cx="1208.1" cy="616.8" r="2.0" fill="#F0705A"/>
<circle cx="1174.0" cy="655.7" r="2.2" fill="#F8D232"/>
<circle cx="1197.2" cy="657.4" r="2.0" fill="#3A76B2"/>
<circle cx="1213.5" cy="644.8" r="1.8" fill="#E476C4"/>
<circle cx="1197.8" cy="685.9" r="2.6" fill="#F8D232"/>
<circle cx="1199.0" cy="590.1" r="1.3" fill="#F8D232"/>
<circle cx="1179.3" cy="578.8" r="1.8" fill="#5CC8B0"/>
<circle cx="1182.4" cy="672.3" r="1.6" fill="#F8D232"/>
<circle cx="1199.1" cy="673.9" r="2.0" fill="#F8D232"/>
<circle cx="1248.9" cy="639.4" r="1.2" fill="#3A76B2"/>
<circle cx="1200.7" cy="691.4" r="1.0" fill="#E476C4"/>
<circle cx="1188.3" cy="589.1" r="1.5" fill="#F8D232"/>
<circle cx="1169.0" cy="676.4" r="1.2" fill="#E476C4"/>
<circle cx="1225.2" cy="685.0" r="2.2" fill="#5CC8B0"/>
<circle cx="1230.4" cy="635.9" r="1.0" fill="#F8D232"/>
<circle cx="1194.7" cy="562.2" r="1.2" fill="#3A76B2"/>
<circle cx="1242.9" cy="622.6" r="1.6" fill="#E476C4"/>
<circle cx="1198.3" cy="699.4" r="2.2" fill="#F8D232"/>
<circle cx="1233.3" cy="672.1" r="1.1" fill="#F8D232"/>
<circle cx="1200.3" cy="677.4" r="1.3" fill="#F8D232"/>
<circle cx="1178.4" cy="568.8" r="1.2" fill="#F8D232"/>
<circle cx="1235.9" cy="700.4" r="1.6" fill="#F5A030"/>
<circle cx="1218.0" cy="673.3" r="1.3" fill="#F8D232"/>
<circle cx="1215.7" cy="641.6" r="2.0" fill="#F8D232"/>
<circle cx="1178.7" cy="684.1" r="2.0" fill="#F8D232"/>
<circle cx="1195.5" cy="602.3" r="1.3" fill="#F8D232"/>
<circle cx="1188.3" cy="673.5" r="1.2" fill="#F8D232"/>
<circle cx="1232.9" cy="638.3" r="1.8" fill="#F8D232"/>
<circle cx="1206.9" cy="608.7" r="2.6" fill="#F8D232"/>
<circle cx="1179.3" cy="603.5" r="1.1" fill="#F8D232"/>
<circle cx="1172.1" cy="617.9" r="1.6" fill="#5CC8B0"/>
<circle cx="1165.9" cy="642.2" r="2.2" fill="#5CC8B0"/>
<circle cx="1170.1" cy="608.8" r="0.8" fill="#5CC8B0"/>
<circle cx="1209.2" cy="648.7" r="2.6" fill="#3A76B2"/>
<circle cx="1181.5" cy="578.4" r="1.1" fill="#3A76B2"/>
<circle cx="1174.1" cy="635.4" r="2.6" fill="#F8D232"/>
<circle cx="1222.5" cy="609.6" r="1.2" fill="#F8D232"/>
<circle cx="1216.6" cy="563.8" r="1.0" fill="#F0705A"/>
<circle cx="1158.2" cy="636.3" r="2.2" fill="#F8D232"/>
<circle cx="1237.2" cy="672.0" r="1.1" fill="#F8D232"/>
<circle cx="1248.2" cy="628.8" r="2.6" fill="#F8D232"/>
<circle cx="1226.3" cy="603.4" r="1.3" fill="#5CC8B0"/>
<circle cx="1231.0" cy="608.0" r="1.6" fill="#F5A030"/>
<circle cx="1191.7" cy="635.4" r="1.5" fill="#F8D232"/>
<circle cx="1192.2" cy="626.0" r="1.0" fill="#F8D232"/>
<circle cx="1216.5" cy="692.0" r="1.5" fill="#F8D232"/>
<circle cx="1239.5" cy="591.9" r="1.6" fill="#F8D232"/>
<circle cx="1245.2" cy="635.8" r="1.0" fill="#F8D232"/>
<circle cx="1196.5" cy="636.7" r="1.0" fill="#5CC8B0"/>
<circle cx="1168.4" cy="587.3" r="1.1" fill="#F0705A"/>
<circle cx="1200.7" cy="644.2" r="1.0" fill="#F0705A"/>
<circle cx="1220.9" cy="643.2" r="1.6" fill="#5CC8B0"/>
<circle cx="1210.9" cy="679.5" r="0.8" fill="#F8D232"/>
<circle cx="1125.1" cy="644.4" r="0.8" fill="#F0705A"/>
<circle cx="1204.9" cy="646.6" r="1.2" fill="#F8D232"/>
<circle cx="1253.8" cy="655.2" r="2.6" fill="#F8D232"/>
<circle cx="1164.0" cy="561.4" r="1.0" fill="#F5A030"/>
<circle cx="1194.7" cy="645.9" r="2.2" fill="#F8D232"/>
<circle cx="1181.5" cy="665.1" r="1.5" fill="#F8D232"/>
<circle cx="1220.1" cy="610.0" r="1.0" fill="#F8D232"/>
<circle cx="1219.5" cy="694.6" r="1.6" fill="#F0705A"/>
<circle cx="1176.7" cy="586.1" r="1.5" fill="#3A76B2"/>
<circle cx="1159.8" cy="697.0" r="0.8" fill="#F8D232"/>
<circle cx="1236.6" cy="617.9" r="1.2" fill="#F8D232"/>
<circle cx="1234.9" cy="650.0" r="1.5" fill="#F0705A"/>
<circle cx="1201.3" cy="583.0" r="1.1" fill="#F8D232"/>
<circle cx="1254.9" cy="631.3" r="1.5" fill="#F8D232"/>
<circle cx="1202.6" cy="589.3" r="1.5" fill="#F8D232"/>
<circle cx="1189.7" cy="644.8" r="1.2" fill="#F8D232"/>
<circle cx="1177.6" cy="655.3" r="2.6" fill="#5CC8B0"/>
<circle cx="1212.3" cy="682.0" r="0.8" fill="#F8D232"/>
<circle cx="1184.4" cy="614.5" r="1.8" fill="#F0705A"/>
<circle cx="1179.1" cy="642.5" r="1.0" fill="#3A76B2"/>
<circle cx="1254.6" cy="677.2" r="1.8" fill="#F8D232"/>
<circle cx="1218.4" cy="606.0" r="1.8" fill="#5CC8B0"/>
<circle cx="1202.8" cy="656.4" r="1.5" fill="#F8D232"/>
<circle cx="1179.2" cy="607.6" r="1.0" fill="#F0705A"/>
<circle cx="1148.9" cy="602.4" r="1.0" fill="#3A76B2"/>
<circle cx="1136.5" cy="643.0" r="1.3" fill="#F8D232"/>
<circle cx="1184.0" cy="634.9" r="1.6" fill="#F8D232"/>
<circle cx="1200.1" cy="570.3" r="1.6" fill="#F8D232"/>
<circle cx="1248.9" cy="629.4" r="2.0" fill="#F8D232"/>
<circle cx="1212.9" cy="596.8" r="1.5" fill="#F8D232"/>
<circle cx="1226.9" cy="585.4" r="2.0" fill="#F8D232"/>
<circle cx="1147.8" cy="605.1" r="2.2" fill="#F8D232"/>
<circle cx="1223.4" cy="680.7" r="1.6" fill="#3A76B2"/>
<circle cx="1195.7" cy="655.3" r="1.6" fill="#F8D232"/>
<circle cx="1171.7" cy="620.4" r="1.0" fill="#F8D232"/>
<circle cx="1187.1" cy="588.3" r="2.2" fill="#F8D232"/>
<circle cx="1167.4" cy="643.2" r="1.1" fill="#F8D232"/>
<circle cx="1182.9" cy="595.3" r="1.3" fill="#F8D232"/>
<circle cx="1169.5" cy="679.0" r="1.5" fill="#F8D232"/>
<circle cx="1190.2" cy="587.9" r="1.1" fill="#F8D232"/>
<circle cx="1220.9" cy="670.7" r="1.0" fill="#F0705A"/>
<circle cx="1250.0" cy="678.5" r="1.1" fill="#F8D232"/>
<circle cx="1178.3" cy="650.2" r="1.3" fill="#E476C4"/>
<circle cx="1242.0" cy="615.7" r="1.5" fill="#F8D232"/>
<circle cx="1128.6" cy="698.7" r="1.3" fill="#F8D232"/>
<circle cx="1180.2" cy="661.1" r="0.8" fill="#F8D232"/>
<circle cx="1195.2" cy="661.3" r="2.0" fill="#F8D232"/>
<circle cx="1160.4" cy="680.1" r="1.1" fill="#F0705A"/>
<circle cx="1235.4" cy="615.6" r="1.1" fill="#F0705A"/>
<circle cx="1155.3" cy="626.1" r="1.3" fill="#5CC8B0"/>
<circle cx="1139.1" cy="658.3" r="1.5" fill="#F8D232"/>
<circle cx="1154.8" cy="609.6" r="1.5" fill="#3A76B2"/>
<circle cx="1179.9" cy="598.7" r="2.0" fill="#F5A030"/>
<circle cx="1195.2" cy="663.4" r="2.0" fill="#F8D232"/>
<circle cx="1140.0" cy="686.0" r="2.6" fill="#F5A030"/>
<circle cx="1189.1" cy="596.8" r="1.0" fill="#F5A030"/>
<circle cx="1210.7" cy="674.0" r="1.5" fill="#F8D232"/>
<circle cx="1247.9" cy="621.0" r="2.0" fill="#5CC8B0"/>
<circle cx="1191.0" cy="625.0" r="2.6" fill="#F8D232"/>
<circle cx="1176.8" cy="675.5" r="1.2" fill="#F8D232"/>
<circle cx="1228.8" cy="681.9" r="2.0" fill="#F8D232"/>
<circle cx="1234.1" cy="680.2" r="1.1" fill="#F0705A"/>
<circle cx="1192.4" cy="580.4" r="2.2" fill="#F8D232"/>
<circle cx="1178.6" cy="561.0" r="1.5" fill="#F5A030"/>
<circle cx="1219.3" cy="569.9" r="1.0" fill="#F8D232"/>
<circle cx="1226.5" cy="659.5" r="0.8" fill="#F8D232"/>
<circle cx="1214.1" cy="643.1" r="2.2" fill="#F0705A"/>
<circle cx="1207.0" cy="593.4" r="1.0" fill="#3A76B2"/>
<circle cx="1207.5" cy="563.9" r="1.5" fill="#F8D232"/>
<circle cx="1149.9" cy="670.6" r="0.8" fill="#F8D232"/>
<circle cx="1241.6" cy="618.9" r="1.5" fill="#F8D232"/>
<circle cx="1167.4" cy="628.0" r="1.6" fill="#F5A030"/>
<circle cx="1249.2" cy="676.8" r="1.3" fill="#F8D232"/>
<circle cx="1213.8" cy="637.9" r="2.6" fill="#F8D232"/>
<circle cx="1179.9" cy="664.8" r="1.1" fill="#F5A030"/>
<circle cx="1200.6" cy="657.7" r="2.0" fill="#F8D232"/>
<circle cx="1196.2" cy="655.1" r="2.0" fill="#5CC8B0"/>
<circle cx="1160.6" cy="688.5" r="1.8" fill="#F8D232"/>
<circle cx="1117.7" cy="670.8" r="1.5" fill="#F8D232"/>
<circle cx="1204.2" cy="607.0" r="1.3" fill="#F8D232"/>
<circle cx="1202.8" cy="632.0" r="1.1" fill="#F8D232"/>
<circle cx="1240.0" cy="681.6" r="0.8" fill="#3A76B2"/>
<circle cx="1242.6" cy="674.4" r="2.6" fill="#F5A030"/>
<circle cx="1238.8" cy="637.5" r="1.0" fill="#F8D232"/>
<circle cx="1226.1" cy="571.2" r="1.0" fill="#3A76B2"/>
<circle cx="1239.0" cy="675.8" r="2.2" fill="#F0705A"/>
<circle cx="1229.5" cy="639.1" r="1.3" fill="#5CC8B0"/>
<circle cx="1216.5" cy="657.9" r="2.6" fill="#3A76B2"/>
<circle cx="1214.5" cy="630.5" r="1.3" fill="#F0705A"/>
<circle cx="1224.8" cy="633.3" r="2.2" fill="#F5A030"/>
<circle cx="1146.1" cy="636.7" r="1.2" fill="#F8D232"/>
<circle cx="1169.6" cy="680.8" r="2.6" fill="#F8D232"/>
<circle cx="1174.5" cy="678.6" r="1.2" fill="#F8D232"/>
<circle cx="1218.4" cy="565.9" r="1.0" fill="#F0705A"/>
<circle cx="1204.7" cy="635.9" r="0.8" fill="#F8D232"/>
<circle cx="1240.1" cy="678.1" r="2.0" fill="#5CC8B0"/>
<circle cx="1197.0" cy="649.4" r="2.2" fill="#F8D232"/>
<circle cx="1199.5" cy="596.7" r="2.2" fill="#F0705A"/>
<circle cx="1217.5" cy="642.7" r="1.8" fill="#F0705A"/>
<circle cx="1244.4" cy="665.4" r="2.2" fill="#3A76B2"/>
<circle cx="1173.6" cy="581.2" r="1.1" fill="#F5A030"/>
<circle cx="1127.3" cy="635.5" r="1.5" fill="#3A76B2"/>
<circle cx="1177.8" cy="668.4" r="1.1" fill="#F0705A"/>
<circle cx="1164.9" cy="602.5" r="0.8" fill="#F0705A"/>
<circle cx="1244.9" cy="652.6" r="1.8" fill="#F0705A"/>
<circle cx="1205.5" cy="596.4" r="2.6" fill="#3A76B2"/>
<circle cx="1150.6" cy="631.5" r="2.2" fill="#F8D232"/>
<circle cx="1175.7" cy="582.1" r="2.6" fill="#F8D232"/>
<circle cx="1193.7" cy="633.6" r="0.8" fill="#F0705A"/>
<circle cx="1191.8" cy="662.0" r="1.2" fill="#5CC8B0"/>
<circle cx="1200.4" cy="619.3" r="0.8" fill="#F8D232"/>
<circle cx="1239.8" cy="665.6" r="2.0" fill="#F8D232"/>
<circle cx="1203.4" cy="580.3" r="2.0" fill="#3A76B2"/>
<circle cx="1227.9" cy="653.2" r="1.2" fill="#F8D232"/>
<circle cx="1164.2" cy="604.3" r="1.1" fill="#3A76B2"/>
<circle cx="1201.5" cy="604.9" r="1.3" fill="#5CC8B0"/>
<circle cx="1194.5" cy="587.3" r="1.3" fill="#5CC8B0"/>
<circle cx="1170.4" cy="600.8" r="0.8" fill="#F8D232"/>
<circle cx="1161.4" cy="566.7" r="1.6" fill="#3A76B2"/>
<circle cx="1150.9" cy="570.0" r="2.6" fill="#F8D232"/>
<circle cx="1207.8" cy="679.0" r="1.3" fill="#F8D232"/>
<circle cx="1237.1" cy="675.3" r="1.3" fill="#3A76B2"/>
<circle cx="1168.9" cy="562.6" r="1.6" fill="#F8D232"/>
<circle cx="1176.5" cy="593.1" r="0.8" fill="#5CC8B0"/>
<circle cx="1242.0" cy="621.3" r="1.6" fill="#F8D232"/>
<circle cx="1173.8" cy="601.2" r="1.1" fill="#F8D232"/>
<circle cx="1222.9" cy="631.0" r="1.0" fill="#F0705A"/>
<circle cx="1188.3" cy="603.6" r="1.5" fill="#F8D232"/>
<circle cx="1196.2" cy="635.7" r="1.0" fill="#F8D232"/>
<circle cx="1196.2" cy="654.9" r="0.8" fill="#F5A030"/>
<circle cx="1251.0" cy="660.6" r="0.8" fill="#E476C4"/>
<circle cx="1189.4" cy="654.5" r="2.0" fill="#F8D232"/>
<circle cx="1195.8" cy="561.6" r="2.0" fill="#F8D232"/>
<circle cx="1212.7" cy="666.3" r="2.2" fill="#F8D232"/>
<circle cx="1170.7" cy="650.2" r="1.5" fill="#F8D232"/>
<circle cx="1219.0" cy="659.8" r="2.6" fill="#5CC8B0"/>
<circle cx="1213.7" cy="626.6" r="1.0" fill="#5CC8B0"/>
<circle cx="1177.3" cy="640.5" r="2.6" fill="#F0705A"/>
<circle cx="1129.9" cy="571.1" r="2.2" fill="#F5A030"/>
<circle cx="1239.0" cy="625.2" r="0.8" fill="#F8D232"/>
<circle cx="1193.5" cy="614.8" r="1.3" fill="#F8D232"/>
<circle cx="1118.8" cy="590.5" r="2.6" fill="#F8D232"/>
<circle cx="1195.5" cy="674.2" r="0.8" fill="#F8D232"/>
<circle cx="1235.0" cy="623.9" r="1.1" fill="#F0705A"/>
<circle cx="1181.9" cy="561.1" r="1.2" fill="#5CC8B0"/>
<circle cx="1170.5" cy="644.7" r="0.8" fill="#F0705A"/>
<circle cx="1169.7" cy="689.3" r="2.2" fill="#F8D232"/>
<circle cx="1212.3" cy="634.7" r="1.8" fill="#F8D232"/>
<circle cx="1195.5" cy="614.2" r="1.2" fill="#F8D232"/>
<circle cx="1140.4" cy="581.3" r="2.6" fill="#F8D232"/>
<circle cx="1214.7" cy="684.6" r="1.2" fill="#F8D232"/>
<circle cx="1178.6" cy="583.7" r="1.2" fill="#3A76B2"/>
<circle cx="1161.6" cy="665.2" r="1.3" fill="#5CC8B0"/>
<circle cx="1175.2" cy="638.3" r="1.5" fill="#F8D232"/>
<circle cx="1235.4" cy="671.8" r="1.3" fill="#F8D232"/>
<circle cx="1241.7" cy="613.8" r="2.0" fill="#F0705A"/>
<circle cx="1229.5" cy="637.4" r="2.0" fill="#F8D232"/>
<circle cx="1189.8" cy="563.8" r="1.3" fill="#3A76B2"/>
<circle cx="1173.0" cy="669.3" r="2.2" fill="#F0705A"/>
<circle cx="1174.8" cy="609.0" r="1.2" fill="#3A76B2"/>
<circle cx="1162.4" cy="616.8" r="2.2" fill="#F8D232"/>
<circle cx="1246.6" cy="642.8" r="1.3" fill="#3A76B2"/>
<circle cx="1152.6" cy="596.1" r="1.2" fill="#F8D232"/>
<circle cx="1203.1" cy="583.4" r="2.2" fill="#F8D232"/>
<circle cx="1168.2" cy="634.1" r="2.6" fill="#F8D232"/>
<circle cx="1182.3" cy="682.3" r="1.5" fill="#5CC8B0"/>
<circle cx="1180.4" cy="587.3" r="1.5" fill="#3A76B2"/>
<circle cx="1196.7" cy="627.0" r="1.1" fill="#F8D232"/>
<circle cx="1194.7" cy="571.4" r="1.6" fill="#F5A030"/>
<circle cx="1153.3" cy="606.2" r="0.8" fill="#F8D232"/>
<circle cx="1175.9" cy="621.2" r="1.5" fill="#E476C4"/>
<circle cx="1204.7" cy="640.5" r="1.1" fill="#F0705A"/>
<circle cx="1193.1" cy="604.2" r="1.6" fill="#5CC8B0"/>
<circle cx="1218.7" cy="602.0" r="2.0" fill="#F8D232"/>
<circle cx="1238.4" cy="648.7" r="1.1" fill="#3A76B2"/>
<circle cx="1142.4" cy="590.3" r="1.2" fill="#F0705A"/>
<circle cx="1162.1" cy="676.4" r="1.0" fill="#F8D232"/>
<circle cx="1215.7" cy="611.7" r="0.8" fill="#F8D232"/>
<circle cx="1195.2" cy="603.4" r="1.3" fill="#F8D232"/>
<circle cx="1198.9" cy="580.3" r="1.5" fill="#3A76B2"/>
<circle cx="1139.7" cy="572.1" r="2.0" fill="#F8D232"/>
<circle cx="1185.8" cy="562.3" r="1.5" fill="#F8D232"/>
<circle cx="1212.6" cy="590.4" r="1.1" fill="#F5A030"/>
<circle cx="1176.6" cy="651.4" r="1.2" fill="#3A76B2"/>
<circle cx="1160.7" cy="592.9" r="0.8" fill="#F8D232"/>
<circle cx="1241.7" cy="600.2" r="2.6" fill="#F8D232"/>
<circle cx="1212.2" cy="624.9" r="1.0" fill="#F0705A"/>
<circle cx="1155.3" cy="655.8" r="2.0" fill="#F8D232"/>
<circle cx="1153.4" cy="579.9" r="1.0" fill="#F8D232"/>
<circle cx="1240.9" cy="642.6" r="0.8" fill="#F0705A"/>
<circle cx="1166.6" cy="607.4" r="1.5" fill="#3A76B2"/>
<circle cx="1182.5" cy="666.3" r="1.3" fill="#F8D232"/>
<circle cx="1237.5" cy="659.3" r="1.1" fill="#F8D232"/>
<circle cx="1208.9" cy="663.6" r="1.0" fill="#F8D232"/>
<circle cx="1169.3" cy="635.4" r="2.2" fill="#F5A030"/>
<circle cx="1185.8" cy="588.7" r="2.0" fill="#F8D232"/>
<circle cx="1220.0" cy="667.1" r="1.8" fill="#F8D232"/>
<circle cx="1167.1" cy="626.9" r="1.2" fill="#F8D232"/>
<circle cx="1195.4" cy="661.3" r="0.8" fill="#F0705A"/>
<circle cx="1227.0" cy="614.0" r="1.2" fill="#F8D232"/>
<circle cx="1241.5" cy="649.7" r="1.5" fill="#F8D232"/>
<circle cx="1169.3" cy="596.5" r="1.6" fill="#F8D232"/>
<circle cx="1204.7" cy="630.8" r="1.2" fill="#3A76B2"/>
<circle cx="1249.1" cy="666.7" r="1.3" fill="#F8D232"/>
<circle cx="1243.8" cy="651.2" r="1.1" fill="#F8D232"/>
<circle cx="1176.2" cy="588.9" r="1.0" fill="#3A76B2"/>
<circle cx="1190.2" cy="618.1" r="0.8" fill="#F0705A"/>
<circle cx="1213.2" cy="619.4" r="2.6" fill="#F5A030"/>
<circle cx="1232.3" cy="631.1" r="2.6" fill="#F5A030"/>
<circle cx="1173.1" cy="624.9" r="0.8" fill="#F0705A"/>
<circle cx="1253.3" cy="699.8" r="2.2" fill="#F5A030"/>
<circle cx="1214.7" cy="691.3" r="1.0" fill="#F0705A"/>
<circle cx="1215.6" cy="675.0" r="1.5" fill="#F8D232"/>
<circle cx="1190.2" cy="696.7" r="1.2" fill="#F8D232"/>
<circle cx="1189.1" cy="612.1" r="1.5" fill="#F0705A"/>
<circle cx="1115.8" cy="588.0" r="1.1" fill="#F5A030"/>
<circle cx="1207.1" cy="656.5" r="2.2" fill="#3A76B2"/>
<circle cx="1207.3" cy="658.7" r="2.6" fill="#F5A030"/>
<circle cx="1201.6" cy="666.0" r="0.8" fill="#F8D232"/>
<circle cx="1185.2" cy="667.7" r="1.2" fill="#F8D232"/>
<circle cx="1212.5" cy="606.4" r="1.3" fill="#F8D232"/>
<circle cx="1192.3" cy="569.5" r="2.6" fill="#F8D232"/>
<circle cx="1168.8" cy="607.1" r="1.8" fill="#3A76B2"/>
<circle cx="1214.1" cy="618.6" r="1.5" fill="#F8D232"/>
<circle cx="1231.4" cy="655.0" r="1.1" fill="#F5A030"/>
<circle cx="1245.2" cy="672.8" r="2.6" fill="#F8D232"/>
<circle cx="1165.7" cy="593.5" r="0.8" fill="#F8D232"/>
<circle cx="1202.1" cy="690.5" r="1.2" fill="#F8D232"/>
<circle cx="1207.7" cy="647.4" r="1.1" fill="#F8D232"/>
<circle cx="1225.8" cy="594.2" r="0.8" fill="#3A76B2"/>
<circle cx="1228.5" cy="652.1" r="0.8" fill="#F0705A"/>
<circle cx="1218.1" cy="667.5" r="1.1" fill="#F0705A"/>
<circle cx="1214.0" cy="616.7" r="0.8" fill="#F5A030"/>
<circle cx="1197.7" cy="618.0" r="1.6" fill="#F8D232"/>
<circle cx="1229.7" cy="673.3" r="1.1" fill="#F0705A"/>
<circle cx="1147.9" cy="648.2" r="1.0" fill="#3A76B2"/>
<circle cx="1192.1" cy="646.8" r="1.2" fill="#F0705A"/>
<circle cx="1189.3" cy="587.8" r="1.6" fill="#F5A030"/>
<circle cx="1155.6" cy="576.3" r="1.1" fill="#F5A030"/>
<circle cx="1191.4" cy="678.9" r="1.5" fill="#5CC8B0"/>
<circle cx="1236.4" cy="659.7" r="1.0" fill="#F8D232"/>
<circle cx="1211.1" cy="602.9" r="1.5" fill="#F8D232"/>
<circle cx="1179.0" cy="593.6" r="1.0" fill="#F8D232"/>
<circle cx="1211.8" cy="597.1" r="2.2" fill="#F0705A"/>
<circle cx="1160.2" cy="574.9" r="1.2" fill="#F5A030"/>
<circle cx="1137.7" cy="583.2" r="1.6" fill="#F8D232"/>
<circle cx="1125.3" cy="631.5" r="2.6" fill="#F8D232"/>
<circle cx="1174.2" cy="615.9" r="1.8" fill="#F8D232"/>
<circle cx="1198.0" cy="607.3" r="2.0" fill="#F8D232"/>
<circle cx="1185.0" cy="603.7" r="1.3" fill="#F8D232"/>
<circle cx="1178.7" cy="673.5" r="0.8" fill="#F8D232"/>
<circle cx="1180.8" cy="604.5" r="2.6" fill="#F0705A"/>
<circle cx="1254.8" cy="662.7" r="1.2" fill="#F8D232"/>
<circle cx="1185.3" cy="588.5" r="1.8" fill="#F8D232"/>
<circle cx="1219.2" cy="580.7" r="1.6" fill="#F8D232"/>
<circle cx="1192.5" cy="667.5" r="1.8" fill="#3A76B2"/>
<circle cx="1140.4" cy="625.6" r="1.2" fill="#3A76B2"/>
<circle cx="1158.6" cy="683.8" r="2.6" fill="#F0705A"/>
<circle cx="1194.8" cy="696.6" r="2.6" fill="#F0705A"/>
<circle cx="1214.1" cy="650.9" r="1.5" fill="#F0705A"/>
<circle cx="1248.9" cy="687.7" r="2.0" fill="#3A76B2"/>
<circle cx="1208.1" cy="637.3" r="1.0" fill="#5CC8B0"/>
<circle cx="1163.6" cy="618.8" r="1.1" fill="#5CC8B0"/>
<circle cx="1229.6" cy="626.6" r="1.5" fill="#5CC8B0"/>
<circle cx="1167.9" cy="609.9" r="1.2" fill="#F0705A"/>
<circle cx="1212.2" cy="579.8" r="1.5" fill="#3A76B2"/>
<circle cx="1212.7" cy="661.1" r="0.8" fill="#F8D232"/>
<circle cx="1151.7" cy="639.3" r="1.8" fill="#5CC8B0"/>
<circle cx="1153.4" cy="616.7" r="1.1" fill="#F8D232"/>
<circle cx="1200.3" cy="650.8" r="1.0" fill="#F8D232"/>
<circle cx="1189.1" cy="561.8" r="1.3" fill="#F8D232"/>
<circle cx="1174.0" cy="645.9" r="1.8" fill="#F5A030"/>
<circle cx="1149.1" cy="684.9" r="2.0" fill="#3A76B2"/>
<circle cx="1182.9" cy="641.8" r="1.1" fill="#F0705A"/>
<circle cx="1190.7" cy="638.8" r="1.2" fill="#F5A030"/>
<circle cx="1222.2" cy="598.8" r="1.1" fill="#F8D232"/>
<circle cx="1211.2" cy="633.4" r="1.0" fill="#F5A030"/>
<circle cx="1209.6" cy="621.6" r="1.5" fill="#F8D232"/>
<circle cx="1191.0" cy="638.6" r="1.5" fill="#F5A030"/>
<circle cx="1184.3" cy="602.1" r="1.0" fill="#F8D232"/>
<circle cx="1210.7" cy="635.2" r="1.2" fill="#F5A030"/>
<circle cx="1205.4" cy="584.7" r="1.3" fill="#F8D232"/>
<circle cx="1217.9" cy="567.7" r="1.6" fill="#F8D232"/>
<circle cx="1187.3" cy="574.1" r="2.0" fill="#F8D232"/>
<circle cx="1188.0" cy="628.9" r="1.3" fill="#F0705A"/>
<circle cx="1177.9" cy="666.4" r="1.3" fill="#F8D232"/>
<circle cx="1179.7" cy="594.4" r="1.6" fill="#F8D232"/>
<circle cx="1208.4" cy="579.0" r="2.0" fill="#F8D232"/>
<circle cx="1137.4" cy="585.0" r="1.5" fill="#F8D232"/>
<circle cx="1194.7" cy="616.0" r="2.0" fill="#F8D232"/>
<circle cx="1209.2" cy="615.0" r="2.2" fill="#3A76B2"/>
<circle cx="1195.6" cy="589.6" r="1.5" fill="#F8D232"/>
<circle cx="1148.2" cy="573.0" r="1.3" fill="#F8D232"/>
<circle cx="1163.0" cy="651.8" r="2.6" fill="#5CC8B0"/>
<circle cx="1200.8" cy="661.0" r="2.2" fill="#F8D232"/>
<circle cx="1202.0" cy="687.4" r="1.3" fill="#F5A030"/>
<circle cx="1159.8" cy="618.1" r="2.0" fill="#E476C4"/>
<circle cx="1207.7" cy="665.6" r="1.5" fill="#F5A030"/>
<circle cx="1166.7" cy="602.9" r="1.3" fill="#F5A030"/>
<circle cx="1193.7" cy="570.0" r="2.2" fill="#F8D232"/>
<circle cx="1160.2" cy="588.3" r="1.2" fill="#F8D232"/>
<circle cx="1201.9" cy="699.9" r="1.2" fill="#F0705A"/>
<circle cx="1206.6" cy="637.6" r="1.5" fill="#F0705A"/>
<circle cx="1167.2" cy="656.6" r="1.1" fill="#F8D232"/>
<circle cx="1199.0" cy="650.8" r="2.6" fill="#F5A030"/>
<circle cx="1239.7" cy="620.5" r="2.0" fill="#F8D232"/>
<circle cx="1237.5" cy="609.0" r="1.1" fill="#F8D232"/>
<circle cx="1177.4" cy="610.4" r="1.5" fill="#F8D232"/>
<circle cx="1215.6" cy="607.1" r="2.0" fill="#F8D232"/>
<circle cx="1225.4" cy="596.5" r="2.2" fill="#F5A030"/>
<circle cx="1211.3" cy="621.2" r="1.1" fill="#F8D232"/>
<circle cx="1127.2" cy="596.4" r="1.3" fill="#5CC8B0"/>
<circle cx="1224.4" cy="685.5" r="2.6" fill="#F0705A"/>
<circle cx="1204.9" cy="591.7" r="1.5" fill="#F8D232"/>
<circle cx="1231.4" cy="588.2" r="1.2" fill="#F8D232"/>
<circle cx="1145.9" cy="593.1" r="2.0" fill="#F8D232"/>
<circle cx="1165.2" cy="609.2" r="0.8" fill="#F8D232"/>
<circle cx="1198.8" cy="665.3" r="1.2" fill="#F8D232"/>
<circle cx="1181.1" cy="621.6" r="1.8" fill="#F8D232"/>
<circle cx="1196.8" cy="648.0" r="2.6" fill="#F8D232"/>
<circle cx="1207.3" cy="563.7" r="1.2" fill="#F5A030"/>
<circle cx="1245.4" cy="610.4" r="1.6" fill="#F8D232"/>
<circle cx="1154.4" cy="634.7" r="1.5" fill="#F8D232"/>
<circle cx="1197.3" cy="688.7" r="1.8" fill="#F8D232"/>
<circle cx="1199.9" cy="591.9" r="1.5" fill="#E476C4"/>
<circle cx="1142.7" cy="564.5" r="2.0" fill="#F8D232"/>
<circle cx="1196.2" cy="647.0" r="1.6" fill="#F8D232"/>
<circle cx="1199.3" cy="607.2" r="1.5" fill="#F8D232"/>
<circle cx="1240.5" cy="682.2" r="2.2" fill="#F0705A"/>
<circle cx="1209.3" cy="647.7" r="1.2" fill="#F8D232"/>
<circle cx="1223.2" cy="675.3" r="1.0" fill="#5CC8B0"/>
<circle cx="1180.0" cy="673.4" r="1.3" fill="#F8D232"/>
<circle cx="1203.3" cy="692.5" r="1.5" fill="#F8D232"/>
<circle cx="1238.4" cy="673.3" r="1.0" fill="#5CC8B0"/>
<circle cx="1210.7" cy="636.8" r="1.5" fill="#F0705A"/>
<circle cx="1200.2" cy="672.8" r="2.0" fill="#F5A030"/>
<circle cx="1192.1" cy="696.8" r="1.0" fill="#F8D232"/>
<circle cx="1210.7" cy="585.9" r="1.5" fill="#3A76B2"/>
<circle cx="1211.4" cy="639.8" r="0.8" fill="#F8D232"/>
<circle cx="1200.9" cy="658.2" r="2.0" fill="#F5A030"/>
<circle cx="1233.6" cy="660.5" r="2.6" fill="#F8D232"/>
<circle cx="1163.7" cy="613.7" r="1.3" fill="#F8D232"/>
<circle cx="1214.4" cy="679.4" r="0.8" fill="#F0705A"/>
<circle cx="1192.4" cy="638.9" r="2.0" fill="#F8D232"/>
<circle cx="1191.7" cy="609.3" r="1.6" fill="#F8D232"/>
<circle cx="1128.3" cy="595.6" r="1.1" fill="#5CC8B0"/>
<circle cx="1191.0" cy="606.5" r="2.0" fill="#F8D232"/>
<circle cx="1206.2" cy="575.0" r="2.2" fill="#F5A030"/>
<circle cx="1161.2" cy="625.8" r="0.8" fill="#F0705A"/>
<circle cx="1197.5" cy="617.0" r="2.2" fill="#F0705A"/>
<circle cx="1208.9" cy="663.5" r="1.8" fill="#F5A030"/>
<circle cx="1168.4" cy="685.7" r="1.5" fill="#F8D232"/>
<circle cx="1159.6" cy="669.9" r="1.3" fill="#3A76B2"/>
<circle cx="1150.2" cy="566.0" r="2.0" fill="#F0705A"/>
<circle cx="1228.2" cy="666.5" r="1.8" fill="#F8D232"/>
<circle cx="1250.7" cy="684.0" r="1.3" fill="#F8D232"/>
<circle cx="1174.4" cy="623.6" r="2.0" fill="#F8D232"/>
<circle cx="1198.8" cy="634.9" r="2.2" fill="#F8D232"/>
<circle cx="1192.8" cy="580.6" r="1.2" fill="#F8D232"/>
<circle cx="1242.1" cy="673.6" r="2.6" fill="#3A76B2"/>
<circle cx="1234.2" cy="698.8" r="0.8" fill="#5CC8B0"/>
<circle cx="1205.5" cy="608.7" r="1.0" fill="#F8D232"/>
<circle cx="1210.0" cy="590.6" r="1.3" fill="#F8D232"/>
<circle cx="1166.0" cy="564.5" r="1.5" fill="#F8D232"/>
<circle cx="1161.6" cy="593.3" r="2.6" fill="#F8D232"/>
<circle cx="1189.7" cy="602.7" r="1.1" fill="#3A76B2"/>
<circle cx="1233.4" cy="680.9" r="1.0" fill="#F8D232"/>
<circle cx="1178.6" cy="567.5" r="2.6" fill="#5CC8B0"/>
<circle cx="1174.8" cy="585.7" r="0.8" fill="#3A76B2"/>
<circle cx="1117.3" cy="598.5" r="1.8" fill="#E476C4"/>
<circle cx="1191.7" cy="581.0" r="1.5" fill="#F8D232"/>
<circle cx="1158.3" cy="603.7" r="1.6" fill="#F8D232"/>
<circle cx="1227.0" cy="599.5" r="1.8" fill="#5CC8B0"/>
<circle cx="1205.1" cy="568.5" r="1.1" fill="#3A76B2"/>
<circle cx="1210.2" cy="667.0" r="2.2" fill="#F8D232"/>
<circle cx="1208.4" cy="572.7" r="2.2" fill="#F8D232"/>
<circle cx="1201.6" cy="677.1" r="2.6" fill="#F8D232"/>
<circle cx="1232.6" cy="691.5" r="2.6" fill="#F8D232"/>
<circle cx="1233.1" cy="624.0" r="1.0" fill="#F8D232"/>
<circle cx="1195.2" cy="566.2" r="1.8" fill="#E476C4"/>
<circle cx="1151.0" cy="592.0" r="2.2" fill="#F8D232"/>
<circle cx="1174.7" cy="649.9" r="2.6" fill="#F8D232"/>
<circle cx="1115.8" cy="584.4" r="0.8" fill="#F0705A"/>
<circle cx="1118.0" cy="592.6" r="1.8" fill="#E476C4"/>
<circle cx="1148.5" cy="574.5" r="0.8" fill="#F5A030"/>
<circle cx="1199.9" cy="662.8" r="1.6" fill="#F8D232"/>
<circle cx="1175.3" cy="596.6" r="2.0" fill="#F8D232"/>
<circle cx="1210.8" cy="641.9" r="1.2" fill="#E476C4"/>
<circle cx="1165.7" cy="620.2" r="1.5" fill="#F8D232"/>
<circle cx="1192.9" cy="627.6" r="1.5" fill="#F8D232"/>
<circle cx="1227.4" cy="575.5" r="2.2" fill="#5CC8B0"/>
<circle cx="1197.9" cy="682.7" r="1.2" fill="#F8D232"/>
<circle cx="1221.0" cy="596.0" r="2.0" fill="#5CC8B0"/>
<circle cx="1213.3" cy="592.2" r="2.2" fill="#F0705A"/>
<circle cx="1236.7" cy="636.2" r="1.5" fill="#F8D232"/>
<circle cx="1186.3" cy="629.5" r="1.0" fill="#F8D232"/>
<circle cx="1212.4" cy="641.3" r="2.0" fill="#5CC8B0"/>
<circle cx="1156.3" cy="665.8" r="1.0" fill="#5CC8B0"/>
<circle cx="1209.3" cy="616.9" r="1.1" fill="#F8D232"/>
<circle cx="1170.5" cy="670.0" r="2.2" fill="#3A76B2"/>
<circle cx="1218.1" cy="701.4" r="1.8" fill="#5CC8B0"/>
<circle cx="1174.3" cy="580.6" r="1.8" fill="#F8D232"/>
<circle cx="1232.3" cy="602.8" r="2.6" fill="#F5A030"/>
<circle cx="1161.6" cy="676.7" r="1.1" fill="#5CC8B0"/>
<circle cx="1229.2" cy="643.2" r="1.3" fill="#F8D232"/>
<circle cx="1174.9" cy="579.7" r="1.6" fill="#F8D232"/>
<circle cx="1175.9" cy="649.8" r="0.8" fill="#F8D232"/>
<circle cx="1124.4" cy="632.8" r="1.5" fill="#3A76B2"/>
<circle cx="1206.9" cy="613.8" r="1.3" fill="#E476C4"/>
<circle cx="1211.4" cy="663.2" r="1.1" fill="#5CC8B0"/>
<circle cx="1201.6" cy="631.9" r="1.5" fill="#F8D232"/>
<circle cx="1218.1" cy="624.2" r="1.6" fill="#F8D232"/>
<circle cx="1202.2" cy="615.6" r="1.2" fill="#3A76B2"/>
<circle cx="1196.1" cy="656.1" r="1.2" fill="#5CC8B0"/>
<circle cx="1256.9" cy="667.0" r="1.2" fill="#F5A030"/>
<circle cx="1180.8" cy="651.3" r="1.6" fill="#F8D232"/>
<circle cx="1221.7" cy="667.9" r="1.3" fill="#F8D232"/>
<circle cx="1182.7" cy="587.6" r="1.6" fill="#F8D232"/>
<circle cx="1173.7" cy="664.1" r="1.8" fill="#F8D232"/>
<circle cx="1173.7" cy="567.8" r="1.2" fill="#F8D232"/>
<circle cx="1225.1" cy="683.9" r="2.0" fill="#E476C4"/>
<circle cx="1171.7" cy="603.7" r="0.8" fill="#F8D232"/>
<circle cx="1243.4" cy="626.9" r="1.6" fill="#F8D232"/>
<circle cx="1170.5" cy="692.7" r="1.8" fill="#F8D232"/>
<circle cx="1225.6" cy="689.8" r="1.8" fill="#F0705A"/>
<circle cx="1206.5" cy="642.8" r="0.8" fill="#F8D232"/>
<circle cx="1193.3" cy="617.8" r="2.2" fill="#F0705A"/>
<circle cx="1203.8" cy="682.2" r="0.8" fill="#F8D232"/>
<circle cx="1211.8" cy="612.3" r="2.6" fill="#F8D232"/>
<circle cx="1254.3" cy="632.7" r="1.2" fill="#5CC8B0"/>
<circle cx="1169.8" cy="656.8" r="1.8" fill="#F8D232"/>
<circle cx="1222.0" cy="660.7" r="1.3" fill="#F8D232"/>
<circle cx="1153.0" cy="663.2" r="1.0" fill="#F0705A"/>
<circle cx="1215.9" cy="562.2" r="2.0" fill="#F0705A"/>
<circle cx="1156.8" cy="690.2" r="1.8" fill="#5CC8B0"/>
<circle cx="1229.5" cy="630.3" r="1.0" fill="#5CC8B0"/>
<circle cx="1179.5" cy="621.2" r="1.0" fill="#F8D232"/>
<circle cx="1220.8" cy="682.2" r="2.6" fill="#F8D232"/>
<circle cx="1242.7" cy="641.6" r="1.8" fill="#F0705A"/>
<circle cx="1245.4" cy="623.5" r="1.3" fill="#F8D232"/>
<circle cx="1121.7" cy="572.3" r="0.8" fill="#F0705A"/>
<circle cx="1153.2" cy="673.4" r="1.1" fill="#F8D232"/>
<circle cx="1194.4" cy="618.2" r="1.6" fill="#F0705A"/>
<circle cx="1197.1" cy="582.4" r="1.8" fill="#F8D232"/>
<circle cx="1216.3" cy="672.7" r="1.6" fill="#5CC8B0"/>
<circle cx="1182.2" cy="706.3" r="1.0" fill="#F0705A"/>
<circle cx="1184.6" cy="704.5" r="1.8" fill="#E476C4"/>
<circle cx="1191.8" cy="700.5" r="1.0" fill="#F8D232"/>
<circle cx="1190.1" cy="697.9" r="1.8" fill="#3A76B2"/>
<circle cx="1196.8" cy="697.1" r="1.4" fill="#F0705A"/>
<circle cx="1231.0" cy="706.1" r="1.0" fill="#3A76B2"/>
<circle cx="1214.7" cy="704.0" r="1.0" fill="#F8D232"/>
<circle cx="1229.5" cy="705.1" r="1.4" fill="#3A76B2"/>
<circle cx="1184.9" cy="697.7" r="1.8" fill="#F8D232"/>
<circle cx="1233.9" cy="696.8" r="1.0" fill="#F0705A"/>
<circle cx="1217.8" cy="700.7" r="1.4" fill="#F8D232"/>
<circle cx="1216.4" cy="703.7" r="1.4" fill="#E476C4"/>
<circle cx="1236.1" cy="699.4" r="1.0" fill="#F8D232"/>
<circle cx="1189.0" cy="705.3" r="1.8" fill="#F8D232"/>
<circle cx="1192.9" cy="697.7" r="1.0" fill="#5CC8B0"/>
<circle cx="1222.0" cy="701.0" r="1.0" fill="#F0705A"/>
<circle cx="1192.8" cy="700.8" r="1.0" fill="#F8D232"/>
<circle cx="1242.4" cy="703.6" r="1.8" fill="#F0705A"/>
</g>
<line x1="888.3" y1="484.5" x2="1291.7" y2="484.5" stroke="#444" stroke-width="1" stroke-dasharray="3.2,3"/>
<line x1="1170.5" y1="453.8" x2="1170.5" y2="755.3" stroke="#333" stroke-width="1" stroke-dasharray="3.2,3"/>
<rect x="888.3" y="453.8" width="403.4000000000001" height="301.49999999999994" fill="none" stroke="#555" stroke-width="1"/>
<path d="M888.3,453.8V755.3H1291.7" fill="none" stroke="#444" stroke-width="1.6"/>
<text x="883.5" y="462.7" font-size="11" text-anchor="end" font-family="Liberation Serif" fill="#333">3</text>
<text x="883.5" y="512.2" font-size="11" text-anchor="end" font-family="Liberation Serif" fill="#333">2</text>
<text x="883.5" y="561.7" font-size="11" text-anchor="end" font-family="Liberation Serif" fill="#333">1</text>
<text x="883.5" y="611.2" font-size="11" text-anchor="end" font-family="Liberation Serif" fill="#333">0</text>
<text x="883.5" y="660.7" font-size="11" text-anchor="end" font-family="Liberation Serif" fill="#333">−1</text>
<text x="883.5" y="710.2" font-size="11" text-anchor="end" font-family="Liberation Serif" fill="#333">−2</text>
<text x="909.2" y="767.8" font-size="10.6" text-anchor="middle" font-family="Liberation Serif" fill="#333">0.0</text>
<text x="993.5" y="767.8" font-size="10.6" text-anchor="middle" font-family="Liberation Serif" fill="#333">0.2</text>
<text x="1077.8" y="767.8" font-size="10.6" text-anchor="middle" font-family="Liberation Serif" fill="#333">0.4</text>
<text x="1162.1" y="767.8" font-size="10.6" text-anchor="middle" font-family="Liberation Serif" fill="#333">0.6</text>
<text x="1246.4" y="767.8" font-size="10.6" text-anchor="middle" font-family="Liberation Serif" fill="#333">0.8</text>
<path d="M885.8,459.0H888.3M885.8,508.5H888.3M885.8,558.0H888.3M885.8,607.5H888.3M885.8,657.0H888.3M885.8,706.5H888.3M909.2,755.3V757.8M993.5,755.3V757.8M1077.8,755.3V757.8M1162.1,755.3V757.8M1246.4,755.3V757.8" stroke="#444" stroke-width="1"/>
<text x="895.5" y="466.6" font-family="Liberation Sans" fill="#222" font-size="11.5">Module hubs</text>
<text x="1285" y="466.6" text-anchor="end" font-family="Liberation Sans" fill="#222" font-size="11.5">Network hubs</text>
<text x="895.5" y="748.6" font-family="Liberation Sans" fill="#222" font-size="11.5">Peripherals</text>
<text x="1285" y="748.6" text-anchor="end" font-family="Liberation Sans" fill="#222" font-size="11.5">Connectors</text>
<text x="1089.6" y="785.2" font-size="10.5" text-anchor="middle" font-family="Liberation Serif" fill="#777">Pi值</text>
<text transform="translate(869.2,604.5) rotate(-90)" font-size="10.5" text-anchor="middle" font-family="Liberation Serif" fill="#777">Zi值</text>
<text x="1304.9" y="466.6" font-size="11.2" font-family="Liberation Serif" fill="#222">genus</text>
<circle cx="1311.1" cy="479.6" r="4.2" fill="#F0705A"/>
<text x="1321.7" y="483.2" font-size="10.3" font-family="Liberation Serif" fill="#222">Bradyrhizobium</text>
<circle cx="1311.1" cy="492.8" r="4.2" fill="#5CC8B0"/>
<text x="1321.7" y="496.4" font-size="10.3" font-family="Liberation Serif" fill="#222">Nocardia</text>
<circle cx="1311.1" cy="505.9" r="4.2" fill="#3A76B2"/>
<text x="1321.7" y="509.5" font-size="10.3" font-family="Liberation Serif" fill="#222">Mesorhizobium</text>
<circle cx="1311.1" cy="519.1" r="4.2" fill="#E476C4"/>
<text x="1321.7" y="522.7" font-size="10.3" font-family="Liberation Serif" fill="#222">Rubrivivax</text>
<circle cx="1311.1" cy="532.2" r="4.2" fill="#F5A030"/>
<text x="1321.7" y="535.8" font-size="10.3" font-family="Liberation Serif" fill="#222">Azospirillum</text>
<circle cx="1311.1" cy="545.4" r="4.2" fill="#F8D232"/>
<text x="1321.7" y="549.0" font-size="10.3" font-family="Liberation Serif" fill="#222">Others</text>
</svg></body></html>
